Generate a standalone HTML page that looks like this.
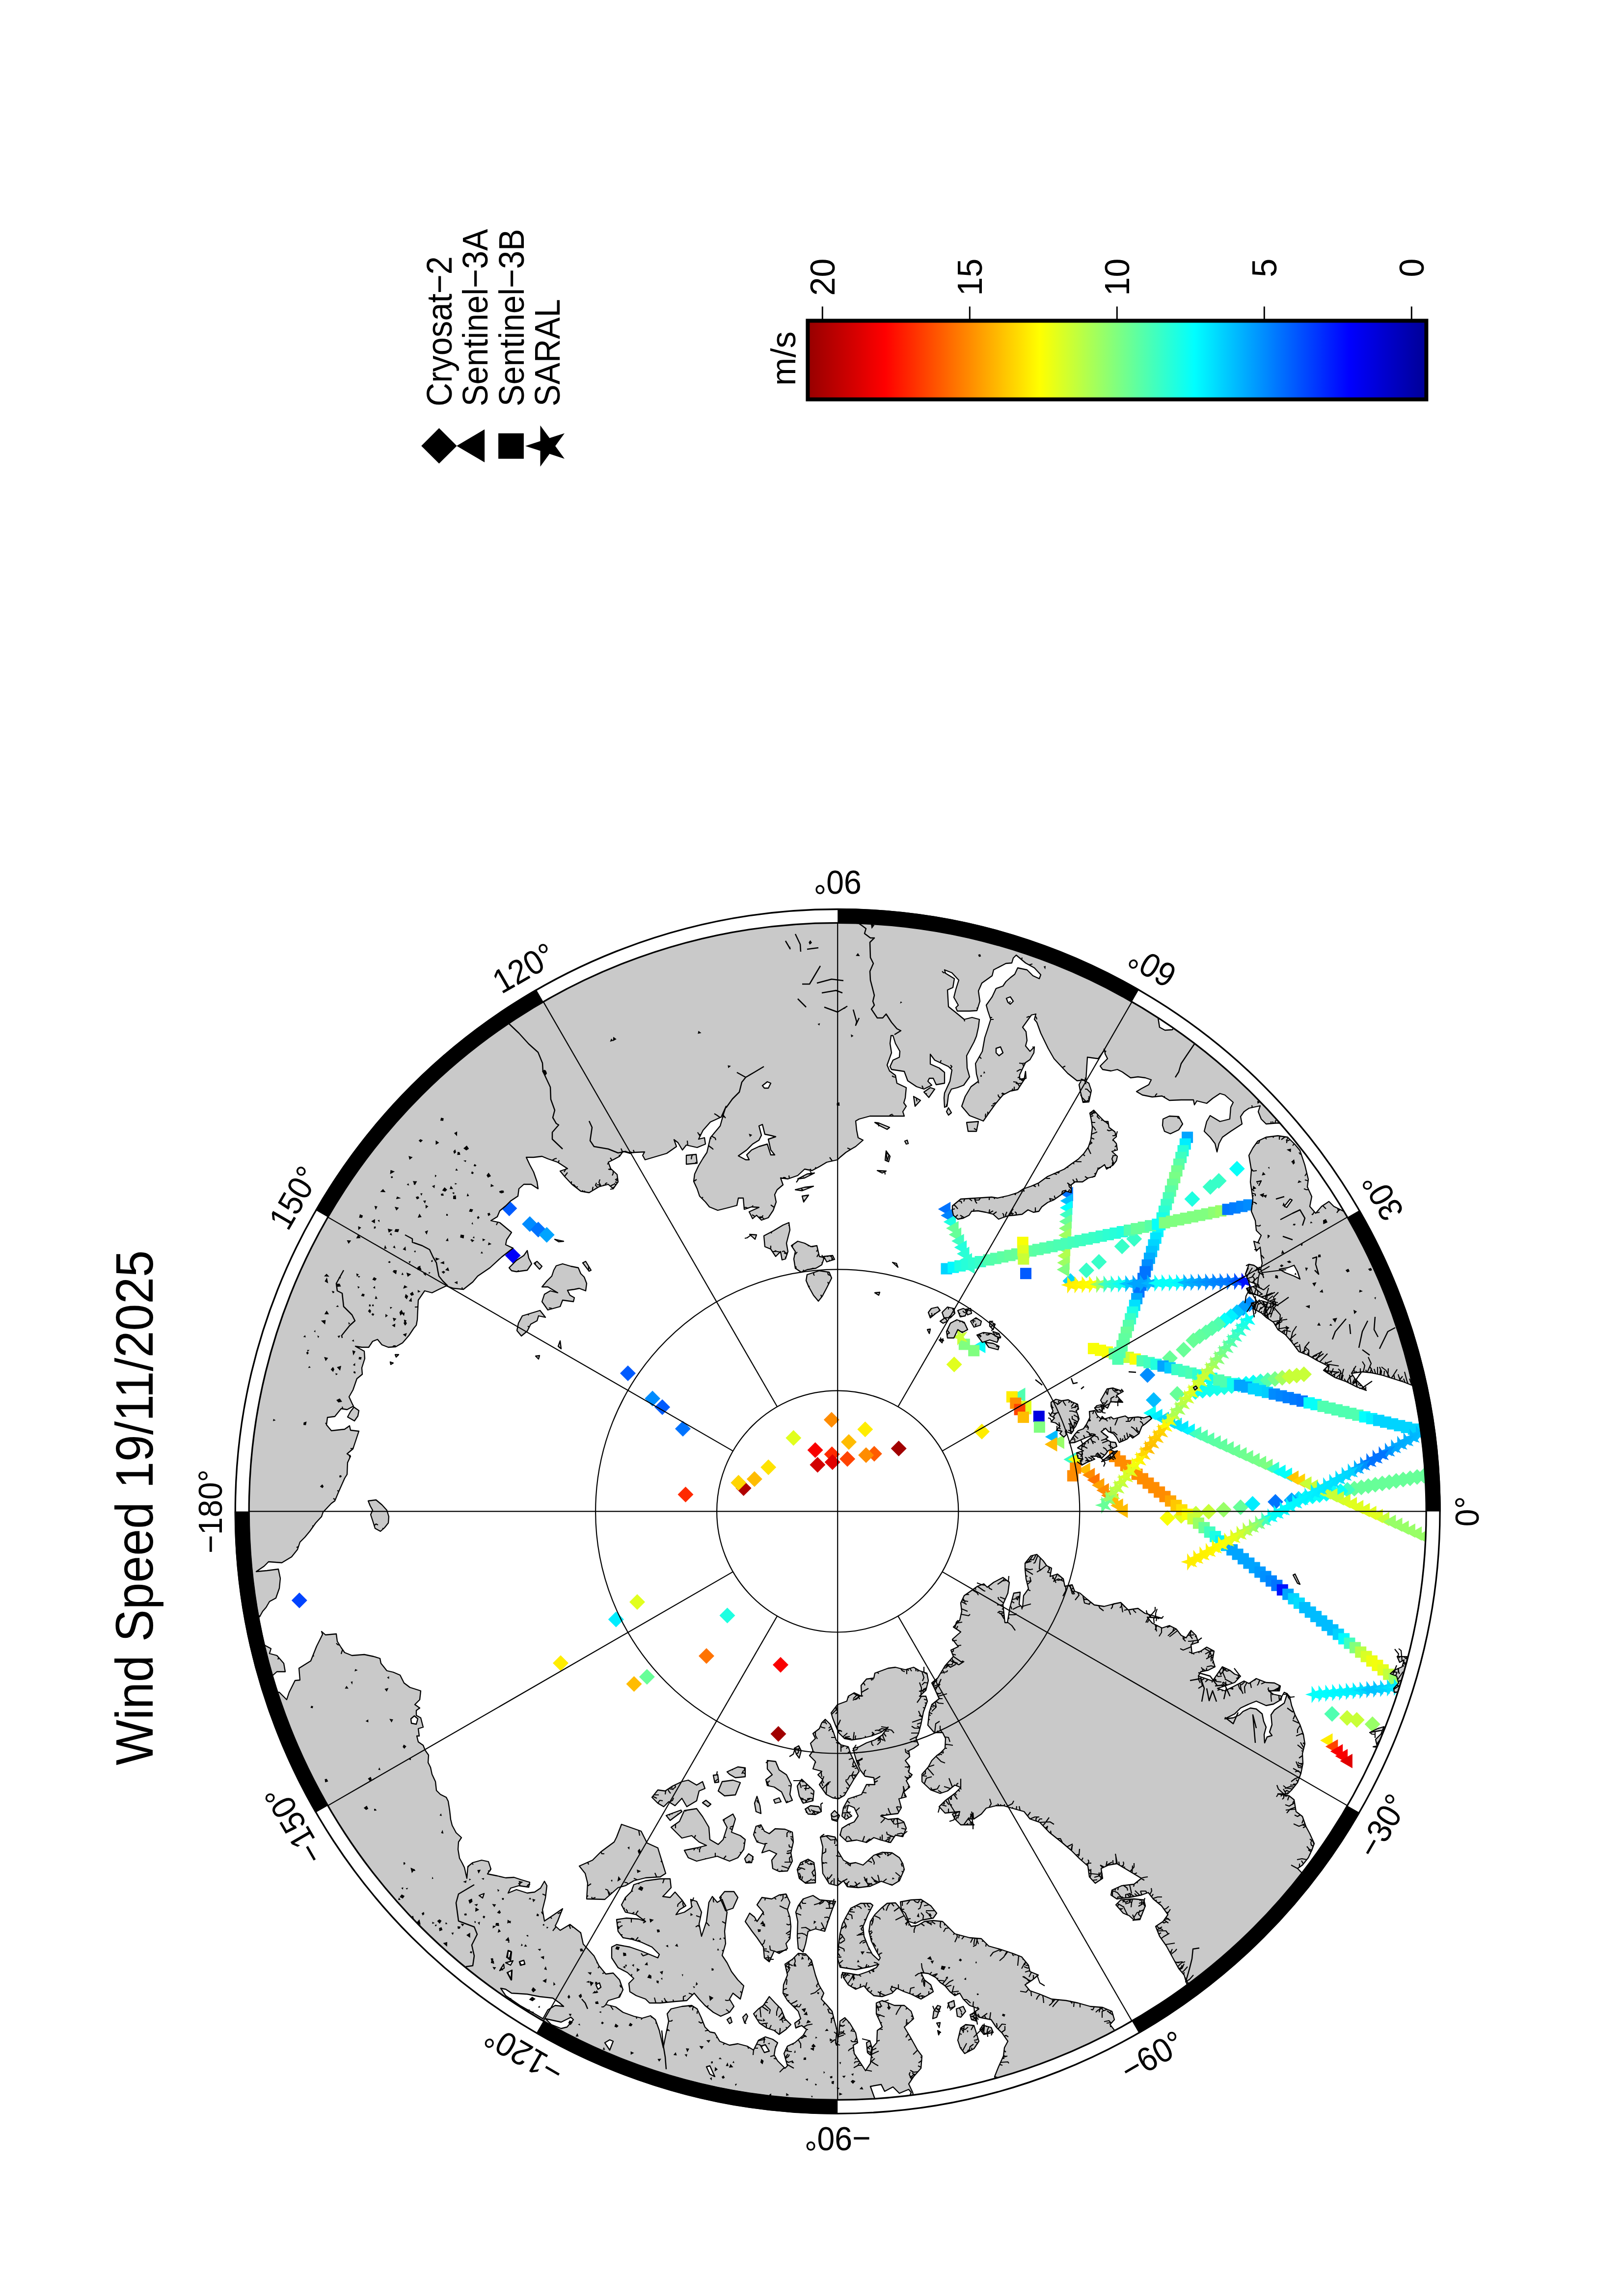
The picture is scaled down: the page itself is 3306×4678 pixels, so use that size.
<!DOCTYPE html><html><head><meta charset="utf-8"><style>html,body{margin:0;padding:0;background:#fff}svg{display:block}</style></head><body><svg width="3306" height="4678" viewBox="0 0 3306 4678"><rect width="3306" height="4678" fill="#fff"/><defs><clipPath id="mc"><circle cx="1706.2" cy="3079.4" r="1198.0"/></clipPath><linearGradient id="jet" x1="0" x2="1" y1="0" y2="0"><stop offset="0" stop-color="#960000"/><stop offset="0.125" stop-color="#ff0000"/><stop offset="0.375" stop-color="#ffff00"/><stop offset="0.625" stop-color="#00ffff"/><stop offset="0.875" stop-color="#0000ff"/><stop offset="1" stop-color="#000096"/></linearGradient></defs><g clip-path="url(#mc)"><path d="M1677.9,2892.8L1693.9,2876.8L1709.9,2892.8L1693.9,2908.8Z" fill="#ff8c00"/><path d="M1746.3,2912.3L1762.3,2896.3L1778.3,2912.3L1762.3,2928.3Z" fill="#ffed00"/><path d="M1600.3,2929.7L1616.3,2913.7L1632.3,2929.7L1616.3,2945.7Z" fill="#e1ff1e"/><path d="M1713,2937.9L1729,2921.9L1745,2937.9L1729,2953.9Z" fill="#ffbc00"/><path d="M1644.6,2954.5L1660.6,2938.5L1676.6,2954.5L1660.6,2970.5Z" fill="#f90000"/><path d="M1678.6,2963L1694.6,2947L1710.6,2963L1694.6,2979Z" fill="#ff2a00"/><path d="M1814.7,2951.2L1830.7,2935.2L1846.7,2951.2L1830.7,2967.2Z" fill="#a10000"/><path d="M1764.8,2961.9L1780.8,2945.9L1796.8,2961.9L1780.8,2977.9Z" fill="#ff5b00"/><path d="M1748.1,2964.8L1764.1,2948.8L1780.1,2964.8L1764.1,2980.8Z" fill="#ff8c00"/><path d="M1710.1,2972.6L1726.1,2956.6L1742.1,2972.6L1726.1,2988.6Z" fill="#ff4300"/><path d="M1679.7,2978.9L1695.7,2962.9L1711.7,2978.9L1695.7,2994.9Z" fill="#e10000"/><path d="M1649.4,2984.4L1665.4,2968.4L1681.4,2984.4L1665.4,3000.4Z" fill="#d20000"/><path d="M1549.2,2989.6L1565.2,2973.6L1581.2,2989.6L1565.2,3005.6Z" fill="#ffe300"/><path d="M1520.8,3013.6L1536.8,2997.6L1552.8,3013.6L1536.8,3029.6Z" fill="#ffbc00"/><path d="M1498.6,3032.1L1514.6,3016.1L1530.6,3032.1L1514.6,3048.1Z" fill="#b00000"/><path d="M1488.3,3021L1504.3,3005L1520.3,3021L1504.3,3037Z" fill="#ffd500"/><path d="M1380.5,3045L1396.5,3029L1412.5,3045L1396.5,3061Z" fill="#ff2a00"/><path d="M1465.5,3291.5L1481.5,3275.5L1497.5,3291.5L1481.5,3307.5Z" fill="#1effe1"/><path d="M1423,3374L1439,3358L1455,3374L1439,3390Z" fill="#ff7300"/><path d="M1927.6,2780L1943.6,2764L1959.6,2780L1943.6,2796Z" fill="#e1ff1e"/><path d="M1375,2911L1391,2895L1407,2911L1391,2927Z" fill="#0073ff"/><path d="M1984,2916.8L2000,2900.8L2016,2916.8L2000,2932.8Z" fill="#ffed00"/><path d="M1021.3,2461.9L1037.3,2445.9L1053.3,2461.9L1037.3,2477.9Z" fill="#005bff"/><path d="M1063.2,2494L1079.2,2478L1095.2,2494L1079.2,2510Z" fill="#008cff"/><path d="M1080.4,2505.3L1096.4,2489.3L1112.4,2505.3L1096.4,2521.3Z" fill="#0073ff"/><path d="M1097.7,2516.1L1113.7,2500.1L1129.7,2516.1L1113.7,2532.1Z" fill="#00a4ff"/><path d="M1028.7,2558L1044.7,2542L1060.7,2558L1044.7,2574Z" fill="#0000f9"/><path d="M1263,2798L1279,2782L1295,2798L1279,2814Z" fill="#005bff"/><path d="M593.8,3260.8L609.8,3244.8L625.8,3260.8L609.8,3276.8Z" fill="#0043ff"/><path d="M1238.8,3299.5L1254.8,3283.5L1270.8,3299.5L1254.8,3315.5Z" fill="#00edff"/><path d="M1126,3388.5L1142,3372.5L1158,3388.5L1142,3404.5Z" fill="#ffed00"/><path d="M1282,3264L1298,3248L1314,3264L1298,3280Z" fill="#e1ff1e"/><path d="M1275.5,3431L1291.5,3415L1307.5,3431L1291.5,3447Z" fill="#ffbc00"/><path d="M1301.9,3416.6L1317.9,3400.6L1333.9,3416.6L1317.9,3432.6Z" fill="#67ff98"/><path d="M1313.1,2849.4L1329.1,2833.4L1345.1,2849.4L1329.1,2865.4Z" fill="#008cff"/><path d="M1333.1,2867L1349.1,2851L1365.1,2867L1349.1,2883Z" fill="#005bff"/><path d="M1574,3392L1590,3376L1606,3392L1590,3408Z" fill="#f90000"/><path d="M1569.5,3532.8L1585.5,3516.8L1601.5,3532.8L1585.5,3548.8Z" fill="#a10000"/><path d="M2884.8,3006.7L2900.8,2990.7L2916.8,3006.7L2900.8,3022.7Z" fill="#67ff98"/><path d="M2870.6,3009.3L2886.6,2993.3L2902.6,3009.3L2886.6,3025.3Z" fill="#67ff98"/><path d="M2856.4,3012.0L2872.4,2996.0L2888.4,3012.0L2872.4,3028.0Z" fill="#67ff98"/><path d="M2842.2,3014.6L2858.2,2998.6L2874.2,3014.6L2858.2,3030.6Z" fill="#67ff98"/><path d="M2828.0,3017.2L2844.0,3001.2L2860.0,3017.2L2844.0,3033.2Z" fill="#67ff98"/><path d="M2813.8,3019.9L2829.8,3003.9L2845.8,3019.9L2829.8,3035.9Z" fill="#67ff98"/><path d="M2799.6,3022.5L2815.6,3006.5L2831.6,3022.5L2815.6,3038.5Z" fill="#67ff98"/><path d="M2785.4,3025.1L2801.4,3009.1L2817.4,3025.1L2801.4,3041.1Z" fill="#67ff98"/><path d="M2771.2,3027.8L2787.2,3011.8L2803.2,3027.8L2787.2,3043.8Z" fill="#67ff98"/><path d="M2757.0,3030.4L2773.0,3014.4L2789.0,3030.4L2773.0,3046.4Z" fill="#67ff98"/><path d="M2742.8,3033.0L2758.8,3017.0L2774.8,3033.0L2758.8,3049.0Z" fill="#67ff98"/><path d="M2728.6,3035.6L2744.6,3019.6L2760.6,3035.6L2744.6,3051.6Z" fill="#3fffc0"/><path d="M2714.4,3038.3L2730.4,3022.3L2746.4,3038.3L2730.4,3054.3Z" fill="#06fff9"/><path d="M2700.2,3040.9L2716.2,3024.9L2732.2,3040.9L2716.2,3056.9Z" fill="#06fff9"/><path d="M2686.0,3043.5L2702.0,3027.5L2718.0,3043.5L2702.0,3059.5Z" fill="#06fff9"/><path d="M2671.8,3046.2L2687.8,3030.2L2703.8,3046.2L2687.8,3062.2Z" fill="#06fff9"/><path d="M2657.6,3048.8L2673.6,3032.8L2689.6,3048.8L2673.6,3064.8Z" fill="#06fff9"/><path d="M2643.4,3051.4L2659.4,3035.4L2675.4,3051.4L2659.4,3067.4Z" fill="#06fff9"/><path d="M2629.2,3054.1L2645.2,3038.1L2661.2,3054.1L2645.2,3070.1Z" fill="#00d7ff"/><path d="M2615.0,3056.7L2631.0,3040.7L2647.0,3056.7L2631.0,3072.7Z" fill="#00a4ff"/><path d="M2362,3093L2378,3077L2394,3093L2378,3109Z" fill="#f9ff06"/><path d="M2390,3088.5L2406,3072.5L2422,3088.5L2406,3104.5Z" fill="#e1ff1e"/><path d="M2420,3084L2436,3068L2452,3084L2436,3100Z" fill="#c8ff37"/><path d="M2446,3080L2462,3064L2478,3080L2462,3096Z" fill="#c8ff37"/><path d="M2476.5,3076L2492.5,3060L2508.5,3076L2492.5,3092Z" fill="#98ff67"/><path d="M2511,3071L2527,3055L2543,3071L2527,3087Z" fill="#67ff98"/><path d="M2535.5,3064L2551.5,3048L2567.5,3064L2551.5,3080Z" fill="#00edff"/><path d="M2582,3060L2598,3044L2614,3060L2598,3076Z" fill="#0073ff"/><path d="M2529.0,2657.0L2545.0,2641.0L2561.0,2657.0L2545.0,2673.0Z" fill="#008cff"/><path d="M2516.3,2665.2L2532.3,2649.2L2548.3,2665.2L2532.3,2681.2Z" fill="#009eff"/><path d="M2503.7,2673.4L2519.7,2657.4L2535.7,2673.4L2519.7,2689.4Z" fill="#00c7ff"/><path d="M2491.0,2681.7L2507.0,2665.7L2523.0,2681.7L2507.0,2697.7Z" fill="#00f2ff"/><path d="M2478.3,2689.9L2494.3,2673.9L2510.3,2689.9L2494.3,2705.9Z" fill="#05fffa"/><path d="M2465.7,2698.1L2481.7,2682.1L2497.7,2698.1L2481.7,2714.1Z" fill="#4fffb0"/><path d="M2453.0,2706.3L2469.0,2690.3L2485.0,2706.3L2469.0,2722.3Z" fill="#55ffaa"/><path d="M2440.3,2714.6L2456.3,2698.6L2472.3,2714.6L2456.3,2730.6Z" fill="#5bffa4"/><path d="M2427.7,2722.8L2443.7,2706.8L2459.7,2722.8L2443.7,2738.8Z" fill="#61ff9e"/><path d="M2415.0,2731.0L2431.0,2715.0L2447.0,2731.0L2431.0,2747.0Z" fill="#67ff98"/><path d="M2395,2750L2411,2734L2427,2750L2411,2766Z" fill="#67ff98"/><path d="M2367,2767L2383,2751L2399,2767L2383,2783Z" fill="#67ff98"/><path d="M2321.4,2801.5L2337.4,2785.5L2353.4,2801.5L2337.4,2817.5Z" fill="#008cff"/><path d="M2419.0,2836.0L2435.0,2820.0L2451.0,2836.0L2435.0,2852.0Z" fill="#06fff9"/><path d="M2433.7,2833.6L2449.7,2817.6L2465.7,2833.6L2449.7,2849.6Z" fill="#0bfff4"/><path d="M2448.5,2831.2L2464.5,2815.2L2480.5,2831.2L2464.5,2847.2Z" fill="#11ffee"/><path d="M2463.2,2828.8L2479.2,2812.8L2495.2,2828.8L2479.2,2844.8Z" fill="#16ffe9"/><path d="M2477.9,2826.4L2493.9,2810.4L2509.9,2826.4L2493.9,2842.4Z" fill="#1cffe3"/><path d="M2492.7,2824.0L2508.7,2808.0L2524.7,2824.0L2508.7,2840.0Z" fill="#19ffe6"/><path d="M2507.4,2821.6L2523.4,2805.6L2539.4,2821.6L2523.4,2837.6Z" fill="#0efff1"/><path d="M2522.1,2819.2L2538.1,2803.2L2554.1,2819.2L2538.1,2835.2Z" fill="#06fff9"/><path d="M2536.9,2816.8L2552.9,2800.8L2568.9,2816.8L2552.9,2832.8Z" fill="#06fff9"/><path d="M2551.6,2814.4L2567.6,2798.4L2583.6,2814.4L2567.6,2830.4Z" fill="#2bffd4"/><path d="M2566.3,2812.0L2582.3,2796.0L2598.3,2812.0L2582.3,2828.0Z" fill="#57ffa8"/><path d="M2581.1,2809.6L2597.1,2793.6L2613.1,2809.6L2597.1,2825.6Z" fill="#77ff88"/><path d="M2595.8,2807.2L2611.8,2791.2L2627.8,2807.2L2611.8,2823.2Z" fill="#a4ff5b"/><path d="M2610.5,2804.8L2626.5,2788.8L2642.5,2804.8L2626.5,2820.8Z" fill="#c8ff37"/><path d="M2625.3,2802.4L2641.3,2786.4L2657.3,2802.4L2641.3,2818.4Z" fill="#c8ff37"/><path d="M2640.0,2800.0L2656.0,2784.0L2672.0,2800.0L2656.0,2816.0Z" fill="#c8ff37"/><path d="M2382,2840L2398,2824L2414,2840L2398,2856Z" fill="#67ff98"/><path d="M2334,2852.5L2350,2836.5L2366,2852.5L2350,2868.5Z" fill="#00bcff"/><path d="M2503.7,2381.3L2519.7,2365.3L2535.7,2381.3L2519.7,2397.3Z" fill="#06fff9"/><path d="M2466.7,2405.9L2482.7,2389.9L2498.7,2405.9L2482.7,2421.9Z" fill="#37ffc8"/><path d="M2449.5,2418.3L2465.5,2402.3L2481.5,2418.3L2465.5,2434.3Z" fill="#37ffc8"/><path d="M2412.5,2442.9L2428.5,2426.9L2444.5,2442.9L2428.5,2458.9Z" fill="#1effe1"/><path d="M2294.2,2524.2L2310.2,2508.2L2326.2,2524.2L2310.2,2540.2Z" fill="#37ffc8"/><path d="M2269.6,2539.5L2285.6,2523.5L2301.6,2539.5L2285.6,2555.5Z" fill="#37ffc8"/><path d="M2222.5,2571L2238.5,2555L2254.5,2571L2238.5,2587Z" fill="#37ffc8"/><path d="M2197,2588.2L2213,2572.2L2229,2588.2L2213,2604.2Z" fill="#37ffc8"/><path d="M2164.5,2610L2180.5,2594L2196.5,2610L2180.5,2626Z" fill="#00d4ff"/><path d="M2697.4,3491.9L2713.4,3475.9L2729.4,3491.9L2713.4,3507.9Z" fill="#4fffb0"/><path d="M2728,3500.2L2744,3484.2L2760,3500.2L2744,3516.2Z" fill="#c8ff37"/><path d="M2747.7,3504.2L2763.7,3488.2L2779.7,3504.2L2763.7,3520.2Z" fill="#c8ff37"/><path d="M2779.7,3513.1L2795.7,3497.1L2811.7,3513.1L2795.7,3529.1Z" fill="#98ff67"/><path d="M2329.0,2879.0L2354.5,2864.3L2354.5,2893.7Z" fill="#06fff9"/><path d="M2342.2,2885.0L2367.7,2870.3L2367.7,2899.7Z" fill="#00eeff"/><path d="M2355.4,2891.0L2380.9,2876.3L2380.9,2905.7Z" fill="#00d7ff"/><path d="M2368.6,2897.0L2394.1,2882.3L2394.1,2911.7Z" fill="#00daff"/><path d="M2381.8,2903.0L2407.3,2888.3L2407.3,2917.7Z" fill="#00e1ff"/><path d="M2395.0,2909.0L2420.5,2894.3L2420.5,2923.7Z" fill="#00e7ff"/><path d="M2408.3,2914.9L2433.8,2900.2L2433.8,2929.6Z" fill="#00f6ff"/><path d="M2421.5,2920.9L2447.0,2906.2L2447.0,2935.6Z" fill="#44ffbb"/><path d="M2434.7,2926.9L2460.2,2912.2L2460.2,2941.6Z" fill="#53ffac"/><path d="M2447.9,2932.9L2473.4,2918.2L2473.4,2947.6Z" fill="#57ffa8"/><path d="M2461.1,2938.9L2486.6,2924.2L2486.6,2953.6Z" fill="#5cffa3"/><path d="M2474.3,2944.9L2499.8,2930.2L2499.8,2959.6Z" fill="#60ff9f"/><path d="M2487.5,2950.9L2513.0,2936.2L2513.0,2965.6Z" fill="#65ff9a"/><path d="M2500.7,2956.9L2526.2,2942.2L2526.2,2971.6Z" fill="#69ff96"/><path d="M2513.9,2962.9L2539.4,2948.2L2539.4,2977.6Z" fill="#6dff92"/><path d="M2527.1,2968.9L2552.6,2954.2L2552.6,2983.6Z" fill="#71ff8e"/><path d="M2540.4,2974.8L2565.9,2960.1L2565.9,2989.5Z" fill="#75ff8a"/><path d="M2553.6,2980.8L2579.1,2966.1L2579.1,2995.5Z" fill="#79ff86"/><path d="M2566.8,2986.8L2592.3,2972.1L2592.3,3001.5Z" fill="#7eff81"/><path d="M2580.0,2992.8L2605.5,2978.1L2605.5,3007.5Z" fill="#34ffcb"/><path d="M2593.2,2998.8L2618.7,2984.1L2618.7,3013.5Z" fill="#06fff9"/><path d="M2606.4,3004.8L2631.9,2990.1L2631.9,3019.5Z" fill="#06fff9"/><path d="M2619.6,3010.8L2645.1,2996.1L2645.1,3025.5Z" fill="#ffc500"/><path d="M2632.8,3016.8L2658.3,3002.1L2658.3,3031.5Z" fill="#ffd300"/><path d="M2646.0,3022.8L2671.5,3008.1L2671.5,3037.5Z" fill="#c8ff37"/><path d="M2659.2,3028.8L2684.7,3014.1L2684.7,3043.5Z" fill="#c8ff37"/><path d="M2672.4,3034.8L2697.9,3020.1L2697.9,3049.5Z" fill="#c8ff37"/><path d="M2685.7,3040.7L2711.2,3026.0L2711.2,3055.4Z" fill="#c8ff37"/><path d="M2698.9,3046.7L2724.4,3032.0L2724.4,3061.4Z" fill="#c8ff37"/><path d="M2712.1,3052.7L2737.6,3038.0L2737.6,3067.4Z" fill="#c8ff37"/><path d="M2725.3,3058.7L2750.8,3044.0L2750.8,3073.4Z" fill="#daff25"/><path d="M2738.5,3064.7L2764.0,3050.0L2764.0,3079.4Z" fill="#e1ff1e"/><path d="M2751.7,3070.7L2777.2,3056.0L2777.2,3085.4Z" fill="#e1ff1e"/><path d="M2764.9,3076.7L2790.4,3062.0L2790.4,3091.4Z" fill="#e1ff1e"/><path d="M2778.1,3082.7L2803.6,3068.0L2803.6,3097.4Z" fill="#e1ff1e"/><path d="M2791.3,3088.7L2816.8,3074.0L2816.8,3103.4Z" fill="#e1ff1e"/><path d="M2804.5,3094.7L2830.0,3080.0L2830.0,3109.4Z" fill="#c7ff38"/><path d="M2817.8,3100.6L2843.3,3085.9L2843.3,3115.3Z" fill="#98ff67"/><path d="M2831.0,3106.6L2856.5,3091.9L2856.5,3121.3Z" fill="#98ff67"/><path d="M2844.2,3112.6L2869.7,3097.9L2869.7,3127.3Z" fill="#98ff67"/><path d="M2857.4,3118.6L2882.9,3103.9L2882.9,3133.3Z" fill="#98ff67"/><path d="M2870.6,3124.6L2896.1,3109.9L2896.1,3139.3Z" fill="#98ff67"/><path d="M2883.8,3130.6L2909.3,3115.9L2909.3,3145.3Z" fill="#98ff67"/><path d="M2160.3,2432.7L2185.8,2418.0L2185.8,2447.4Z" fill="#0073ff"/><path d="M2159.6,2446.7L2185.1,2432.0L2185.1,2461.4Z" fill="#00bdff"/><path d="M2158.9,2460.7L2184.4,2446.0L2184.4,2475.4Z" fill="#02fffd"/><path d="M2158.2,2474.7L2183.7,2460.0L2183.7,2489.4Z" fill="#3dffc2"/><path d="M2157.5,2488.7L2183.0,2474.0L2183.0,2503.4Z" fill="#66ff99"/><path d="M2156.8,2502.7L2182.3,2488.0L2182.3,2517.4Z" fill="#87ff78"/><path d="M2156.1,2516.8L2181.6,2502.1L2181.6,2531.5Z" fill="#9fff60"/><path d="M2155.4,2530.8L2180.9,2516.1L2180.9,2545.5Z" fill="#aeff51"/><path d="M2154.7,2544.8L2180.2,2530.1L2180.2,2559.5Z" fill="#b0ff4f"/><path d="M2154.0,2558.8L2179.5,2544.1L2179.5,2573.5Z" fill="#b0ff4f"/><path d="M2153.3,2572.8L2178.8,2558.1L2178.8,2587.5Z" fill="#9dff62"/><path d="M2152.6,2586.8L2178.1,2572.1L2178.1,2601.5Z" fill="#80ff80"/><path d="M1910.7,2463.5L1936.2,2448.8L1936.2,2478.2Z" fill="#0073ff"/><path d="M1916.2,2476.5L1941.7,2461.8L1941.7,2491.2Z" fill="#0084ff"/><path d="M1921.7,2489.5L1947.2,2474.8L1947.2,2504.2Z" fill="#1cffe3"/><path d="M1927.1,2502.5L1952.6,2487.8L1952.6,2517.2Z" fill="#67ff98"/><path d="M1932.6,2515.5L1958.1,2500.8L1958.1,2530.2Z" fill="#67ff98"/><path d="M1938.1,2528.6L1963.6,2513.9L1963.6,2543.3Z" fill="#3fffc0"/><path d="M1943.6,2541.6L1969.1,2526.9L1969.1,2556.3Z" fill="#22ffdd"/><path d="M1949.0,2554.6L1974.5,2539.9L1974.5,2569.3Z" fill="#29ffd6"/><path d="M1954.5,2567.6L1980.0,2552.9L1980.0,2582.3Z" fill="#30ffcf"/><path d="M1960.0,2580.6L1985.5,2565.9L1985.5,2595.3Z" fill="#37ffc8"/><path d="M2063,2842L2088.5,2827.3L2088.5,2856.7Z" fill="#4fffb0"/><path d="M1981.8,2742.4L2007.3,2727.7L2007.3,2757.1Z" fill="#06fff9"/><path d="M2128.8,2927.4L2154.3,2912.7L2154.3,2942.1Z" fill="#00bcff"/><path d="M2142.4,2937.5L2167.9,2922.8L2167.9,2952.2Z" fill="#98ff67"/><path d="M2127.9,2942.7L2153.4,2928.0L2153.4,2957.4Z" fill="#ffbc00"/><path d="M2166.4,2973.6L2191.9,2958.9L2191.9,2988.3Z" fill="#37ffc8"/><path d="M2175.7,2973.6L2201.2,2958.9L2201.2,2988.3Z" fill="#f9ff06"/><path d="M2195.1,2994.8L2220.6,2980.1L2220.6,3009.5Z" fill="#ffbc00"/><path d="M2204.7,3005.2L2230.2,2990.5L2230.2,3019.9Z" fill="#ff8b00"/><path d="M2214.3,3015.6L2239.8,3000.9L2239.8,3030.3Z" fill="#ff7300"/><path d="M2223.9,3026.0L2249.4,3011.3L2249.4,3040.7Z" fill="#ffa200"/><path d="M2233.4,3036.4L2258.9,3021.7L2258.9,3051.1Z" fill="#ff8c00"/><path d="M2243.0,3046.8L2268.5,3032.1L2268.5,3061.5Z" fill="#ff8e00"/><path d="M2252.6,3057.2L2278.1,3042.5L2278.1,3071.9Z" fill="#ffbc00"/><path d="M2262.2,3067.6L2287.7,3052.9L2287.7,3082.3Z" fill="#ffbc00"/><path d="M2271.8,3078.0L2297.3,3063.3L2297.3,3092.7Z" fill="#ffbc00"/><path d="M2689,3546.1L2714.5,3531.4L2714.5,3560.8Z" fill="#ffed00"/><path d="M2699.8,3558.4L2725.3,3543.7L2725.3,3573.1Z" fill="#ff4300"/><path d="M2709.7,3568.3L2735.2,3553.6L2735.2,3583.0Z" fill="#f90000"/><path d="M2719.6,3578.1L2745.1,3563.4L2745.1,3592.8Z" fill="#f90000"/><path d="M2729.4,3588L2754.9,3573.3L2754.9,3602.7Z" fill="#e10000"/><rect x="2215.9" y="2736.1" width="23.0" height="23.0" fill="#f9ff06"/><rect x="2230.1" y="2739.7" width="23.0" height="23.0" fill="#f9ff06"/><rect x="2244.2" y="2743.2" width="23.0" height="23.0" fill="#f9ff06"/><rect x="2258.4" y="2746.8" width="23.0" height="23.0" fill="#67ff98"/><rect x="2272.6" y="2750.4" width="23.0" height="23.0" fill="#67ff98"/><rect x="2286.8" y="2754.0" width="23.0" height="23.0" fill="#c4ff3b"/><rect x="2300.9" y="2757.5" width="23.0" height="23.0" fill="#f9ff06"/><rect x="2315.1" y="2761.1" width="23.0" height="23.0" fill="#4dffb2"/><rect x="2329.3" y="2764.7" width="23.0" height="23.0" fill="#41ffbe"/><rect x="2343.4" y="2768.2" width="23.0" height="23.0" fill="#21ffde"/><rect x="2357.6" y="2771.8" width="23.0" height="23.0" fill="#00a4ff"/><rect x="2371.8" y="2775.4" width="23.0" height="23.0" fill="#00cbff"/><rect x="2385.9" y="2778.9" width="23.0" height="23.0" fill="#3affc5"/><rect x="2400.1" y="2782.5" width="23.0" height="23.0" fill="#42ffbd"/><rect x="2414.3" y="2786.1" width="23.0" height="23.0" fill="#4affb5"/><rect x="2428.5" y="2789.7" width="23.0" height="23.0" fill="#2effd1"/><rect x="2442.6" y="2793.2" width="23.0" height="23.0" fill="#06fff9"/><rect x="2456.8" y="2796.8" width="23.0" height="23.0" fill="#0cfff3"/><rect x="2471.0" y="2800.4" width="23.0" height="23.0" fill="#4fffb0"/><rect x="2485.1" y="2803.9" width="23.0" height="23.0" fill="#4fffb0"/><rect x="2499.3" y="2807.5" width="23.0" height="23.0" fill="#10ffef"/><rect x="2513.5" y="2811.1" width="23.0" height="23.0" fill="#00a4ff"/><rect x="2527.6" y="2814.6" width="23.0" height="23.0" fill="#00a4ff"/><rect x="2541.8" y="2818.2" width="23.0" height="23.0" fill="#00d4ff"/><rect x="2556.0" y="2821.8" width="23.0" height="23.0" fill="#00d4ff"/><rect x="2570.2" y="2825.4" width="23.0" height="23.0" fill="#00ceff"/><rect x="2584.3" y="2828.9" width="23.0" height="23.0" fill="#008bff"/><rect x="2598.5" y="2832.5" width="23.0" height="23.0" fill="#0085ff"/><rect x="2612.7" y="2836.1" width="23.0" height="23.0" fill="#007fff"/><rect x="2626.8" y="2839.6" width="23.0" height="23.0" fill="#007aff"/><rect x="2641.0" y="2843.2" width="23.0" height="23.0" fill="#0074ff"/><rect x="2655.2" y="2846.8" width="23.0" height="23.0" fill="#06fff9"/><rect x="2669.3" y="2850.3" width="23.0" height="23.0" fill="#06fff9"/><rect x="2683.5" y="2853.9" width="23.0" height="23.0" fill="#4fffb0"/><rect x="2697.7" y="2857.5" width="23.0" height="23.0" fill="#4fffb0"/><rect x="2711.9" y="2861.1" width="23.0" height="23.0" fill="#4fffb0"/><rect x="2726.0" y="2864.6" width="23.0" height="23.0" fill="#4fffb0"/><rect x="2740.2" y="2868.2" width="23.0" height="23.0" fill="#4fffb0"/><rect x="2754.4" y="2871.8" width="23.0" height="23.0" fill="#4fffb0"/><rect x="2768.5" y="2875.3" width="23.0" height="23.0" fill="#02fffd"/><rect x="2782.7" y="2878.9" width="23.0" height="23.0" fill="#00f0ff"/><rect x="2796.9" y="2882.5" width="23.0" height="23.0" fill="#00d4ff"/><rect x="2811.0" y="2886.0" width="23.0" height="23.0" fill="#00d4ff"/><rect x="2825.2" y="2889.6" width="23.0" height="23.0" fill="#00d4ff"/><rect x="2839.4" y="2893.2" width="23.0" height="23.0" fill="#00d4ff"/><rect x="2853.6" y="2896.8" width="23.0" height="23.0" fill="#00d4ff"/><rect x="2867.7" y="2900.3" width="23.0" height="23.0" fill="#00d4ff"/><rect x="2881.9" y="2903.9" width="23.0" height="23.0" fill="#00d4ff"/><rect x="2259.0" y="2956.1" width="23.0" height="23.0" fill="#ff8c00"/><rect x="2270.4" y="2965.2" width="23.0" height="23.0" fill="#ff8c00"/><rect x="2281.8" y="2974.2" width="23.0" height="23.0" fill="#ff8c00"/><rect x="2293.2" y="2983.3" width="23.0" height="23.0" fill="#ff8c00"/><rect x="2304.6" y="2992.3" width="23.0" height="23.0" fill="#ff8c00"/><rect x="2316.0" y="3001.4" width="23.0" height="23.0" fill="#ff8c00"/><rect x="2327.4" y="3010.4" width="23.0" height="23.0" fill="#ff8c00"/><rect x="2338.7" y="3019.5" width="23.0" height="23.0" fill="#ff8c00"/><rect x="2350.1" y="3028.5" width="23.0" height="23.0" fill="#ff8c00"/><rect x="2361.5" y="3037.6" width="23.0" height="23.0" fill="#ff8c00"/><rect x="2372.9" y="3046.7" width="23.0" height="23.0" fill="#ffa400"/><rect x="2384.3" y="3055.7" width="23.0" height="23.0" fill="#ffc800"/><rect x="2395.7" y="3064.8" width="23.0" height="23.0" fill="#ffe100"/><rect x="2407.1" y="3073.8" width="23.0" height="23.0" fill="#f9ff06"/><rect x="2418.5" y="3082.9" width="23.0" height="23.0" fill="#c8ff37"/><rect x="2429.9" y="3091.9" width="23.0" height="23.0" fill="#98ff67"/><rect x="2441.3" y="3101.0" width="23.0" height="23.0" fill="#67ff98"/><rect x="2452.7" y="3110.1" width="23.0" height="23.0" fill="#40ffbf"/><rect x="2464.1" y="3119.1" width="23.0" height="23.0" fill="#1affe5"/><rect x="2475.4" y="3128.2" width="23.0" height="23.0" fill="#00f2ff"/><rect x="2486.8" y="3137.2" width="23.0" height="23.0" fill="#00cbff"/><rect x="2498.2" y="3146.3" width="23.0" height="23.0" fill="#00a4ff"/><rect x="2509.6" y="3155.3" width="23.0" height="23.0" fill="#00a4ff"/><rect x="2521.0" y="3164.4" width="23.0" height="23.0" fill="#00a4ff"/><rect x="2532.4" y="3173.4" width="23.0" height="23.0" fill="#00a4ff"/><rect x="2543.8" y="3182.5" width="23.0" height="23.0" fill="#00a4ff"/><rect x="2555.2" y="3191.6" width="23.0" height="23.0" fill="#009aff"/><rect x="2566.6" y="3200.6" width="23.0" height="23.0" fill="#0090ff"/><rect x="2578.0" y="3209.7" width="23.0" height="23.0" fill="#0084ff"/><rect x="2589.4" y="3218.7" width="23.0" height="23.0" fill="#0073ff"/><rect x="2600.8" y="3227.8" width="23.0" height="23.0" fill="#0012ff"/><rect x="2612.2" y="3236.8" width="23.0" height="23.0" fill="#00a4ff"/><rect x="2623.5" y="3245.9" width="23.0" height="23.0" fill="#00d4ff"/><rect x="2634.9" y="3254.9" width="23.0" height="23.0" fill="#00ddff"/><rect x="2646.3" y="3264.0" width="23.0" height="23.0" fill="#00bcff"/><rect x="2657.7" y="3273.1" width="23.0" height="23.0" fill="#00bcff"/><rect x="2669.1" y="3282.1" width="23.0" height="23.0" fill="#00bcff"/><rect x="2680.5" y="3291.2" width="23.0" height="23.0" fill="#00bcff"/><rect x="2691.9" y="3300.2" width="23.0" height="23.0" fill="#00bcff"/><rect x="2703.3" y="3309.3" width="23.0" height="23.0" fill="#00bcff"/><rect x="2714.7" y="3318.3" width="23.0" height="23.0" fill="#00d1ff"/><rect x="2726.1" y="3327.4" width="23.0" height="23.0" fill="#00fbff"/><rect x="2737.5" y="3336.5" width="23.0" height="23.0" fill="#40ffbf"/><rect x="2748.9" y="3345.5" width="23.0" height="23.0" fill="#83ff7c"/><rect x="2760.2" y="3354.6" width="23.0" height="23.0" fill="#baff45"/><rect x="2771.6" y="3363.6" width="23.0" height="23.0" fill="#d9ff26"/><rect x="2783.0" y="3372.7" width="23.0" height="23.0" fill="#eeff11"/><rect x="2794.4" y="3381.7" width="23.0" height="23.0" fill="#f2ff0d"/><rect x="2805.8" y="3390.8" width="23.0" height="23.0" fill="#e4ff1b"/><rect x="2817.2" y="3399.8" width="23.0" height="23.0" fill="#c1ff3e"/><rect x="2828.6" y="3408.9" width="23.0" height="23.0" fill="#98ff67"/><rect x="2407.1" y="2305.7" width="23.0" height="23.0" fill="#00a4ff"/><rect x="2402.8" y="2319.4" width="23.0" height="23.0" fill="#00eeff"/><rect x="2398.5" y="2333.1" width="23.0" height="23.0" fill="#27ffd8"/><rect x="2394.2" y="2346.8" width="23.0" height="23.0" fill="#3fffc0"/><rect x="2389.9" y="2360.5" width="23.0" height="23.0" fill="#58ffa7"/><rect x="2385.6" y="2374.2" width="23.0" height="23.0" fill="#71ff8e"/><rect x="2381.4" y="2387.9" width="23.0" height="23.0" fill="#79ff86"/><rect x="2377.1" y="2401.6" width="23.0" height="23.0" fill="#6aff95"/><rect x="2372.8" y="2415.3" width="23.0" height="23.0" fill="#5affa5"/><rect x="2368.5" y="2429.0" width="23.0" height="23.0" fill="#4affb5"/><rect x="2364.2" y="2442.7" width="23.0" height="23.0" fill="#3affc5"/><rect x="2359.9" y="2456.4" width="23.0" height="23.0" fill="#2affd5"/><rect x="2355.6" y="2470.1" width="23.0" height="23.0" fill="#19ffe6"/><rect x="2351.3" y="2483.8" width="23.0" height="23.0" fill="#08fff7"/><rect x="2347.0" y="2497.5" width="23.0" height="23.0" fill="#00f6ff"/><rect x="2342.7" y="2511.2" width="23.0" height="23.0" fill="#00e5ff"/><rect x="2338.4" y="2524.9" width="23.0" height="23.0" fill="#00d5ff"/><rect x="2334.2" y="2538.5" width="23.0" height="23.0" fill="#00c4ff"/><rect x="2329.9" y="2552.2" width="23.0" height="23.0" fill="#00acff"/><rect x="2325.6" y="2565.9" width="23.0" height="23.0" fill="#008dff"/><rect x="2321.3" y="2579.6" width="23.0" height="23.0" fill="#0073ff"/><rect x="2317.0" y="2593.3" width="23.0" height="23.0" fill="#0073ff"/><rect x="2312.7" y="2607.0" width="23.0" height="23.0" fill="#0073ff"/><rect x="2308.4" y="2620.7" width="23.0" height="23.0" fill="#0073ff"/><rect x="2304.1" y="2634.4" width="23.0" height="23.0" fill="#00a7ff"/><rect x="2299.8" y="2648.1" width="23.0" height="23.0" fill="#00e0ff"/><rect x="2295.5" y="2661.8" width="23.0" height="23.0" fill="#1affe5"/><rect x="2291.2" y="2675.5" width="23.0" height="23.0" fill="#38ffc7"/><rect x="2287.0" y="2689.2" width="23.0" height="23.0" fill="#54ffab"/><rect x="2282.7" y="2702.9" width="23.0" height="23.0" fill="#66ff99"/><rect x="2278.4" y="2716.6" width="23.0" height="23.0" fill="#60ff9f"/><rect x="2274.1" y="2730.3" width="23.0" height="23.0" fill="#5affa5"/><rect x="2269.8" y="2744.0" width="23.0" height="23.0" fill="#55ffaa"/><rect x="2265.5" y="2757.7" width="23.0" height="23.0" fill="#4fffb0"/><rect x="1916.5" y="2573.5" width="23.0" height="23.0" fill="#00d4ff"/><rect x="1930.3" y="2570.6" width="23.0" height="23.0" fill="#00f9ff"/><rect x="1944.1" y="2567.7" width="23.0" height="23.0" fill="#1effe1"/><rect x="1957.9" y="2564.8" width="23.0" height="23.0" fill="#26ffd9"/><rect x="1971.7" y="2561.9" width="23.0" height="23.0" fill="#2fffd0"/><rect x="1985.5" y="2559.0" width="23.0" height="23.0" fill="#37ffc8"/><rect x="2002.5" y="2555.5" width="23.0" height="23.0" fill="#4fffb0"/><rect x="2016.8" y="2552.5" width="23.0" height="23.0" fill="#55ffaa"/><rect x="2031.1" y="2549.4" width="23.0" height="23.0" fill="#5cffa3"/><rect x="2045.5" y="2546.4" width="23.0" height="23.0" fill="#63ff9c"/><rect x="2059.8" y="2543.4" width="23.0" height="23.0" fill="#66ff99"/><rect x="2074.1" y="2540.4" width="23.0" height="23.0" fill="#62ff9d"/><rect x="2088.4" y="2537.3" width="23.0" height="23.0" fill="#5dffa2"/><rect x="2102.8" y="2534.3" width="23.0" height="23.0" fill="#59ffa6"/><rect x="2117.1" y="2531.3" width="23.0" height="23.0" fill="#54ffab"/><rect x="2131.4" y="2528.3" width="23.0" height="23.0" fill="#50ffaf"/><rect x="2145.7" y="2525.2" width="23.0" height="23.0" fill="#4cffb3"/><rect x="2160.1" y="2522.2" width="23.0" height="23.0" fill="#48ffb7"/><rect x="2174.4" y="2519.2" width="23.0" height="23.0" fill="#44ffbb"/><rect x="2188.7" y="2516.1" width="23.0" height="23.0" fill="#40ffbf"/><rect x="2203.0" y="2513.1" width="23.0" height="23.0" fill="#3dffc2"/><rect x="2217.4" y="2510.1" width="23.0" height="23.0" fill="#39ffc6"/><rect x="2231.7" y="2507.1" width="23.0" height="23.0" fill="#34ffcb"/><rect x="2246.0" y="2504.0" width="23.0" height="23.0" fill="#2dffd2"/><rect x="2260.3" y="2501.0" width="23.0" height="23.0" fill="#26ffd9"/><rect x="2274.7" y="2498.0" width="23.0" height="23.0" fill="#20ffdf"/><rect x="2289.0" y="2495.0" width="23.0" height="23.0" fill="#50ffaf"/><rect x="2303.3" y="2491.9" width="23.0" height="23.0" fill="#67ff98"/><rect x="2317.6" y="2488.9" width="23.0" height="23.0" fill="#67ff98"/><rect x="2332.0" y="2485.9" width="23.0" height="23.0" fill="#57ffa8"/><rect x="2346.3" y="2482.9" width="23.0" height="23.0" fill="#06fff9"/><rect x="2360.6" y="2479.8" width="23.0" height="23.0" fill="#80ff80"/><rect x="2374.9" y="2476.8" width="23.0" height="23.0" fill="#80ff80"/><rect x="2389.3" y="2473.8" width="23.0" height="23.0" fill="#80ff80"/><rect x="2403.6" y="2470.7" width="23.0" height="23.0" fill="#80ff80"/><rect x="2417.9" y="2467.7" width="23.0" height="23.0" fill="#80ff80"/><rect x="2432.2" y="2464.7" width="23.0" height="23.0" fill="#80ff80"/><rect x="2446.6" y="2461.7" width="23.0" height="23.0" fill="#80ff80"/><rect x="2460.9" y="2458.6" width="23.0" height="23.0" fill="#8cff73"/><rect x="2475.2" y="2455.6" width="23.0" height="23.0" fill="#98ff67"/><rect x="2489.5" y="2452.6" width="23.0" height="23.0" fill="#0076ff"/><rect x="2503.9" y="2449.6" width="23.0" height="23.0" fill="#007dff"/><rect x="2518.2" y="2446.5" width="23.0" height="23.0" fill="#0084ff"/><rect x="2532.5" y="2443.5" width="23.0" height="23.0" fill="#008cff"/><rect x="2078.0" y="2854.0" width="23.0" height="23.0" fill="#e1ff1e"/><rect x="2078.0" y="2858.5" width="23.0" height="23.0" fill="#e1ff1e"/><rect x="2071.8" y="2519.8" width="23.0" height="23.0" fill="#f9ff06"/><rect x="2072.4" y="2536.7" width="23.0" height="23.0" fill="#e1ff1e"/><rect x="2073.3" y="2553.7" width="23.0" height="23.0" fill="#c8ff37"/><rect x="2078.0" y="2583.2" width="23.0" height="23.0" fill="#005bff"/><rect x="1952.8" y="2727.5" width="23.0" height="23.0" fill="#80ff80"/><rect x="1972.2" y="2740.4" width="23.0" height="23.0" fill="#80ff80"/><rect x="2049.9" y="2834.5" width="23.0" height="23.0" fill="#ffed00"/><rect x="2057.3" y="2847.5" width="23.0" height="23.0" fill="#ff8c00"/><rect x="2065.6" y="2860.4" width="23.0" height="23.0" fill="#ff4300"/><rect x="2073.0" y="2876.1" width="23.0" height="23.0" fill="#ffbc00"/><rect x="2104.8" y="2874.3" width="23.0" height="23.0" fill="#0000e1"/><rect x="2105.9" y="2896.1" width="23.0" height="23.0" fill="#80ff80"/><rect x="2179.3" y="2979.6" width="23.0" height="23.0" fill="#ff8c00"/><rect x="2173.8" y="2995.4" width="23.0" height="23.0" fill="#ff8c00"/><polygon points="2871.2,2921.7 2884.0,2917.5 2884.0,2904.1 2891.9,2915.0 2904.7,2910.8 2896.8,2921.7 2904.7,2932.6 2891.9,2928.4 2884.0,2939.3 2884.0,2925.9" fill="#00bcff"/><polygon points="2858.6,2928.7 2871.4,2924.5 2871.4,2911.1 2879.3,2922.0 2892.1,2917.8 2884.2,2928.7 2892.1,2939.6 2879.3,2935.4 2871.4,2946.3 2871.4,2932.9" fill="#00b7ff"/><polygon points="2846.0,2935.8 2858.8,2931.6 2858.8,2918.2 2866.7,2929.1 2879.5,2924.9 2871.6,2935.8 2879.5,2946.7 2866.7,2942.5 2858.8,2953.4 2858.8,2940.0" fill="#00b1ff"/><polygon points="2833.4,2942.8 2846.2,2938.6 2846.2,2925.2 2854.1,2936.1 2866.9,2931.9 2859.0,2942.8 2866.9,2953.7 2854.1,2949.5 2846.2,2960.4 2846.2,2947.0" fill="#00acff"/><polygon points="2820.8,2949.9 2833.6,2945.7 2833.6,2932.3 2841.5,2943.2 2854.3,2939.0 2846.4,2949.9 2854.3,2960.8 2841.5,2956.6 2833.6,2967.5 2833.6,2954.1" fill="#00a6ff"/><polygon points="2808.3,2956.9 2821.1,2952.7 2821.1,2939.3 2829.0,2950.2 2841.8,2946.0 2833.9,2956.9 2841.8,2967.8 2829.0,2963.6 2821.1,2974.5 2821.1,2961.1" fill="#0092ff"/><polygon points="2795.7,2964.0 2808.5,2959.8 2808.5,2946.4 2816.4,2957.3 2829.2,2953.1 2821.3,2964.0 2829.2,2974.9 2816.4,2970.7 2808.5,2981.6 2808.5,2968.2" fill="#0073ff"/><polygon points="2783.1,2971.0 2795.9,2966.8 2795.9,2953.4 2803.8,2964.3 2816.6,2960.1 2808.7,2971.0 2816.6,2981.9 2803.8,2977.7 2795.9,2988.6 2795.9,2975.2" fill="#0073ff"/><polygon points="2770.5,2978.0 2783.3,2973.8 2783.3,2960.4 2791.2,2971.3 2804.0,2967.1 2796.1,2978.0 2804.0,2988.9 2791.2,2984.7 2783.3,2995.6 2783.3,2982.2" fill="#0073ff"/><polygon points="2757.9,2985.1 2770.7,2980.9 2770.7,2967.5 2778.6,2978.4 2791.4,2974.2 2783.5,2985.1 2791.4,2996.0 2778.6,2991.8 2770.7,3002.7 2770.7,2989.3" fill="#0090ff"/><polygon points="2745.3,2992.1 2758.1,2987.9 2758.1,2974.5 2766.0,2985.4 2778.8,2981.2 2770.9,2992.1 2778.8,3003.0 2766.0,2998.8 2758.1,3009.7 2758.1,2996.3" fill="#00b0ff"/><polygon points="2732.7,2999.2 2745.5,2995.0 2745.5,2981.6 2753.4,2992.5 2766.2,2988.3 2758.3,2999.2 2766.2,3010.1 2753.4,3005.9 2745.5,3016.8 2745.5,3003.4" fill="#00d1ff"/><polygon points="2720.1,3006.2 2732.9,3002.0 2732.9,2988.6 2740.8,2999.5 2753.6,2995.3 2745.7,3006.2 2753.6,3017.1 2740.8,3012.9 2732.9,3023.8 2732.9,3010.4" fill="#00d8ff"/><polygon points="2707.5,3013.3 2720.3,3009.1 2720.3,2995.7 2728.2,3006.6 2741.0,3002.4 2733.1,3013.3 2741.0,3024.2 2728.2,3020.0 2720.3,3030.9 2720.3,3017.5" fill="#00ddff"/><polygon points="2695.0,3020.3 2707.8,3016.1 2707.8,3002.7 2715.7,3013.6 2728.5,3009.4 2720.6,3020.3 2728.5,3031.2 2715.7,3027.0 2707.8,3037.9 2707.8,3024.5" fill="#00e1ff"/><polygon points="2682.4,3027.3 2695.2,3023.1 2695.2,3009.7 2703.1,3020.6 2715.9,3016.4 2708.0,3027.3 2715.9,3038.2 2703.1,3034.0 2695.2,3044.9 2695.2,3031.5" fill="#00e6ff"/><polygon points="2669.8,3034.4 2682.6,3030.2 2682.6,3016.8 2690.5,3027.7 2703.3,3023.5 2695.4,3034.4 2703.3,3045.3 2690.5,3041.1 2682.6,3052.0 2682.6,3038.6" fill="#00eaff"/><polygon points="2657.2,3041.4 2670.0,3037.2 2670.0,3023.8 2677.9,3034.7 2690.7,3030.5 2682.8,3041.4 2690.7,3052.3 2677.9,3048.1 2670.0,3059.0 2670.0,3045.6" fill="#00eeff"/><polygon points="2644.6,3048.5 2657.4,3044.3 2657.4,3030.9 2665.3,3041.8 2678.1,3037.6 2670.2,3048.5 2678.1,3059.4 2665.3,3055.2 2657.4,3066.1 2657.4,3052.7" fill="#00f1ff"/><polygon points="2632.0,3055.5 2644.8,3051.3 2644.8,3037.9 2652.7,3048.8 2665.5,3044.6 2657.6,3055.5 2665.5,3066.4 2652.7,3062.2 2644.8,3073.1 2644.8,3059.7" fill="#00f4ff"/><polygon points="2619.4,3062.6 2632.2,3058.4 2632.2,3045.0 2640.1,3055.9 2652.9,3051.7 2645.0,3062.6 2652.9,3073.5 2640.1,3069.3 2632.2,3080.2 2632.2,3066.8" fill="#00f8ff"/><polygon points="2606.8,3069.6 2619.6,3065.4 2619.6,3052.0 2627.5,3062.9 2640.3,3058.7 2632.4,3069.6 2640.3,3080.5 2627.5,3076.3 2619.6,3087.2 2619.6,3073.8" fill="#00fbff"/><polygon points="2594.2,3076.7 2607.0,3072.5 2607.0,3059.1 2614.9,3070.0 2627.7,3065.8 2619.8,3076.7 2627.7,3087.6 2614.9,3083.4 2607.0,3094.3 2607.0,3080.9" fill="#00feff"/><polygon points="2581.6,3083.7 2594.4,3079.5 2594.4,3066.1 2602.3,3077.0 2615.1,3072.8 2607.2,3083.7 2615.1,3094.6 2602.3,3090.4 2594.4,3101.3 2594.4,3087.9" fill="#03fffc"/><polygon points="2569.1,3090.7 2581.9,3086.5 2581.9,3073.1 2589.8,3084.0 2602.6,3079.8 2594.7,3090.7 2602.6,3101.6 2589.8,3097.4 2581.9,3108.3 2581.9,3094.9" fill="#06fff9"/><polygon points="2556.5,3097.8 2569.3,3093.6 2569.3,3080.2 2577.2,3091.1 2590.0,3086.9 2582.1,3097.8 2590.0,3108.7 2577.2,3104.5 2569.3,3115.4 2569.3,3102.0" fill="#44ffbb"/><polygon points="2543.9,3104.8 2556.7,3100.6 2556.7,3087.2 2564.6,3098.1 2577.4,3093.9 2569.5,3104.8 2577.4,3115.7 2564.6,3111.5 2556.7,3122.4 2556.7,3109.0" fill="#82ff7d"/><polygon points="2531.3,3111.9 2544.1,3107.7 2544.1,3094.3 2552.0,3105.2 2564.8,3101.0 2556.9,3111.9 2564.8,3122.8 2552.0,3118.6 2544.1,3129.5 2544.1,3116.1" fill="#9cff63"/><polygon points="2518.7,3118.9 2531.5,3114.7 2531.5,3101.3 2539.4,3112.2 2552.2,3108.0 2544.3,3118.9 2552.2,3129.8 2539.4,3125.6 2531.5,3136.5 2531.5,3123.1" fill="#b7ff48"/><polygon points="2506.1,3126.0 2518.9,3121.8 2518.9,3108.4 2526.8,3119.3 2539.6,3115.1 2531.7,3126.0 2539.6,3136.9 2526.8,3132.7 2518.9,3143.6 2518.9,3130.2" fill="#d1ff2e"/><polygon points="2493.5,3133.0 2506.3,3128.8 2506.3,3115.4 2514.2,3126.3 2527.0,3122.1 2519.1,3133.0 2527.0,3143.9 2514.2,3139.7 2506.3,3150.6 2506.3,3137.2" fill="#e5ff1a"/><polygon points="2480.9,3140.0 2493.7,3135.8 2493.7,3122.4 2501.6,3133.3 2514.4,3129.1 2506.5,3140.0 2514.4,3150.9 2501.6,3146.7 2493.7,3157.6 2493.7,3144.2" fill="#efff10"/><polygon points="2468.3,3147.1 2481.1,3142.9 2481.1,3129.5 2489.0,3140.4 2501.8,3136.2 2493.9,3147.1 2501.8,3158.0 2489.0,3153.8 2481.1,3164.7 2481.1,3151.3" fill="#faff05"/><polygon points="2455.8,3154.1 2468.6,3149.9 2468.6,3136.5 2476.5,3147.4 2489.3,3143.2 2481.4,3154.1 2489.3,3165.0 2476.5,3160.8 2468.6,3171.7 2468.6,3158.3" fill="#fffa00"/><polygon points="2443.2,3161.2 2456.0,3157.0 2456.0,3143.6 2463.9,3154.5 2476.7,3150.3 2468.8,3161.2 2476.7,3172.1 2463.9,3167.9 2456.0,3178.8 2456.0,3165.4" fill="#fff500"/><polygon points="2430.6,3168.2 2443.4,3164.0 2443.4,3150.6 2451.3,3161.5 2464.1,3157.3 2456.2,3168.2 2464.1,3179.1 2451.3,3174.9 2443.4,3185.8 2443.4,3172.4" fill="#fff200"/><polygon points="2418.0,3175.3 2430.8,3171.1 2430.8,3157.7 2438.7,3168.6 2451.5,3164.4 2443.6,3175.3 2451.5,3186.2 2438.7,3182.0 2430.8,3192.9 2430.8,3179.5" fill="#ffef00"/><polygon points="2405.4,3182.3 2418.2,3178.1 2418.2,3164.7 2426.1,3175.6 2438.9,3171.4 2431.0,3182.3 2438.9,3193.2 2426.1,3189.0 2418.2,3199.9 2418.2,3186.5" fill="#ffed00"/><polygon points="2523.7,2688.8 2536.5,2684.6 2536.5,2671.2 2544.4,2682.1 2557.2,2677.9 2549.3,2688.8 2557.2,2699.7 2544.4,2695.5 2536.5,2706.4 2536.5,2693.0" fill="#06fff9"/><polygon points="2514.8,2700.3 2527.6,2696.1 2527.6,2682.7 2535.5,2693.6 2548.3,2689.4 2540.4,2700.3 2548.3,2711.2 2535.5,2707.0 2527.6,2717.9 2527.6,2704.5" fill="#18ffe7"/><polygon points="2505.9,2711.7 2518.7,2707.5 2518.7,2694.1 2526.6,2705.0 2539.4,2700.8 2531.5,2711.7 2539.4,2722.6 2526.6,2718.4 2518.7,2729.3 2518.7,2715.9" fill="#2bffd4"/><polygon points="2497.0,2723.2 2509.8,2719.0 2509.8,2705.6 2517.7,2716.5 2530.5,2712.3 2522.6,2723.2 2530.5,2734.1 2517.7,2729.9 2509.8,2740.8 2509.8,2727.4" fill="#3dffc2"/><polygon points="2488.2,2734.6 2501.0,2730.4 2501.0,2717.0 2508.9,2727.9 2521.7,2723.7 2513.8,2734.6 2521.7,2745.5 2508.9,2741.3 2501.0,2752.2 2501.0,2738.8" fill="#50ffaf"/><polygon points="2479.3,2746.1 2492.1,2741.9 2492.1,2728.5 2500.0,2739.4 2512.8,2735.2 2504.9,2746.1 2512.8,2757.0 2500.0,2752.8 2492.1,2763.7 2492.1,2750.3" fill="#62ff9d"/><polygon points="2470.4,2757.5 2483.2,2753.3 2483.2,2739.9 2491.1,2750.8 2503.9,2746.6 2496.0,2757.5 2503.9,2768.4 2491.1,2764.2 2483.2,2775.1 2483.2,2761.7" fill="#74ff8b"/><polygon points="2461.5,2769.0 2474.3,2764.8 2474.3,2751.4 2482.2,2762.3 2495.0,2758.1 2487.1,2769.0 2495.0,2779.9 2482.2,2775.7 2474.3,2786.6 2474.3,2773.2" fill="#88ff77"/><polygon points="2452.6,2780.4 2465.4,2776.2 2465.4,2762.8 2473.3,2773.7 2486.1,2769.5 2478.2,2780.4 2486.1,2791.3 2473.3,2787.1 2465.4,2798.0 2465.4,2784.6" fill="#9eff61"/><polygon points="2443.7,2791.9 2456.5,2787.7 2456.5,2774.3 2464.4,2785.2 2477.2,2781.0 2469.3,2791.9 2477.2,2802.8 2464.4,2798.6 2456.5,2809.5 2456.5,2796.1" fill="#b4ff4b"/><polygon points="2434.9,2803.3 2447.7,2799.1 2447.7,2785.7 2455.6,2796.6 2468.4,2792.4 2460.5,2803.3 2468.4,2814.2 2455.6,2810.0 2447.7,2820.9 2447.7,2807.5" fill="#c9ff36"/><polygon points="2426.0,2814.8 2438.8,2810.6 2438.8,2797.2 2446.7,2808.1 2459.5,2803.9 2451.6,2814.8 2459.5,2825.7 2446.7,2821.5 2438.8,2832.4 2438.8,2819.0" fill="#d0ff2f"/><polygon points="2417.1,2826.2 2429.9,2822.0 2429.9,2808.6 2437.8,2819.5 2450.6,2815.3 2442.7,2826.2 2450.6,2837.1 2437.8,2832.9 2429.9,2843.8 2429.9,2830.4" fill="#d8ff27"/><polygon points="2408.2,2837.7 2421.0,2833.5 2421.0,2820.1 2428.9,2831.0 2441.7,2826.8 2433.8,2837.7 2441.7,2848.6 2428.9,2844.4 2421.0,2855.3 2421.0,2841.9" fill="#dfff20"/><polygon points="2399.3,2849.1 2412.1,2844.9 2412.1,2831.5 2420.0,2842.4 2432.8,2838.2 2424.9,2849.1 2432.8,2860.0 2420.0,2855.8 2412.1,2866.7 2412.1,2853.3" fill="#cfff30"/><polygon points="2390.4,2860.6 2403.2,2856.4 2403.2,2843.0 2411.1,2853.9 2423.9,2849.7 2416.0,2860.6 2423.9,2871.5 2411.1,2867.3 2403.2,2878.2 2403.2,2864.8" fill="#b9ff46"/><polygon points="2381.5,2872.0 2394.3,2867.8 2394.3,2854.4 2402.2,2865.3 2415.0,2861.1 2407.1,2872.0 2415.0,2882.9 2402.2,2878.7 2394.3,2889.6 2394.3,2876.2" fill="#a3ff5c"/><polygon points="2372.7,2883.5 2385.5,2879.3 2385.5,2865.9 2393.4,2876.8 2406.2,2872.6 2398.3,2883.5 2406.2,2894.4 2393.4,2890.2 2385.5,2901.1 2385.5,2887.7" fill="#aeff51"/><polygon points="2363.8,2894.9 2376.6,2890.7 2376.6,2877.3 2384.5,2888.2 2397.3,2884.0 2389.4,2894.9 2397.3,2905.8 2384.5,2901.6 2376.6,2912.5 2376.6,2899.1" fill="#daff25"/><polygon points="2354.9,2906.4 2367.7,2902.2 2367.7,2888.8 2375.6,2899.7 2388.4,2895.5 2380.5,2906.4 2388.4,2917.3 2375.6,2913.1 2367.7,2924.0 2367.7,2910.6" fill="#fff800"/><polygon points="2346.0,2917.8 2358.8,2913.6 2358.8,2900.2 2366.7,2911.1 2379.5,2906.9 2371.6,2917.8 2379.5,2928.7 2366.7,2924.5 2358.8,2935.4 2358.8,2922.0" fill="#ffd300"/><polygon points="2337.1,2929.3 2349.9,2925.1 2349.9,2911.7 2357.8,2922.6 2370.6,2918.4 2362.7,2929.3 2370.6,2940.2 2357.8,2936.0 2349.9,2946.9 2349.9,2933.5" fill="#ffcc00"/><polygon points="2328.2,2940.7 2341.0,2936.5 2341.0,2923.1 2348.9,2934.0 2361.7,2929.8 2353.8,2940.7 2361.7,2951.6 2348.9,2947.4 2341.0,2958.3 2341.0,2944.9" fill="#ffc400"/><polygon points="2319.3,2952.2 2332.1,2948.0 2332.1,2934.6 2340.0,2945.5 2352.8,2941.3 2344.9,2952.2 2352.8,2963.1 2340.0,2958.9 2332.1,2969.8 2332.1,2956.4" fill="#ffbd00"/><polygon points="2310.5,2963.6 2323.3,2959.4 2323.3,2946.0 2331.2,2956.9 2344.0,2952.7 2336.1,2963.6 2344.0,2974.5 2331.2,2970.3 2323.3,2981.2 2323.3,2967.8" fill="#ffd700"/><polygon points="2301.6,2975.1 2314.4,2970.9 2314.4,2957.5 2322.3,2968.4 2335.1,2964.2 2327.2,2975.1 2335.1,2986.0 2322.3,2981.8 2314.4,2992.7 2314.4,2979.3" fill="#fff300"/><polygon points="2292.7,2986.5 2305.5,2982.3 2305.5,2968.9 2313.4,2979.8 2326.2,2975.6 2318.3,2986.5 2326.2,2997.4 2313.4,2993.2 2305.5,3004.1 2305.5,2990.7" fill="#f4ff0b"/><polygon points="2283.8,2998.0 2296.6,2993.8 2296.6,2980.4 2304.5,2991.3 2317.3,2987.1 2309.4,2998.0 2317.3,3008.9 2304.5,3004.7 2296.6,3015.6 2296.6,3002.2" fill="#e3ff1c"/><polygon points="2274.9,3009.4 2287.7,3005.2 2287.7,2991.8 2295.6,3002.7 2308.4,2998.5 2300.5,3009.4 2308.4,3020.3 2295.6,3016.1 2287.7,3027.0 2287.7,3013.6" fill="#d6ff29"/><polygon points="2266.0,3020.9 2278.8,3016.7 2278.8,3003.3 2286.7,3014.2 2299.5,3010.0 2291.6,3020.9 2299.5,3031.8 2286.7,3027.6 2278.8,3038.5 2278.8,3025.1" fill="#c9ff36"/><polygon points="2257.2,3032.3 2270.0,3028.1 2270.0,3014.7 2277.9,3025.6 2290.7,3021.4 2282.8,3032.3 2290.7,3043.2 2277.9,3039.0 2270.0,3049.9 2270.0,3036.5" fill="#beff41"/><polygon points="2248.3,3043.8 2261.1,3039.6 2261.1,3026.2 2269.0,3037.1 2281.8,3032.9 2273.9,3043.8 2281.8,3054.7 2269.0,3050.5 2261.1,3061.4 2261.1,3048.0" fill="#b4ff4b"/><polygon points="2239.4,3055.2 2252.2,3051.0 2252.2,3037.6 2260.1,3048.5 2272.9,3044.3 2265.0,3055.2 2272.9,3066.1 2260.1,3061.9 2252.2,3072.8 2252.2,3059.4" fill="#93ff6c"/><polygon points="2230.5,3066.7 2243.3,3062.5 2243.3,3049.1 2251.2,3060.0 2264.0,3055.8 2256.1,3066.7 2264.0,3077.6 2251.2,3073.4 2243.3,3084.3 2243.3,3070.9" fill="#67ff98"/><polygon points="2161.1,2618.0 2173.9,2613.8 2173.9,2600.4 2181.8,2611.3 2194.6,2607.1 2186.7,2618.0 2194.6,2628.9 2181.8,2624.7 2173.9,2635.6 2173.9,2622.2" fill="#ffed00"/><polygon points="2175.9,2617.7 2188.7,2613.5 2188.7,2600.1 2196.6,2611.0 2209.4,2606.8 2201.5,2617.7 2209.4,2628.6 2196.6,2624.4 2188.7,2635.3 2188.7,2621.9" fill="#fff400"/><polygon points="2190.7,2617.4 2203.5,2613.2 2203.5,2599.8 2211.4,2610.7 2224.2,2606.5 2216.3,2617.4 2224.2,2628.3 2211.4,2624.1 2203.5,2635.0 2203.5,2621.6" fill="#fffa00"/><polygon points="2205.5,2617.1 2218.3,2612.9 2218.3,2599.5 2226.2,2610.4 2239.0,2606.2 2231.1,2617.1 2239.0,2628.0 2226.2,2623.8 2218.3,2634.7 2218.3,2621.3" fill="#fdff02"/><polygon points="2220.3,2616.8 2233.1,2612.6 2233.1,2599.2 2241.0,2610.1 2253.8,2605.9 2245.9,2616.8 2253.8,2627.7 2241.0,2623.5 2233.1,2634.4 2233.1,2621.0" fill="#9aff65"/><polygon points="2235.0,2616.4 2247.8,2612.2 2247.8,2598.8 2255.7,2609.7 2268.5,2605.5 2260.6,2616.4 2268.5,2627.3 2255.7,2623.1 2247.8,2634.0 2247.8,2620.6" fill="#3effc1"/><polygon points="2249.8,2616.1 2262.6,2611.9 2262.6,2598.5 2270.5,2609.4 2283.3,2605.2 2275.4,2616.1 2283.3,2627.0 2270.5,2622.8 2262.6,2633.7 2262.6,2620.3" fill="#24ffdb"/><polygon points="2264.6,2615.8 2277.4,2611.6 2277.4,2598.2 2285.3,2609.1 2298.1,2604.9 2290.2,2615.8 2298.1,2626.7 2285.3,2622.5 2277.4,2633.4 2277.4,2620.0" fill="#0bfff4"/><polygon points="2279.4,2615.5 2292.2,2611.3 2292.2,2597.9 2300.1,2608.8 2312.9,2604.6 2305.0,2615.5 2312.9,2626.4 2300.1,2622.2 2292.2,2633.1 2292.2,2619.7" fill="#00c4ff"/><polygon points="2294.2,2615.2 2307.0,2611.0 2307.0,2597.6 2314.9,2608.5 2327.7,2604.3 2319.8,2615.2 2327.7,2626.1 2314.9,2621.9 2307.0,2632.8 2307.0,2619.4" fill="#00a4ff"/><polygon points="2309.0,2614.9 2321.8,2610.7 2321.8,2597.3 2329.7,2608.2 2342.5,2604.0 2334.6,2614.9 2342.5,2625.8 2329.7,2621.6 2321.8,2632.5 2321.8,2619.1" fill="#00a4ff"/><polygon points="2323.8,2614.6 2336.6,2610.4 2336.6,2597.0 2344.5,2607.9 2357.3,2603.7 2349.4,2614.6 2357.3,2625.5 2344.5,2621.3 2336.6,2632.2 2336.6,2618.8" fill="#00b4ff"/><polygon points="2338.6,2614.2 2351.4,2610.0 2351.4,2596.6 2359.3,2607.5 2372.1,2603.3 2364.2,2614.2 2372.1,2625.1 2359.3,2620.9 2351.4,2631.8 2351.4,2618.4" fill="#06fff9"/><polygon points="2353.3,2613.9 2366.1,2609.7 2366.1,2596.3 2374.0,2607.2 2386.8,2603.0 2378.9,2613.9 2386.8,2624.8 2374.0,2620.6 2366.1,2631.5 2366.1,2618.1" fill="#06fff9"/><polygon points="2368.1,2613.6 2380.9,2609.4 2380.9,2596.0 2388.8,2606.9 2401.6,2602.7 2393.7,2613.6 2401.6,2624.5 2388.8,2620.3 2380.9,2631.2 2380.9,2617.8" fill="#06fff9"/><polygon points="2382.9,2613.3 2395.7,2609.1 2395.7,2595.7 2403.6,2606.6 2416.4,2602.4 2408.5,2613.3 2416.4,2624.2 2403.6,2620.0 2395.7,2630.9 2395.7,2617.5" fill="#00f9ff"/><polygon points="2397.7,2613.0 2410.5,2608.8 2410.5,2595.4 2418.4,2606.3 2431.2,2602.1 2423.3,2613.0 2431.2,2623.9 2418.4,2619.7 2410.5,2630.6 2410.5,2617.2" fill="#00b7ff"/><polygon points="2412.5,2612.7 2425.3,2608.5 2425.3,2595.1 2433.2,2606.0 2446.0,2601.8 2438.1,2612.7 2446.0,2623.6 2433.2,2619.4 2425.3,2630.3 2425.3,2616.9" fill="#00a9ff"/><polygon points="2427.3,2612.4 2440.1,2608.2 2440.1,2594.8 2448.0,2605.7 2460.8,2601.5 2452.9,2612.4 2460.8,2623.3 2448.0,2619.1 2440.1,2630.0 2440.1,2616.6" fill="#009cff"/><polygon points="2442.1,2612.1 2454.9,2607.9 2454.9,2594.5 2462.8,2605.4 2475.6,2601.2 2467.7,2612.1 2475.6,2623.0 2462.8,2618.8 2454.9,2629.7 2454.9,2616.3" fill="#008eff"/><polygon points="2456.8,2611.8 2469.6,2607.6 2469.6,2594.2 2477.5,2605.1 2490.3,2600.9 2482.4,2611.8 2490.3,2622.7 2477.5,2618.5 2469.6,2629.4 2469.6,2616.0" fill="#0085ff"/><polygon points="2471.6,2611.4 2484.4,2607.2 2484.4,2593.8 2492.3,2604.7 2505.1,2600.5 2497.2,2611.4 2505.1,2622.3 2492.3,2618.1 2484.4,2629.0 2484.4,2615.6" fill="#007eff"/><polygon points="2486.4,2611.1 2499.2,2606.9 2499.2,2593.5 2507.1,2604.4 2519.9,2600.2 2512.0,2611.1 2519.9,2622.0 2507.1,2617.8 2499.2,2628.7 2499.2,2615.3" fill="#0076ff"/><polygon points="2501.2,2610.8 2514.0,2606.6 2514.0,2593.2 2521.9,2604.1 2534.7,2599.9 2526.8,2610.8 2534.7,2621.7 2521.9,2617.5 2514.0,2628.4 2514.0,2615.0" fill="#0051ff"/><polygon points="2516.0,2610.5 2528.8,2606.3 2528.8,2592.9 2536.7,2603.8 2549.5,2599.6 2541.6,2610.5 2549.5,2621.4 2536.7,2617.2 2528.8,2628.1 2528.8,2614.7" fill="#0012ff"/><polygon points="2658.9,3452.4 2671.7,3448.2 2671.7,3434.8 2679.6,3445.7 2692.4,3441.5 2684.5,3452.4 2692.4,3463.3 2679.6,3459.1 2671.7,3470.0 2671.7,3456.6" fill="#06fff9"/><polygon points="2672.9,3451.2 2685.7,3447.0 2685.7,3433.6 2693.6,3444.5 2706.4,3440.3 2698.5,3451.2 2706.4,3462.1 2693.6,3457.9 2685.7,3468.8 2685.7,3455.4" fill="#02fffd"/><polygon points="2686.8,3449.9 2699.6,3445.7 2699.6,3432.3 2707.5,3443.2 2720.3,3439.0 2712.4,3449.9 2720.3,3460.8 2707.5,3456.6 2699.6,3467.5 2699.6,3454.1" fill="#00fdff"/><polygon points="2700.8,3448.7 2713.6,3444.5 2713.6,3431.1 2721.5,3442.0 2734.3,3437.8 2726.4,3448.7 2734.3,3459.6 2721.5,3455.4 2713.6,3466.3 2713.6,3452.9" fill="#00f9ff"/><polygon points="2714.8,3447.5 2727.6,3443.3 2727.6,3429.9 2735.5,3440.8 2748.3,3436.6 2740.4,3447.5 2748.3,3458.4 2735.5,3454.2 2727.6,3465.1 2727.6,3451.7" fill="#00f5ff"/><polygon points="2728.7,3446.2 2741.5,3442.0 2741.5,3428.6 2749.4,3439.5 2762.2,3435.3 2754.3,3446.2 2762.2,3457.1 2749.4,3452.9 2741.5,3463.8 2741.5,3450.4" fill="#00f1ff"/><polygon points="2742.7,3445.0 2755.5,3440.8 2755.5,3427.4 2763.4,3438.3 2776.2,3434.1 2768.3,3445.0 2776.2,3455.9 2763.4,3451.7 2755.5,3462.6 2755.5,3449.2" fill="#00edff"/><polygon points="2756.7,3443.8 2769.5,3439.6 2769.5,3426.2 2777.4,3437.1 2790.2,3432.9 2782.3,3443.8 2790.2,3454.7 2777.4,3450.5 2769.5,3461.4 2769.5,3448.0" fill="#00d9ff"/><polygon points="2770.6,3442.5 2783.4,3438.3 2783.4,3424.9 2791.3,3435.8 2804.1,3431.6 2796.2,3442.5 2804.1,3453.4 2791.3,3449.2 2783.4,3460.1 2783.4,3446.7" fill="#00c4ff"/><polygon points="2784.6,3441.3 2797.4,3437.1 2797.4,3423.7 2805.3,3434.6 2818.1,3430.4 2810.2,3441.3 2818.1,3452.2 2805.3,3448.0 2797.4,3458.9 2797.4,3445.5" fill="#00c4ff"/><polygon points="2798.6,3440.1 2811.4,3435.9 2811.4,3422.5 2819.3,3433.4 2832.1,3429.2 2824.2,3440.1 2832.1,3451.0 2819.3,3446.8 2811.4,3457.7 2811.4,3444.3" fill="#00d2ff"/><polygon points="2812.5,3438.8 2825.3,3434.6 2825.3,3421.2 2833.2,3432.1 2846.0,3427.9 2838.1,3438.8 2846.0,3449.7 2833.2,3445.5 2825.3,3456.4 2825.3,3443.0" fill="#00dfff"/><polygon points="2826.5,3437.6 2839.3,3433.4 2839.3,3420.0 2847.2,3430.9 2860.0,3426.7 2852.1,3437.6 2860.0,3448.5 2847.2,3444.3 2839.3,3455.2 2839.3,3441.8" fill="#00edff"/><polygon points="1937.2,2723.9 1950.0,2719.7 1950.0,2706.3 1957.9,2717.2 1970.7,2713.0 1962.8,2723.9 1970.7,2734.8 1957.9,2730.6 1950.0,2741.5 1950.0,2728.1" fill="#c8ff37"/></g><g clip-path="url(#mc)"><path d="M2897,2824 2875,2822 2860,2816 2838,2809 2816,2802 2794,2797 2775,2795 2753,2798 2760,2809 2771,2820 2783,2833 2764,2826 2742,2815 2720,2807 2705,2798 2696,2792 2705,2783 2683,2772 2664,2761 2646,2754 2643,2750 2631,2734 2618,2719 2603,2709 2594,2694 2579,2684 2569,2675 2554,2667 2549,2655 2569,2650 2603,2660 2574,2645 2559,2638 2544,2635 2539,2625 2564,2618 2544,2611 2537,2596 2544,2576 2554,2578 2569,2588 2574,2603 2568,2586 2571,2574 2569,2561 2567,2541 2559,2549 2554,2529 2562,2532 2569,2517 2559,2507 2557,2487 2549,2468 2552,2443 2547,2408 2549,2384 2544,2354 2552,2339 2562,2325 2579,2317 2603,2314 2623,2317 2638,2332 2648,2344 2658,2374 2665,2403 2663,2418 2672,2438 2668,2458 2680,2472 2692,2458 2707,2448 2717,2458 2737,2468 2766,2443 2643,2270 2613,2290 2603,2288 2579,2290 2569,2280 2563,2265 2567,2253 2544,2258 2534,2265 2527,2275 2530,2290 2507,2305 2490,2317 2483,2330 2479,2347 2475,2330 2465,2317 2453,2305 2458,2285 2465,2273 2485,2285 2505,2280 2507,2256 2512,2246 2495,2231 2485,2228 2470,2238 2458,2248 2438,2243 2433,2251 2431,2241 2406,2241 2382,2242 2367,2233 2347,2235 2327,2231 2315,2224 2325,2218 2340,2210 2345,2200 2333,2196 2318,2194 2303,2196 2286,2184 2276,2179 2263,2182 2246,2179 2241,2172 2256,2157 2251,2147 2250,2139 2237,2157 2215,2154 2212,2200 2194,2202 2175,2187 2147,2157 2135,2136 2120,2105 2112,2083 2107,2077 2110,2066 2101,2068 2083,2093 2090,2102 2092,2120 2089,2131 2098,2142 2107,2133 2106,2145 2098,2159 2089,2165 2083,2177 2077,2190 2077,2199 2090,2197 2089,2183 2086,2200 2073,2220 2058,2223 2043,2231 2027,2250 2012,2271 2003,2284 1993,2280 1975,2273 1959,2254 1966,2234 1978,2214 1993,2203 1989,2188 1987,2167 2001,2142 2006,2114 2012,2096 2018,2077 2012,2059 2009,2048 2021,2031 2029,2014 2043,2009 2049,2000 2058,1992 2067,1985 2073,1972 2092,1976 2104,1988 2117,1994 2120,1986 2107,1972 2089,1962 2070,1946 2064,1952 2061,1962 2049,1963 2024,1976 2021,1988 2000,2003 1993,2019 1996,2040 1990,2059 1975,2060 1950,2060 1947,2053 1952,2048 1943,2032 1947,2016 1953,1997 1939,1982 1924,1976 1926,1983 1944,1994 1941,2012 1930,2017 1932,2051 1947,2063 1964,2077 1980,2073 1995,2077 1993,2093 1989,2111 1984,2123 1969,2151 1970,2176 1975,2194 1963,2211 1950,2216 1938,2219 1932,2231 1929,2254 1924,2256 1923,2237 1924,2227 1935,2203 1939,2180 1932,2173 1904,2160 1895,2148 1895,2168 1913,2176 1924,2185 1924,2207 1907,2210 1901,2197 1893,2197 1890,2203 1898,2211 1882,2219 1867,2214 1849,2202 1842,2183 1816,2179 1813,2173 1819,2160 1832,2154 1833,2142 1824,2126 1819,2110 1815,2110 1813,2126 1816,2145 1807,2170 1812,2182 1824,2191 1827,2207 1846,2216 1844,2237 1841,2247 1846,2254 1839,2265 1842,2274 1796,2274 1772,2274 1750,2280 1743,2284 1745,2303 1748,2318 1758,2323 1743,2336 1736,2340 1723,2348 1711,2358 1706,2363 1684,2368 1669,2377 1654,2385 1639,2382 1625,2395 1605,2402 1590,2400 1595,2414 1583,2424 1578,2434 1581,2449 1575,2466 1565,2481 1551,2486 1541,2476 1533,2483 1526,2469 1546,2460 1531,2459 1516,2464 1514,2441 1504,2441 1501,2456 1482,2461 1462,2466 1445,2459 1437,2449 1425,2437 1420,2422 1413,2407 1415,2392 1423,2375 1432,2360 1440,2348 1447,2318 1467,2294 1474,2269 1479,2254 1469,2276 1447,2286 1432,2303 1423,2321 1435,2318 1437,2331 1420,2338 1398,2333 1390,2343 1381,2328 1373,2322 1378,2336 1358,2350 1314,2363 1309,2354 1313,2347 1292,2348 1284,2349 1284,2350 1269,2346 1262,2356 1249,2363 1239,2368 1244,2381 1257,2393 1259,2408 1249,2422 1239,2413 1220,2418 1200,2430 1183,2427 1165,2413 1151,2398 1141,2386 1156,2381 1136,2368 1116,2361 1104,2356 1087,2358 1072,2358 1079,2373 1087,2388 1094,2408 1096,2422 1082,2413 1067,2413 1057,2422 1055,2437 1040,2447 1030,2457 1018,2467 1013,2479 1000,2487 1018,2491 1030,2501 1042,2511 1032,2526 1030,2536 1045,2543 1022,2561 998,2583 973,2600 963,2612 944,2627 924,2625 909,2620 894,2627 880,2634 865,2630 852,2649 850,2689 848,2700 843,2706 833,2721 820,2736 806,2744 791,2745 778,2740 769,2729 759,2733 751,2745 737,2745 724,2743 742,2753 743,2768 737,2787 738,2800 727,2809 719,2832 711,2846 717,2859 720,2865 707,2872 695,2870 682,2886 667,2888 665,2903 675,2915 702,2912 712,2905 714,2914 731,2916 719,2952 707,2962 714,2967 708,2980 707,3004 702,3012 690,3039 682,3058 675,3063 658,3081 655,3090 643,3103 631,3120 621,3132 611,3142 606,3157 594,3172 574,3184 547,3182 538,3191 522,3202 544,3200 567,3197 571,3216 569,3236 562,3256 549,3263 542,3275 535,3283 529,3294 437,3311 422,3199 416,3087 420,2974 435,2863 458,2753 491,2645 534,2541 585,2441 645,2346 713,2256 789,2172 871,2096 960,2027 1055,1966 1154,1913 1258,1870 1365,1835 1475,1810 1586,1795 1699,1789 1811,1794 1923,1808 2033,1831 2140,1865 2245,1907 2345,1959 2440,2018 2530,2086 2613,2162 2690,2245 2759,2333 2820,2428 2872,2528 2916,2631 2950,2738 2967,2809ZM559,3448 569,3448 584,3463 589,3448 601,3424 611,3423 609,3399 633,3384 645,3354 657,3330 655,3324 663,3331 685,3329 687,3344 695,3357 702,3367 717,3373 742,3371 761,3375 774,3379 776,3389 788,3404 801,3407 815,3413 823,3429 835,3438 857,3445 855,3463 845,3473 855,3480 848,3485 848,3495 857,3500 862,3519 852,3522 854,3537 849,3537 852,3549 862,3556 866,3566 873,3576 872,3591 877,3601 880,3615 887,3630 889,3648 897,3656 909,3662 913,3670 916,3689 918,3707 921,3719 929,3734 940,3744 934,3753 933,3768 936,3786 941,3795 946,3805 951,3827 953,3803 963,3795 981,3790 995,3793 1000,3808 993,3818 1013,3822 1030,3826 1047,3825 1062,3830 1079,3835 1077,3845 1057,3842 1040,3847 1035,3857 1052,3850 1074,3857 1089,3855 1101,3847 1109,3833 1114,3842 1111,3867 1105,3891 1109,3914 1124,3904 1146,3889 1141,3901 1136,3914 1131,3924 1141,3933 1161,3921 1183,3938 1188,3961 1210,3985 1220,4005 1234,4022 1249,4020 1262,4034 1269,4054 1262,4069 1239,4076 1234,4084 1254,4089 1269,4100 1291,4108 1308,4112 1325,4107 1335,4115 1343,4137 1351,4172 1357,4142 1362,4118 1359,4103 1367,4093 1389,4088 1409,4086 1420,4093 1428,4110 1436,4130 1446,4140 1456,4142 1466,4159 1486,4167 1503,4164 1522,4169 1535,4177 1545,4157 1559,4150 1574,4155 1584,4162 1579,4174 1577,4187 1584,4199 1599,4214 1604,4209 1597,4184 1604,4169 1619,4162 1636,4147 1643,4135 1633,4127 1621,4132 1619,4122 1631,4113 1626,4098 1616,4088 1604,4076 1595,4061 1596,4044 1604,4024 1599,4002 1614,3992 1626,3980 1641,3981 1653,3994 1661,4024 1668,4044 1678,4061 1673,4073 1685,4086 1695,4098 1700,4118 1705,4137 1702,4162 1704,4167 1709,4142 1711,4118 1721,4111 1731,4122 1743,4142 1747,4162 1738,4167 1740,4184 1748,4196 1758,4211 1763,4219 1773,4204 1775,4189 1777,4172 1786,4162 1787,4137 1797,4130 1792,4118 1785,4103 1785,4081 1797,4076 1822,4086 1842,4086 1856,4098 1861,4113 1851,4122 1842,4130 1854,4150 1869,4177 1878,4189 1876,4214 1861,4231 1851,4246 1859,4263 1866,4290 1875,4358 1763,4368 1651,4368 1538,4358 1428,4339 1319,4310 1213,4271 1111,4224 1014,4168 921,4103 835,4031 756,3951 683,3865 619,3773 562,3676 515,3574 478,3474ZM2445,4075 2418,4044 2412,4024 2402,4012 2400,4009 2389,3989 2376,3965 2362,3945 2354,3925 2369,3915 2379,3901 2366,3883 2349,3869 2339,3856 2325,3861 2300,3866 2275,3869 2263,3861 2265,3851 2285,3842 2310,3839 2325,3827 2300,3812 2275,3797 2258,3800 2243,3807 2246,3827 2231,3837 2219,3824 2216,3802 2199,3787 2182,3770 2162,3753 2137,3733 2118,3713 2098,3706 2086,3691 2061,3684 2044,3679 2029,3679 2009,3684 1999,3696 1984,3706 1972,3706 1984,3718 1957,3718 1945,3706 1940,3696 1955,3691 1925,3694 1913,3681 1925,3669 1945,3654 1957,3642 1945,3637 1930,3649 1915,3654 1896,3647 1878,3630 1878,3615 1891,3600 1898,3587 1908,3577 1915,3572 1925,3562 1926,3542 1920,3530 1903,3530 1890,3515 1893,3488 1898,3473 1913,3461 1903,3439 1898,3429 1910,3419 1925,3394 1942,3375 1937,3362 1952,3355 1940,3340 1957,3325 1942,3315 1955,3301 1959,3283 1957,3266 1964,3251 1977,3242 1991,3232 2004,3227 2011,3234 2024,3224 2043,3214 2056,3224 2053,3246 2043,3269 2047,3306 2052,3306 2057,3276 2065,3246 2078,3244 2076,3269 2083,3275 2085,3251 2095,3237 2090,3217 2088,3197 2088,3185 2100,3170 2112,3167 2125,3180 2132,3190 2142,3195 2139,3212 2154,3207 2166,3217 2169,3232 2184,3229 2189,3242 2200,3246 2214,3258 2229,3270 2249,3273 2268,3268 2283,3265 2298,3280 2318,3277 2332,3287 2367,3297 2337,3295 2347,3307 2367,3317 2382,3312 2396,3319 2406,3332 2416,3337 2426,3322 2436,3332 2441,3346 2426,3351 2428,3369 2446,3364 2458,3356 2473,3364 2470,3381 2475,3396 2461,3403 2446,3406 2441,3415 2456,3420 2470,3425 2490,3396 2505,3403 2515,3411 2527,3415 2515,3428 2495,3435 2480,3440 2495,3445 2515,3435 2534,3425 2544,3430 2559,3420 2579,3428 2596,3429 2608,3435 2606,3445 2584,3445 2594,3452 2608,3455 2618,3460 2621,3450 2627,3457 2631,3475 2638,3494 2648,3514 2655,3534 2658,3553 2653,3573 2654,3593 2650,3613 2643,3632 2631,3647 2623,3655 2603,3655 2626,3659 2636,3667 2640,3691 2653,3701 2660,3721 2668,3736 2677,3756 2672,3770 2665,3785 2653,3800 2643,3807 2653,3817 2682,3839 2724,3872 2651,3958 2571,4037 2484,4108 2475,4115ZM1037,2583 1052,2568 1067,2558 1074,2548 1077,2563 1083,2575 1074,2588 1052,2591 1042,2589ZM1088,2574 1094,2570 1104,2580 1099,2586ZM1133,2579 1146,2575 1163,2580 1178,2583 1183,2595 1190,2602 1195,2615 1193,2630 1180,2625 1170,2627 1156,2629 1161,2639 1170,2644 1168,2652 1146,2649 1141,2662 1116,2669 1104,2652 1109,2637 1121,2630 1136,2634 1116,2622 1104,2622 1114,2610 1124,2600 1128,2588ZM1187,2573 1193,2570 1204,2588 1200,2590ZM1130,2525 1148,2529 1138,2530ZM721,2867 731,2874 729,2885 722,2895 708,2887 714,2876ZM750,3058 766,3056 778,3066 788,3077 792,3090 791,3103 783,3113 775,3120 764,3114 759,3098 755,3086 759,3077 754,3068ZM1064,2681 1100,2670 1111,2684 1097,2681 1094,2691 1081,2698 1074,2712 1062,2722 1053,2711 1056,2696ZM805,2760 812,2760 807,2765ZM795,2775 801,2777 796,2780ZM1141,2732 1143,2748 1137,2743ZM1091,2763 1099,2762 1097,2769ZM539,3352 552,3359 549,3369 564,3373 578,3389 581,3406 564,3406 555,3414 530,3414 515,3352ZM1180,3802 1207,3790 1224,3773 1251,3753 1256,3743 1266,3717 1306,3731 1318,3755 1340,3765 1356,3817 1345,3824 1315,3826 1291,3832 1274,3842 1259,3846 1232,3870 1195,3869 1197,3837 1192,3817ZM1291,3840 1315,3832 1345,3828 1365,3828 1367,3846 1355,3859 1350,3864 1365,3866 1375,3855 1389,3871 1397,3883 1384,3891 1377,3901 1394,3896 1409,3886 1407,3870 1419,3874 1429,3896 1424,3920 1429,3945 1439,3915 1444,3876 1451,3864 1461,3876 1471,3870 1481,3896 1476,3935 1478,3960 1471,3984 1481,3999 1490,4017 1503,4034 1515,4046 1508,4073 1493,4061 1486,4073 1495,4088 1486,4100 1468,4108 1453,4100 1436,4086 1424,4073 1414,4061 1399,4076 1375,4078 1345,4081 1323,4081 1315,4073 1296,4066 1283,4058 1281,4041 1291,4031 1278,4019 1259,4009 1246,3989 1246,3967 1256,3962 1283,3967 1306,3975 1323,3982 1340,3989 1343,3982 1328,3967 1306,3957 1286,3951 1269,3948 1259,3935 1256,3911 1276,3908 1301,3910 1315,3915 1296,3901 1274,3896 1266,3881 1274,3866 1286,3854ZM1367,3723 1384,3711 1394,3689 1419,3685 1431,3701 1444,3723 1446,3748 1463,3758 1473,3748 1481,3723 1473,3708 1493,3696 1498,3706 1490,3733 1508,3740 1518,3748 1515,3768 1503,3785 1486,3792 1473,3787 1461,3782 1439,3787 1419,3792 1402,3785 1394,3770 1419,3765 1439,3760 1424,3753 1409,3740 1389,3745 1377,3733ZM1328,3662 1340,3647 1355,3649 1370,3639 1389,3630 1402,3627 1419,3637 1431,3630 1436,3644 1424,3649 1419,3669 1399,3681 1389,3664 1375,3679 1362,3671 1352,3681 1340,3674ZM1357,3699 1387,3688 1389,3691 1365,3709ZM1535,3738 1540,3721 1550,3718 1557,3731 1567,3736 1579,3726 1599,3727 1614,3733 1616,3753 1611,3775 1614,3792 1604,3812 1587,3813 1574,3807 1572,3790 1582,3777 1567,3770 1552,3775 1559,3758 1542,3753ZM1624,3809 1631,3795 1646,3788 1658,3795 1661,3817 1661,3836 1641,3837 1628,3827ZM1518,3915 1527,3898 1537,3906 1542,3915 1555,3896 1542,3881 1552,3866 1572,3869 1587,3861 1601,3859 1609,3876 1604,3891 1609,3906 1611,3925 1609,3950 1601,3960 1604,3970 1587,3980 1577,3975 1567,3997 1557,3989 1555,3967 1542,3948 1532,3935ZM1626,3883 1636,3869 1656,3862 1670,3871 1702,3874 1695,3891 1688,3911 1680,3935 1661,3930 1646,3935 1641,3960 1636,3977 1626,3970 1624,3945 1625,3915 1621,3896ZM1535,4103 1545,4093 1555,4086 1567,4068 1579,4081 1591,4093 1599,4113 1611,4125 1601,4135 1587,4145 1577,4137 1562,4132 1547,4122ZM1517,3787 1525,3777 1534,3783 1531,3795 1520,3795ZM1463,3649 1471,3630 1493,3627 1508,3632 1498,3657 1476,3659ZM1481,3610 1503,3600 1518,3602 1518,3620 1498,3622 1486,3615ZM1453,3617 1462,3616 1464,3631 1456,3632ZM1537,3674 1542,3660 1548,3679 1550,3695 1540,3691ZM1576,3667 1587,3663 1591,3671 1579,3674ZM1624,3639 1633,3625 1651,3642 1658,3649 1656,3669 1636,3674 1628,3659ZM1640,3686 1651,3679 1668,3681 1673,3691 1661,3697 1646,3696ZM1693,3696 1700,3689 1710,3699 1705,3711 1695,3708ZM1466,3866 1476,3854 1495,3854 1503,3866 1493,3888 1478,3893 1473,3881ZM1481,4115 1488,4110 1491,4120 1486,4123ZM1513,4110 1520,4103 1523,4108 1517,4122ZM1723,3906 1733,3888 1753,3878 1773,3878 1778,3882 1768,3901 1758,3925 1760,3945 1768,3965 1777,3982 1790,3994 1793,3989 1785,3975 1775,3955 1770,3935 1773,3915 1782,3901 1795,3888 1807,3878 1824,3877 1832,3886 1842,3903 1849,3915 1856,3925 1869,3923 1883,3915 1901,3913 1920,3915 1933,3928 1945,3940 1975,3948 1999,3950 2014,3965 2039,3972 2063,3980 2081,3987 2095,4004 2098,4017 2115,4024 2103,4034 2088,4044 2098,4056 2118,4063 2142,4073 2172,4076 2196,4081 2221,4088 2246,4090 2265,4098 2270,4115 2261,4125 2269,4135 2292,4177 2167,4241 2039,4277 2026,4231 2034,4211 2044,4189 2046,4172 2053,4159 2041,4142 2029,4130 2019,4115 1994,4110 1984,4100 1994,4093 1975,4086 1962,4073 1955,4061 1945,4066 1935,4058 1925,4046 1915,4039 1906,4029 1891,4021 1876,4019 1883,4034 1896,4044 1901,4058 1888,4066 1876,4073 1856,4063 1842,4058 1827,4051 1817,4061 1797,4068 1780,4066 1768,4056 1760,4046 1743,4053 1728,4044 1718,4029 1716,4019 1731,4021 1748,4024 1768,4017 1785,4009 1790,4002 1773,4007 1743,4013 1711,4008 1706,3989 1708,3965 1711,3940 1716,3920ZM1834,3875 1856,3871 1876,3870 1896,3883 1908,3898 1901,3908 1878,3912 1864,3919 1851,3915 1844,3898 1836,3891ZM1951,4157 1957,4132 1967,4125 1984,4127 1994,4159 1984,4174 1965,4184 1956,4172ZM1996,4135 2002,4126 2019,4131 2023,4141 2004,4145ZM1948,4093 1962,4088 1967,4098 1957,4110 1950,4108ZM1976,4105 1987,4099 1989,4118 1979,4115ZM1931,4081 1943,4076 1945,4088 1935,4092ZM1910,4086 1916,4088 1908,4110 1900,4113 1902,4098ZM1908,4122 1915,4121 1913,4131ZM1910,4137 1915,4140 1912,4146ZM1765,4162 1772,4158 1776,4172 1773,4187 1767,4182ZM1706,3770 1718,3790 1731,3797 1743,3795 1758,3800 1780,3780 1797,3774 1817,3775 1832,3785 1839,3797 1842,3809 1832,3832 1817,3841 1795,3833 1773,3843 1748,3846 1726,3844 1718,3832 1706,3842 1689,3838 1676,3817 1674,3787 1676,3763 1671,3743 1686,3740 1701,3743 1706,3753ZM2273,3881 2283,3871 2310,3869 2330,3871 2333,3883 2322,3911 2310,3912 2300,3903 2288,3898ZM1681,3503 1691,3513 1698,3530 1703,3545 1713,3555 1728,3559 1733,3574 1740,3589 1750,3609 1740,3624 1730,3641 1720,3658 1708,3665 1696,3663 1683,3656 1669,3636 1676,3626 1666,3616 1674,3609 1656,3604 1661,3589 1649,3577 1656,3567 1651,3552 1661,3542 1656,3532 1669,3522 1674,3510ZM1693,3490 1706,3473 1725,3466 1728,3456 1740,3449 1755,3456 1754,3434 1765,3421 1780,3419 1782,3409 1809,3399 1824,3397 1844,3402 1861,3397 1873,3404 1888,3409 1891,3424 1886,3444 1873,3456 1886,3456 1889,3466 1881,3488 1876,3513 1871,3532 1866,3542 1871,3555 1861,3562 1851,3567 1853,3579 1844,3587 1853,3599 1851,3611 1858,3616 1846,3628 1853,3641 1841,3651 1846,3661 1831,3665 1836,3683 1829,3695 1812,3697 1794,3700 1809,3707 1829,3705 1841,3712 1846,3725 1839,3742 1824,3739 1814,3754 1794,3749 1780,3744 1765,3754 1745,3749 1725,3752 1711,3739 1715,3725 1728,3717 1740,3712 1748,3700 1740,3683 1728,3678 1725,3690 1735,3700 1723,3707 1715,3700 1718,3683 1728,3665 1740,3661 1755,3656 1765,3636 1782,3636 1780,3622 1762,3619 1752,3606 1745,3589 1740,3572 1738,3562 1750,3559 1765,3551 1782,3545 1797,3535 1809,3519 1794,3530 1775,3537 1755,3542 1735,3545 1720,3542 1708,3530 1701,3513 1696,3500ZM1563,3587 1580,3589 1587,3606 1602,3616 1612,3636 1609,3656 1614,3668 1602,3673 1592,3651 1577,3641 1563,3638 1560,3626 1573,3616 1563,3604ZM1618,3562 1627,3557 1632,3567 1628,3582 1622,3574ZM1431,3673 1438,3668 1448,3676 1442,3681ZM2634,3209 2638,3207 2648,3228 2643,3226ZM2846,3375 2851,3387 2860,3382 2856,3396 2840,3403 2832,3410 2845,3415 2849,3429 2839,3440 2840,3448 2880,3445 2889,3376ZM2790,3530 2806,3522 2819,3518 2813,3533 2802,3544 2805,3557 2797,3559 2840,3563 2850,3519ZM1969,2287 1993,2285 1989,2305 1972,2305ZM1928,2265 1932,2257 1938,2267 1932,2272ZM1882,2225 1895,2216 1904,2219 1892,2236ZM1861,2234 1875,2242 1864,2254ZM2198,2210 2204,2199 2218,2207 2223,2222 2218,2245 2206,2246 2201,2225ZM1843,2325 1848,2323 1850,2330 1846,2331ZM1805,2345 1813,2356 1810,2367 1803,2364ZM1782,2287 1790,2288 1812,2297 1807,2301 1793,2294ZM1398,2354 1418,2352 1420,2370 1398,2372ZM1556,2518 1575,2508 1595,2496 1607,2491 1609,2506 1602,2533 1605,2550 1600,2565 1593,2567 1590,2550 1580,2560 1570,2545 1558,2540ZM1612,2538 1625,2529 1639,2533 1652,2540 1664,2538 1669,2560 1679,2562 1674,2577 1662,2584 1644,2587 1632,2592 1620,2584 1617,2565 1620,2550ZM1644,2597 1669,2589 1689,2592 1694,2604 1684,2624 1675,2641 1667,2651 1657,2639 1647,2621 1642,2609ZM1678,2560 1696,2558 1700,2566 1684,2571ZM1527,2515 1541,2516 1538,2525ZM1805,2348 1811,2353 1807,2365ZM1634,2437 1647,2435 1637,2449ZM1818,2572 1826,2574 1829,2582ZM1782,2634 1792,2633 1790,2639ZM1625,2402 1644,2392 1659,2390 1639,2400ZM1620,2424 1639,2419 1657,2417 1634,2426ZM1787,2385 1805,2386 1797,2390ZM2369,2280 2382,2274 2401,2275 2409,2290 2401,2302 2384,2310 2372,2305 2368,2293ZM2431,2827 2436,2824 2439,2828 2434,2832ZM2141,2857 2151,2851 2163,2854 2176,2852 2183,2856 2195,2861 2197,2871 2192,2874 2196,2884 2198,2891 2191,2906 2187,2911 2178,2891 2187,2914 2182,2921 2170,2916 2172,2923 2167,2928 2159,2921 2163,2916 2152,2914 2159,2906 2150,2899 2141,2897 2148,2889 2139,2884 2145,2875 2141,2865ZM2219,2876 2230,2874 2235,2884 2243,2891 2245,2886 2250,2891 2263,2887 2268,2891 2292,2885 2298,2889 2318,2887 2330,2889 2342,2885 2346,2890 2333,2901 2326,2906 2320,2921 2307,2930 2302,2925 2296,2932 2280,2939 2274,2928 2268,2921 2258,2917 2252,2910 2243,2917 2257,2928 2252,2932 2263,2938 2272,2939 2275,2947 2257,2956 2252,2963 2244,2971 2233,2967 2222,2967 2230,2973 2213,2980 2204,2985 2200,2976 2206,2973 2196,2971 2193,2960 2207,2956 2195,2950 2202,2945 2231,2923 2215,2928 2189,2939 2178,2940 2183,2932 2189,2923 2196,2915 2207,2911 2213,2902 2220,2888ZM2242,2853 2255,2830 2267,2828 2288,2835 2274,2843 2287,2857 2262,2856 2256,2869 2248,2864ZM2230,2869 2234,2864 2243,2862 2249,2867 2243,2877 2235,2877ZM2244,2978 2268,2958 2276,2956 2261,2973ZM1891,2674 1897,2666 1910,2663 1915,2670 1906,2676 1895,2685ZM1919,2674 1930,2663 1943,2666 1945,2676 1936,2685 1923,2685ZM1915,2692 1925,2685 1930,2692 1921,2696ZM1951,2670 1962,2666 1971,2670 1966,2681 1956,2683ZM1966,2668 1977,2666 1979,2676 1971,2679ZM1936,2696 1949,2689 1964,2694 1971,2709 1960,2715 1951,2709 1943,2726 1930,2726 1928,2713ZM1977,2692 1988,2685 1999,2692 1997,2700 1984,2704ZM1990,2720 2003,2715 2020,2717 2035,2726 2031,2735 2016,2730 2001,2735ZM2007,2735 2023,2737 2035,2743 2033,2750 2014,2745ZM2016,2692 2027,2698 2023,2709 2016,2702ZM2023,2713 2035,2717 2038,2726 2027,2722ZM1889,2709 1895,2708 1893,2717ZM1913,2730 1921,2728 1919,2736ZM1940,2457 1957,2443 1989,2441 2020,2439 2032,2441 2054,2436 2073,2430 2085,2422 2100,2417 2116,2410 2134,2397 2150,2390 2168,2382 2183,2371 2196,2362 2208,2350 2217,2337 2222,2322 2225,2297 2223,2282 2220,2268 2228,2262 2239,2274 2250,2285 2257,2285 2259,2297 2271,2306 2274,2316 2267,2322 2274,2330 2276,2343 2265,2346 2276,2356 2274,2365 2267,2374 2254,2382 2250,2373 2236,2383 2230,2397 2217,2400 2205,2408 2190,2408 2182,2414 2182,2430 2171,2427 2159,2436 2146,2445 2134,2450 2122,2459 2116,2468 2105,2470 2094,2465 2082,2474 2066,2476 2054,2477 2045,2480 2034,2484 2023,2474 2008,2470 1992,2467 1979,2468 1974,2476 1962,2482 1951,2484 1942,2476 1940,2467Z" fill="#c9c9c9" fill-rule="nonzero" stroke="#000" stroke-width="2.3" stroke-linejoin="round"/><path d="M1035,3974 1041,3976 1038,3990 1032,3988ZM1030,3999 1045,3995 1040,4004ZM1058,3997 1067,3994 1069,4001 1062,4004ZM1018,4015 1026,4002 1027,4010ZM1033,4019 1042,4015 1041,4034ZM976,3862 986,3858 983,3867ZM837,3502 844,3496 851,3502 848,3513 838,3511ZM1020,4051 1030,4053 1042,4061 1074,4063 1099,4068 1126,4071 1140,4081 1148,4088 1131,4086 1116,4095 1106,4113 1089,4103 1059,4086 1030,4066ZM1111,4113 1143,4120 1163,4110 1168,4115 1155,4130 1143,4133 1123,4125ZM1035,3975 1042,3977 1040,3994 1034,3989ZM1058,3997 1067,3994 1069,4002 1060,4004ZM1034,4019 1043,4014 1042,4034ZM1214,4044 1221,4040 1224,4049 1218,4053ZM1232,4162 1242,4156 1249,4159 1242,4177ZM1439,4211 1446,4209 1456,4231 1446,4226ZM1550,4169 1559,4166 1567,4179 1557,4182ZM1773,4251 1795,4247 1802,4261 1819,4252 1832,4265 1851,4257 1856,4263 1846,4290 1787,4290ZM2622,3451 2616,3470 2596,3484 2589,3494 2591,3514 2586,3529 2591,3536 2581,3539 2576,3551 2575,3534 2579,3519 2574,3507 2571,3492 2559,3482 2547,3480 2532,3487 2525,3494 2512,3500 2495,3502 2515,3492 2527,3480 2544,3472 2559,3466 2579,3475 2594,3472 2606,3465 2616,3448ZM2050,2034 2058,2031 2064,2040 2058,2046 2053,2042ZM2029,2136 2038,2133 2043,2145 2035,2151 2029,2145ZM1546,2294 1553,2291 1558,2311 1568,2313 1580,2316 1565,2321 1570,2343 1578,2353 1570,2353 1563,2331 1546,2336 1531,2343 1521,2353 1526,2363 1519,2363 1504,2355 1521,2343 1533,2331 1546,2323 1551,2313ZM1553,2212 1563,2204 1570,2207 1565,2217 1557,2217ZM2359,2074 2362,2093 2373,2099 2388,2098 2392,2093 2382,2086 2369,2079ZM2606,2586 2623,2583 2636,2578 2643,2591 2648,2606 2636,2600 2618,2593ZM2616,2458 2628,2443 2632,2445 2621,2460Z" fill="#fff" stroke="#000" stroke-width="2.4" stroke-linejoin="round"/><path d="M1037,2086 1057,2105 1077,2127 1096,2144 1105,2166 1106,2183 1121,2215 1122,2240 1130,2262 1126,2277 1133,2289 1138,2292 1125,2307 1125,2321 1146,2341M1200,2284 1206,2297 1202,2324 1210,2336 1239,2341 1259,2349 1274,2346 1284,2350M825,2516 840,2524 840,2531 860,2538 875,2546 882,2561 889,2573 892,2590 894,2600 902,2610 912,2620M700,2588 685,2615 687,2630 697,2635 700,2662 717,2679 723,2691 712,2701 696,2721 697,2726M966,3840 934,3859 929,3877 934,3914 966,3926 972,3941 961,3963 966,3985 963,4005 949,4007M1348,4137 1351,4167 1355,4191 1357,4216M1185,4073 1192,4081 1197,4093M2424,3424 2446,3420 2453,3440 2448,3467M2458,3440 2463,3465 2470,3445 2478,3467M2475,3435 2495,3433 2505,3455 2498,3440 2493,3462M2441,3408 2465,3415 2480,3435M2559,3521 2552,3494 2557,3551M2495,3499 2512,3512 2522,3489M2415,4039 2423,4011 2428,3991 2430,3971 2443,3969M1750,1882 1756,1886 1764,1892 1761,1902 1773,1911 1781,1911 1772,1920 1773,1951 1779,1963 1772,1979 1773,1997 1781,2028 1778,2040 1781,2048 1775,2056 1787,2074 1798,2074 1805,2066 1816,2083 1827,2096 1835,2100 1822,2108M1479,2257 1492,2239 1506,2225 1511,2205 1519,2195 1536,2185 1556,2173M1519,2195 1501,2185M1600,1917 1610,1934M1620,1903 1630,1924 1631,1939M1671,1968 1649,2005 1634,2005M1625,2035 1642,2052M1664,2003 1694,1995 1718,1998M1674,2023 1703,2018 1716,2023M1679,2052 1706,2062 1726,2050M1738,2057 1745,2082 1743,2089 1750,2074M1644,1934 1667,1931M2608,2485 2633,2472 2648,2465 2658,2482 2653,2497M2599,2443 2616,2438M2673,2564 2682,2561 2680,2576 2686,2596 2678,2588M2433,2127 2416,2152 2406,2167 2401,2184 2394,2195M2613,2519 2633,2526M2559,2408 2569,2406 2564,2416M2714,2729 2720,2713 2742,2687M2749,2698 2751,2718M2768,2746 2775,2713 2786,2691M2801,2683 2799,2709 2807,2724M2810,2748 2827,2713 2842,2705M2775,2750 2790,2761M2182,2808 2186,2819 2195,2817M2202,2830 2208,2825M2299,2795 2314,2796M2109,2811 2123,2822" fill="none" stroke="#000" stroke-width="2.5" stroke-linejoin="round"/><path d="M2874,2822 2875,2820 2871,2809M2868,2819 2866,2814 2861,2795M2862,2817 2859,2809M2856,2815 2856,2812M2853,2814 2849,2804 2848,2800M2850,2813 2857,2804M2841,2810 2839,2800M2834,2808 2837,2804 2846,2790M2831,2807 2823,2792 2814,2785M2829,2806 2827,2802 2828,2788M2819,2803 2820,2793M2813,2801 2814,2794 2810,2785M2811,2801 2812,2791M2806,2800 2806,2785M2802,2799 2799,2789M2797,2798 2791,2785M2791,2797 2794,2788M2785,2796 2793,2778 2787,2765M2784,2796 2782,2791M2777,2795 2780,2782 2775,2774M2771,2795 2771,2788M2764,2796 2761,2794M2759,2797 2758,2791 2758,2787M2753,2798 2762,2783M2756,2802 2748,2807M2760,2808 2755,2818M2762,2811 2761,2812M2765,2813 2757,2819M2769,2817 2767,2822M2774,2823 2769,2823M2778,2828 2774,2829 2769,2829M2780,2832 2782,2830 2782,2825M2773,2829 2792,2816 2795,2814M2765,2826 2761,2814 2770,2799M2763,2825 2764,2818 2763,2813M2755,2821 2773,2796M2752,2820 2749,2801M2746,2817 2746,2814M2744,2815 2749,2806M2741,2814 2738,2809M2733,2812 2736,2801M2731,2811 2737,2789M2728,2810 2731,2794 2726,2789M2721,2808 2733,2797M2718,2806 2719,2799 2728,2795M2712,2803 2720,2799M2711,2802 2712,2798 2716,2788M2707,2799 2713,2794 2720,2796M2705,2798 2707,2782 2699,2775M2696,2792 2728,2796M2699,2789 2702,2795 2706,2795M2704,2784 2708,2786M2703,2782 2708,2780 2727,2783M2697,2779 2707,2775 2713,2773M2694,2778 2694,2776M2688,2775 2704,2758M2683,2772 2683,2767 2696,2758M2681,2771 2682,2769 2692,2753M2679,2770 2687,2763M2675,2767 2675,2763 2693,2754M2671,2765 2679,2763 2683,2761M2666,2762 2666,2751 2659,2745M2664,2761 2664,2756M2656,2757 2658,2745 2667,2734M2651,2756 2661,2750M2648,2754 2649,2753 2647,2739M2642,2749 2642,2747M2638,2744 2646,2743M2636,2741 2638,2738 2644,2735M2634,2739 2638,2739M2631,2735 2632,2730M2629,2731 2633,2714 2641,2702M2627,2729 2640,2718M2620,2721 2622,2709M2615,2717 2617,2712M2611,2714 2617,2710 2629,2713M2605,2710 2608,2679 2595,2664M2602,2708 2618,2705 2621,2707M2599,2702 2603,2690M2598,2700 2607,2691 2612,2684M2596,2698 2602,2698 2612,2692M2592,2693 2622,2688M2584,2688 2578,2663M2579,2685 2588,2672 2590,2664M2576,2682 2583,2678 2592,2675M2575,2681 2583,2651M2571,2677 2579,2674 2585,2663M2568,2674 2571,2672M2564,2672 2569,2663M2559,2670 2562,2658 2571,2654M2556,2668 2558,2657 2557,2641M2553,2663 2557,2661M2552,2663 2556,2656M2550,2656 2557,2657 2566,2648M2552,2654 2540,2673M2553,2654 2558,2674 2556,2677M2561,2652 2565,2657M2562,2652 2552,2666 2555,2684M2565,2651 2573,2659 2581,2657M2572,2651 2575,2661 2568,2667M2574,2651 2578,2670 2577,2683M2580,2653 2578,2654M2582,2654 2579,2659 2574,2674M2587,2655 2589,2659 2580,2672M2593,2657 2593,2667 2596,2670M2597,2658 2588,2664 2580,2663M2600,2659 2594,2666 2588,2684M2602,2659 2611,2653 2625,2643M2599,2658 2594,2643 2604,2633M2593,2655 2594,2650M2589,2653 2592,2652 2603,2654M2586,2651 2599,2646M2582,2649 2593,2640M2580,2648 2582,2637M2577,2647 2584,2624M2570,2643 2592,2634M2569,2642 2585,2639 2597,2633M2564,2640 2572,2636M2562,2639 2562,2631 2558,2625M2555,2637 2559,2624 2555,2613M2554,2637 2554,2635M2545,2635 2547,2633 2545,2620M2544,2634 2547,2625 2543,2609M2542,2625 2542,2631 2561,2639M2547,2623 2538,2641 2536,2655M2548,2623 2553,2640 2560,2651M2552,2621 2571,2637M2558,2620 2574,2628 2586,2618M2563,2618 2566,2624 2570,2625M2562,2617 2563,2604 2567,2590M2554,2614 2555,2605 2551,2600M2551,2613 2561,2603 2564,2604M2543,2608 2546,2608M2541,2605 2550,2602 2556,2594M2540,2602 2542,2597 2551,2583M2537,2596 2543,2583M2544,2576 2538,2579M2560,2582 2560,2586 2557,2590M2566,2586 2563,2587 2559,2588M2572,2597 2563,2592 2565,2581M2571,2595 2574,2597M2570,2593 2601,2589 2620,2587M2569,2589 2574,2587 2586,2580M2568,2557 2571,2559 2575,2564M2562,2546 2560,2546 2555,2546M2562,2531 2566,2534M2564,2527 2565,2528M2559,2505 2560,2506M2558,2497 2565,2498 2568,2496M2551,2453 2553,2453M2551,2449 2556,2450 2560,2453M2551,2437 2554,2436M2550,2431 2557,2433 2557,2437M2549,2422 2555,2427M2549,2384 2551,2382M2549,2383 2553,2386 2560,2385M2558,2330 2564,2329 2566,2324M2562,2325 2562,2326M2577,2318 2580,2321M2595,2315 2593,2318M2608,2315 2606,2317 2606,2322M2618,2316 2610,2322M2624,2318 2620,2324M2628,2322 2621,2325 2621,2329M2636,2331 2633,2334M2650,2352 2648,2351 2646,2348M2662,2390 2660,2393 2658,2396M2665,2406 2662,2405 2658,2404M2665,2424 2661,2424 2656,2422M2677,2469 2675,2473 2672,2475M2677,2469 2675,2473 2673,2475M2681,2471 2688,2470M2694,2456 2701,2463M2725,2462 2726,2467M2730,2464 2726,2467 2723,2471M2597,2288 2599,2282M2594,2289 2592,2285M2589,2289 2589,2285M2551,2257 2550,2252M2370,2235 2373,2234M2353,2234 2354,2231 2357,2228M2251,2144 2253,2141M2250,2139 2248,2137M2212,2199 2210,2196M2204,2201 2202,2198M2164,2175 2166,2174 2170,2172M2109,2071 2111,2073 2112,2077M2098,2072 2096,2071 2091,2073M2107,2134 2103,2133M2088,2166 2081,2167M2085,2172 2083,2167 2076,2166M2081,2180 2078,2179 2071,2183M2077,2194 2073,2196M2082,2198 2083,2200 2088,2199M2085,2202 2081,2201 2078,2197M2082,2207 2072,2208 2069,2207M2077,2214 2071,2205 2064,2204M2065,2222 2066,2219 2066,2214M2061,2223 2063,2218M2047,2229 2041,2227M2045,2230 2040,2228M2038,2237 2034,2234 2033,2230M2029,2248 2027,2247 2022,2250M2025,2253 2019,2253M2012,2270 2012,2265M2008,2277 2007,2274 2008,2269M1992,2204 1994,2207M1995,2153 1999,2157M2018,2077 2020,2077 2024,2077M2017,2073 2021,2073M2096,1966 2103,1964M2081,1955 2082,1951M2076,1951 2076,1950M1991,2056 1990,2053M1925,1982 1922,1982 1919,1979M1964,2077 1965,2081M1927,2255 1928,2253 1929,2249M1936,2177 1939,2173 1936,2170M1915,2165 1916,2163 1917,2160M1880,2218 1880,2216 1878,2212M1825,2195 1820,2194 1817,2192M1818,2274 1819,2271M1812,2274 1813,2272 1818,2270M1733,2342 1726,2339M1695,2365 1690,2358M1668,2378 1667,2377M1660,2382 1662,2378M1649,2384 1652,2382M1608,2401 1607,2395M1601,2401 1599,2399 1595,2399M1577,2460 1570,2455M1557,2484 1552,2480 1548,2482M1545,2480 1553,2479 1554,2476M1537,2480 1537,2478 1532,2475M1532,2459 1534,2456M1516,2460 1519,2460 1524,2462M1430,2441 1432,2439M1413,2405 1415,2406 1419,2403M1443,2334 1451,2340 1453,2342M1447,2319 1449,2320M1450,2315 1457,2319 1458,2323M1472,2276 1475,2275M1473,2272 1478,2278M1467,2277 1460,2272 1455,2269M1427,2312 1424,2311M1426,2315 1421,2307M1401,2334 1400,2324M1292,2348 1290,2343M1280,2349 1283,2347 1287,2348M1273,2347 1274,2345M1268,2347 1265,2340M1262,2355 1261,2353M1254,2361 1254,2359M1246,2365 1246,2363 1243,2359M1240,2370 1237,2372M1244,2380 1242,2382M1247,2383 1242,2383 1239,2382M1249,2385 1249,2391 1247,2395M1258,2401 1253,2404M1258,2404 1255,2406M1257,2410 1253,2408M1255,2414 1253,2413 1251,2411M1250,2422 1243,2423M1247,2420 1248,2420 1252,2419M1243,2417 1248,2414 1251,2413M1232,2414 1234,2411 1237,2410M1229,2415 1230,2414M1224,2416 1220,2409 1222,2403M1224,2417 1220,2414 1216,2414M1217,2419 1213,2415 1215,2410M1207,2426 1207,2422 1208,2418M1192,2429 1190,2426M1186,2428 1187,2425M1172,2419 1177,2418M1172,2418 1172,2417 1168,2413M1164,2412 1164,2407M1150,2397 1156,2389M1153,2381 1149,2388M1137,2369 1139,2364M1125,2364 1130,2361 1134,2360M1014,2491 1013,2492 1011,2496M942,2627 941,2623M852,2662 849,2663 845,2663M800,2744 802,2742 806,2742M697,2871 698,2869 697,2866M665,2902 663,2899M707,2908 707,2910M720,2950 717,2952 714,2951M713,2970 712,2967 713,2964M690,3038 687,3037M683,3056 682,3055 679,3053M638,3109 636,3109M608,3151 604,3153M530,3292 526,3293 523,3294M638,3372 639,3375M692,3352 688,3351 685,3348M698,3361 696,3366 695,3370M953,3804 955,3803M962,3797 964,3799M1000,3807 998,3812 994,3812M1073,3844 1076,3840 1080,3839M1058,3842 1059,3840 1056,3837M1112,3862 1105,3859M1107,3900 1105,3899 1103,3895M1121,3906 1124,3909M1143,3896 1136,3899M1133,3925 1130,3929 1126,3934M1158,3922 1162,3927M1162,3922 1160,3924 1162,3930M1167,3926 1165,3927M1183,3938 1181,3938M1217,3999 1215,3999M1221,4006 1218,4010M1232,4019 1227,4021M1267,4049 1264,4048 1263,4044M1260,4070 1264,4062M1235,4084 1229,4089 1225,4089M1243,4086 1249,4095M1296,4109 1297,4113M1308,4112 1306,4115M1328,4109 1327,4111M1337,4120 1336,4123M1358,4137 1361,4137M1359,4134 1364,4138M1362,4118 1367,4118 1370,4116M1411,4087 1405,4089 1402,4086M1413,4088 1411,4092 1411,4096M1422,4098 1420,4099 1420,4103M1432,4120 1428,4122 1423,4119M1444,4137 1440,4137 1436,4138M1461,4151 1459,4152M1476,4163 1473,4166M1523,4170 1525,4174M1528,4173 1528,4174M1535,4177 1534,4187M1537,4173 1544,4173M1541,4165 1547,4166 1553,4170M1544,4158 1559,4155M1554,4152 1558,4155M1557,4151 1557,4156 1556,4163M1584,4162 1583,4163M1581,4169 1579,4170M1577,4188 1569,4190M1582,4195 1576,4194M1598,4213 1595,4215 1588,4222M1603,4206 1617,4214M1601,4199 1606,4202 1615,4199M1600,4194 1606,4190 1608,4186M1600,4192 1605,4185M1600,4178 1610,4180 1613,4180M1603,4172 1605,4179M1614,4164 1616,4166M1626,4156 1631,4164 1631,4173M1630,4152 1633,4153 1641,4147M1637,4146 1643,4150M1643,4135 1646,4135M1637,4130 1644,4126 1655,4124M1621,4132 1624,4130 1629,4128M1627,4116 1629,4121 1626,4125M1619,4091 1620,4089 1625,4084M1616,4087 1628,4089 1632,4083M1611,4083 1619,4079 1624,4076M1606,4078 1607,4075M1599,4068 1606,4064M1595,4061 1606,4065M1596,4054 1603,4051M1601,4032 1603,4034 1602,4044M1603,4021 1608,4013 1605,4008M1602,4015 1604,4012M1600,4007 1605,4007 1610,4010M1600,4006 1605,4001 1615,4005M1607,3996 1607,4011M1614,3991 1614,3994M1618,3987 1620,3996 1617,4005M1626,3980 1628,3985M1643,3983 1639,3984 1633,3983M1647,3987 1647,3994M1653,3994 1652,3998 1648,4002M1655,4001 1646,4006M1656,4004 1649,4003M1667,4040 1663,4046 1665,4049M1672,4050 1660,4060 1651,4063M1675,4069 1673,4068M1680,4080 1677,4086M1692,4094 1688,4093M1696,4103 1689,4101 1686,4093M1698,4108 1694,4114 1693,4122M1699,4112 1692,4113M1700,4117 1698,4116M1704,4133 1703,4134M1704,4144 1699,4140M1704,4146 1703,4146M1703,4157 1700,4156 1692,4162M1705,4165 1711,4167M1706,4159 1708,4159M1708,4150 1719,4146M1709,4145 1717,4142 1719,4137M1709,4141 1715,4140 1722,4145M1710,4128 1716,4128 1721,4126M1710,4125 1718,4129M1723,4114 1716,4121M1729,4121 1728,4122M1737,4133 1733,4139M1741,4139 1735,4138M1745,4152 1741,4159M1746,4160 1736,4160 1733,4157M1739,4171 1730,4176 1728,4179M1739,4176 1738,4179M1745,4192 1741,4196M1750,4200 1742,4201 1740,4204M1752,4203 1750,4204 1747,4209M1756,4208 1748,4208 1739,4213M1763,4218 1766,4218 1776,4220M1773,4202 1782,4194M1773,4199 1782,4205 1789,4209M1775,4190 1778,4193M1775,4186 1783,4182 1790,4179M1777,4177 1785,4173M1786,4159 1792,4157M1792,4134 1798,4135M1794,4123 1796,4120M1788,4109 1790,4107 1794,4105M1785,4103 1802,4109M1785,4091 1797,4087M1785,4086 1788,4088 1790,4097M1785,4083 1786,4083M1791,4078 1795,4087 1792,4091M1796,4076 1800,4078 1810,4075M1809,4080 1811,4092M1836,4086 1829,4097 1825,4105M1848,4091 1845,4094M1860,4110 1856,4107M1858,4116 1858,4112M1851,4123 1848,4121M1846,4127 1847,4114M1850,4144 1845,4151M1856,4154 1850,4157M1869,4177 1860,4186M1878,4192 1875,4191M1878,4198 1871,4203M1876,4212 1870,4209M1870,4221 1861,4222 1854,4218M1864,4227 1862,4226 1855,4232M1863,4229 1860,4225 1858,4223M1860,4232 1853,4232M1857,4237 1852,4226 1854,4222M2418,4043 2420,4040 2414,4031M2416,4037 2423,4033 2431,4024M2414,4031 2415,4029M2411,4024 2412,4018M2407,4019 2412,4015 2419,4007M2403,4013 2408,4010 2412,4001M2401,4011 2406,4009 2408,4004M2399,4007 2407,3999 2414,3997M2393,3998 2399,3998 2409,3997M2393,3997 2399,3999 2403,3999M2385,3982 2394,3975 2397,3971M2383,3979 2387,3977M2382,3977 2385,3977 2388,3971M2374,3962 2393,3959M2365,3950 2370,3946 2382,3939M2360,3941 2365,3938M2357,3934 2375,3934 2380,3941M2357,3932 2367,3926M2356,3924 2360,3928 2369,3932M2368,3916 2371,3918 2377,3915M2371,3912 2380,3918M2372,3911 2381,3909M2375,3907 2384,3913M2378,3899 2384,3890M2376,3897 2379,3896M2371,3890 2375,3889 2381,3884M2359,3877 2365,3875M2354,3873 2356,3871M2349,3868 2358,3865 2367,3865M2346,3864 2349,3859M2342,3860 2346,3853 2345,3847M2336,3857 2334,3853 2323,3853M2326,3861 2323,3853M2322,3862 2312,3852M2317,3863 2311,3858M2309,3864 2309,3863 2303,3859M2304,3865 2302,3861 2300,3857M2302,3866 2297,3860M2293,3867 2293,3860 2303,3858M2289,3867 2287,3866M2286,3868 2276,3856 2271,3854M2276,3869 2277,3865 2287,3865M2266,3863 2266,3856 2267,3851M2265,3854 2272,3853M2270,3849 2273,3851M2278,3845 2277,3851M2288,3841 2296,3847 2297,3852M2301,3840 2305,3858M2309,3839 2310,3841 2309,3844M2316,3834 2317,3837M2324,3827 2331,3831M2324,3827 2331,3825 2338,3824M2310,3818 2316,3816M2306,3816 2307,3801M2302,3813 2310,3804 2310,3796M2290,3806 2291,3803M2287,3804 2289,3797 2288,3793M2284,3802 2287,3801M2280,3800 2279,3793M2276,3798 2272,3777M2272,3798 2274,3796 2273,3783M2268,3798 2267,3795 2267,3790M2256,3801 2256,3799 2265,3794M2253,3802 2255,3792M2249,3804 2241,3800M2245,3806 2245,3804 2241,3800M2244,3813 2239,3822 2229,3825M2245,3818 2243,3821M2245,3827 2238,3821 2239,3815M2242,3829 2245,3817M2225,3831 2235,3830M2220,3826 2222,3820 2222,3808M2218,3817 2237,3819M2217,3808 2221,3812M2215,3801 2218,3792 2216,3789M2212,3798 2219,3796 2223,3796M2203,3791 2206,3785M2195,3783 2198,3780 2199,3767M2191,3780 2198,3778M2182,3770 2183,3763 2185,3759M2181,3769 2183,3769 2184,3761M2173,3763 2175,3762 2185,3757M2166,3756 2166,3755M2154,3746 2160,3746 2164,3754M2141,3736 2140,3730M2132,3728 2134,3720M2129,3725 2133,3722M2124,3720 2130,3713 2137,3703M2118,3713 2139,3712 2147,3717M2114,3712 2118,3706 2123,3706M2111,3711 2110,3706 2113,3702M2098,3706 2108,3702 2117,3702M2093,3700 2099,3692M2078,3689 2076,3680M2070,3687 2071,3680M2063,3684 2062,3682M2050,3681 2062,3675 2065,3669M2046,3680 2046,3676M2039,3679 2038,3676M2035,3679 2032,3675M2029,3679 2030,3677M2015,3682 2019,3675 2016,3665M1985,3706 1982,3703 1979,3691M1983,3706 1982,3693M1976,3706 1978,3697M1979,3713 1975,3715M1984,3718 1982,3719 1982,3727M1982,3718 1979,3697 1976,3696M1978,3718 1979,3714M1968,3718 1972,3715M1963,3718 1974,3703M1947,3708 1949,3702M1942,3701 1955,3698M1948,3693 1943,3708 1934,3711M1955,3691 1952,3701 1951,3705M1945,3692 1935,3676M1932,3693 1932,3685M1914,3680 1914,3682 1911,3693M1917,3677 1928,3680M1922,3673 1923,3677M1923,3671 1924,3675M1926,3668 1933,3677M1931,3664 1935,3676 1939,3678M1934,3662 1937,3667M1938,3660 1938,3663M1938,3659 1938,3667M1943,3656 1950,3666M1946,3654 1948,3658M1952,3647 1955,3650M1956,3643 1958,3646M1957,3642 1957,3624M1949,3638 1949,3635 1952,3633M1940,3641 1933,3623M1936,3644 1923,3640M1918,3653 1916,3651 1911,3648M1900,3648 1911,3644M1899,3648 1896,3642M1896,3647 1909,3645 1914,3637M1883,3634 1887,3623 1898,3620M1878,3618 1880,3618 1888,3619M1885,3607 1885,3614 1880,3616M1889,3602 1902,3617M1891,3600 1903,3596M1906,3578 1917,3589 1925,3592M1911,3574 1913,3577M1913,3574 1919,3575M1917,3570 1918,3571 1922,3572M1920,3567 1922,3571M1925,3562 1929,3562M1925,3555 1928,3554 1941,3556M1925,3539 1932,3540 1935,3549M1919,3530 1915,3523 1915,3516M1909,3530 1910,3526M1904,3530 1906,3512 1914,3507M1892,3503 1894,3504M1892,3494 1896,3495M1893,3489 1899,3492M1895,3482 1898,3482M1896,3477 1902,3478M1898,3473 1906,3477M1905,3467 1907,3478 1898,3487M1906,3466 1912,3470 1922,3471M1912,3459 1915,3461 1920,3461M1911,3456 1918,3454 1929,3451M1909,3452 1913,3451M1907,3449 1913,3451 1918,3449M1905,3444 1913,3430 1917,3421M1903,3440 1913,3434 1915,3431M1902,3436 1909,3433M1899,3432 1906,3425M1904,3424 1902,3434M1908,3420 1908,3426M1916,3409 1929,3406 1930,3403M1920,3403 1924,3410M1922,3399 1927,3398 1933,3392M1924,3395 1930,3394M1928,3391 1936,3397 1947,3391M1928,3391 1939,3392 1943,3383M1935,3383 1953,3392 1964,3385M1939,3378 1941,3385 1951,3389M1942,3375 1958,3386 1962,3384M1940,3370 1947,3372M1939,3366 1942,3364 1942,3360M1951,3353 1958,3352M1942,3343 1949,3342M1940,3340 1941,3344M1948,3319 1951,3313M1945,3317 1948,3305 1952,3301M1949,3307 1960,3305M1958,3289 1973,3292 1976,3289M1959,3278 1971,3283M1958,3263 1964,3266 1969,3269M1961,3259 1962,3261 1972,3263M1962,3257 1966,3265M1968,3249 1971,3249M1969,3248 1974,3249M1980,3239 1990,3245 1993,3250M1986,3235 1988,3239M1991,3232 2004,3241 2007,3242M2003,3227 2006,3230M2007,3230 2000,3229 1990,3225M2014,3232 2015,3236 2021,3239M2046,3217 2042,3221 2032,3228M2050,3220 2043,3221M2056,3224 2054,3222 2055,3211M2048,3259 2045,3257 2037,3254M2044,3266 2034,3258 2033,3254M2043,3270 2031,3270M2044,3273 2042,3272M2044,3277 2041,3279M2045,3285 2036,3283 2032,3286M2045,3286 2038,3288 2035,3286M2046,3293 2039,3289M2046,3299 2045,3298 2039,3288M2052,3305 2061,3312 2068,3322M2053,3299 2056,3296M2054,3290 2068,3290 2070,3287M2058,3272 2060,3275 2061,3279M2061,3263 2066,3266M2062,3259 2070,3257 2074,3260M2077,3252 2069,3255M2077,3254 2071,3258M2079,3272 2073,3274 2063,3279M2081,3274 2082,3279M2083,3273 2089,3271 2100,3268M2094,3239 2099,3241M2093,3228 2100,3222 2098,3213M2091,3222 2101,3221M2089,3210 2093,3212M2088,3198 2104,3208M2088,3196 2098,3198 2104,3197M2088,3185 2101,3181M2090,3182 2098,3181M2094,3177 2096,3178M2104,3169 2101,3174 2095,3182M2111,3167 2105,3178 2099,3178M2114,3169 2108,3184 2105,3185M2119,3174 2117,3196 2120,3200M2132,3189 2122,3197 2112,3203M2136,3192 2138,3197 2134,3203M2139,3193 2136,3197M2140,3205 2133,3203M2144,3211 2145,3213 2151,3225M2145,3210 2145,3213 2144,3217M2154,3207 2146,3223M2157,3210 2157,3212M2165,3216 2161,3219 2154,3220M2167,3222 2156,3217 2148,3221M2171,3231 2171,3241 2165,3252M2179,3230 2181,3237 2189,3248M2180,3230 2184,3247 2187,3248M2184,3229 2177,3232M2186,3235 2181,3241M2188,3241 2187,3246M2195,3244 2198,3250 2190,3260M2206,3252 2209,3266 2220,3269M2215,3259 2210,3259 2208,3257M2223,3265 2218,3267M2238,3271 2240,3276 2248,3282M2266,3268 2266,3274 2263,3278M2270,3267 2267,3270M2284,3266 2285,3273 2287,3285M2286,3268 2284,3273 2281,3276M2290,3272 2290,3274M2297,3279 2290,3281M2299,3280 2303,3290M2309,3279 2309,3281 2314,3286M2354,3293 2350,3298 2351,3307M2357,3294 2355,3303M2359,3295 2360,3299M2366,3297 2370,3293M2354,3296 2354,3287 2357,3278M2345,3295 2336,3286 2335,3281M2341,3295 2353,3281 2353,3274M2339,3296 2334,3306M2341,3299 2337,3306M2353,3310 2354,3314 2356,3324M2358,3312 2356,3313 2353,3321M2366,3316 2366,3326 2361,3334M2384,3313 2377,3316M2391,3317 2389,3324 2383,3329M2395,3319 2379,3333M2399,3322 2382,3335M2410,3334 2410,3339 2415,3344M2414,3335 2411,3340M2420,3332 2432,3331M2426,3322 2424,3332 2429,3339M2437,3335 2434,3334M2439,3342 2425,3344 2420,3344M2439,3347 2441,3342 2448,3337M2427,3351 2431,3344M2427,3355 2410,3362 2404,3359M2428,3368 2422,3366M2431,3368 2432,3371M2441,3365 2443,3368M2445,3364 2448,3366M2454,3359 2465,3365 2468,3377M2467,3361 2466,3364 2461,3376M2473,3364 2466,3364 2455,3370M2472,3371 2457,3380M2471,3376 2467,3378 2467,3385M2472,3384 2470,3389M2474,3396 2467,3394 2458,3396M2457,3404 2458,3398M2455,3404 2450,3400M2450,3405 2450,3402 2447,3397M2442,3416 2441,3421 2445,3429M2446,3417 2449,3435 2441,3440M2453,3420 2445,3425M2459,3421 2458,3424M2461,3422 2455,3427M2469,3425 2469,3428M2472,3422 2478,3426 2488,3427M2474,3420 2478,3424M2479,3413 2481,3416 2489,3415M2484,3405 2487,3413M2492,3397 2491,3408 2496,3420M2494,3398 2491,3402M2498,3400 2493,3403 2486,3412M2505,3403 2499,3405 2488,3397M2523,3414 2521,3421M2527,3416 2514,3399M2522,3420 2518,3419M2510,3429 2495,3421M2500,3433 2491,3427M2496,3435 2497,3426M2492,3436 2488,3432M2489,3437 2492,3432 2490,3428M2485,3442 2480,3444M2489,3443 2490,3446M2505,3440 2509,3441 2512,3442M2509,3438 2512,3441M2522,3432 2525,3440 2529,3445M2526,3430 2528,3442 2532,3451M2536,3426 2531,3431 2528,3433M2540,3428 2535,3437 2536,3450M2547,3428 2547,3430 2549,3439M2559,3420 2555,3424M2566,3423 2563,3431 2561,3434M2578,3427 2569,3431M2606,3434 2604,3443 2601,3444M2608,3437 2595,3444M2607,3440 2588,3446M2586,3445 2583,3442 2584,3438M2589,3449 2589,3457 2590,3467M2593,3452 2591,3453M2605,3454 2606,3464M2611,3456 2609,3465M2620,3454 2629,3458 2637,3457M2623,3452 2614,3452M2625,3455 2624,3458 2629,3464M2635,3487 2633,3488 2622,3480M2638,3494 2634,3503M2646,3511 2633,3505M2648,3516 2643,3524 2643,3531M2655,3534 2652,3532 2640,3537M2657,3551 2656,3552M2658,3554 2654,3551M2656,3561 2655,3560 2649,3550M2655,3565 2643,3555M2654,3568 2651,3567M2653,3577 2646,3582M2654,3593 2646,3593 2644,3590M2653,3596 2649,3595M2653,3600 2642,3595M2652,3602 2645,3601 2640,3589M2650,3612 2634,3603M2650,3614 2645,3608 2638,3610M2648,3620 2638,3624 2630,3630M2644,3630 2640,3626M2641,3635 2634,3635M2640,3636 2633,3637 2628,3637M2635,3641 2628,3640 2617,3644M2632,3645 2620,3643 2614,3638M2627,3651 2621,3648 2617,3651M2624,3654 2622,3652M2620,3655 2614,3645M2615,3655 2604,3645 2601,3637M2604,3655 2600,3661M2612,3656 2609,3660M2615,3657 2615,3663 2612,3666M2621,3658 2617,3660M2622,3659 2620,3660M2626,3660 2624,3664 2623,3668M2636,3669 2634,3672 2633,3677M2637,3673 2626,3680 2618,3677M2639,3682 2628,3686 2621,3694M2639,3686 2628,3687 2619,3688M2648,3698 2643,3701 2637,3698M2655,3707 2652,3715M2658,3716 2646,3721 2635,3716M2660,3720 2652,3718M2660,3721 2654,3724M2674,3750 2670,3752M2676,3753 2675,3755M2677,3758 2674,3751 2668,3747M2675,3762 2671,3759 2670,3753M2673,3770 2667,3768 2662,3762M2671,3773 2665,3769M2662,3789 2652,3787 2642,3789M2655,3797 2654,3796 2651,3791M2647,3804 2647,3797M2643,3807 2630,3800M1055,2591 1056,2588M1090,2573 1091,2576M1124,2666 1121,2665 1118,2665M1188,2572 1188,2575M1199,2580 1199,2582 1199,2587M780,3116 780,3113M762,3108 766,3105 770,3107M1077,2677 1076,2680M1078,2704 1075,2702M568,3377 566,3381M1196,3795 1198,3796 1199,3799M1224,3773 1226,3777 1231,3777M1301,3729 1303,3740M1349,3794 1346,3792M1338,3825 1334,3816M1298,3830 1291,3827M1279,3838 1277,3836 1272,3835M1246,3857 1244,3856M1244,3860 1242,3859 1240,3854M1241,3862 1238,3851 1233,3849M1207,3869 1210,3867 1213,3866M1207,3869 1205,3865M1195,3865 1198,3862M1197,3842 1198,3842 1204,3838M1302,3836 1301,3839M1353,3828 1350,3837M1390,3872 1381,3880 1380,3885M1393,3886 1391,3880 1391,3873M1409,3884 1411,3884M1407,3874 1411,3872 1413,3866M1427,3906 1423,3905 1418,3903M1425,3926 1422,3923 1417,3926M1438,3918 1440,3918 1445,3924M1453,3866 1453,3873 1454,3876M1478,3919 1471,3915M1477,3950 1476,3950 1474,3948M1473,3976 1471,3973M1511,4042 1509,4042M1511,4061 1508,4057M1487,4075 1481,4076 1477,4075M1486,4100 1479,4094M1440,4089 1443,4086M1410,4065 1409,4063 1403,4061M1392,4076 1392,4068 1397,4066M1372,4078 1371,4074M1359,4079 1357,4077M1357,4080 1355,4075 1353,4071M1350,4080 1348,4076M1336,4081 1333,4070M1286,4027 1287,4022M1321,3981 1310,3985 1306,3980M1321,3964 1322,3963M1304,3957 1303,3953M1298,3955 1302,3953M1296,3954 1295,3953 1300,3947M1284,3951 1287,3949 1292,3951M1264,3942 1268,3942M1258,3930 1264,3925 1268,3923M1258,3925 1260,3926 1261,3930M1257,3919 1260,3916 1265,3916M1287,3909 1286,3910 1286,3917M1315,3915 1310,3918M1310,3911 1314,3909M1295,3901 1297,3897 1300,3893M1288,3899 1292,3896M1277,3897 1278,3894 1275,3890M1271,3890 1272,3887M1274,3866 1274,3872M1287,3852 1289,3854M1376,3717 1376,3719 1376,3725M1396,3688 1397,3691M1475,3743 1479,3744M1474,3710 1476,3708M1494,3720 1487,3723M1492,3728 1486,3725M1517,3756 1514,3755M1510,3775 1507,3774M1474,3787 1479,3781M1457,3783 1457,3775M1437,3788 1437,3786M1414,3766 1415,3767 1413,3770M1421,3765 1422,3768M1428,3763 1425,3768 1425,3774M1414,3745 1417,3739M1329,3660 1334,3662 1338,3664M1331,3657 1342,3657M1356,3648 1356,3649 1355,3656M1361,3645 1362,3649 1366,3654M1363,3644 1366,3645 1372,3646M1368,3640 1369,3644M1375,3637 1376,3641 1371,3645M1363,3672 1370,3668 1372,3663M1340,3674 1344,3668 1350,3669M1364,3696 1364,3699M1367,3695 1370,3696M1381,3698 1381,3695M1537,3732 1540,3735M1543,3720 1548,3724M1549,3718 1548,3724M1555,3727 1551,3727M1607,3731 1603,3735 1603,3743M1610,3732 1609,3735M1615,3743 1610,3742M1616,3753 1611,3745M1614,3764 1608,3763 1607,3758M1612,3770 1603,3772M1611,3775 1602,3776M1611,3775 1604,3777M1612,3781 1608,3786 1609,3793M1613,3794 1598,3794M1608,3804 1607,3802M1607,3807 1592,3802M1594,3813 1592,3810M1582,3811 1585,3808M1557,3757 1559,3756 1563,3756M1543,3753 1544,3750M1626,3805 1633,3806 1640,3809M1628,3800 1637,3798M1634,3794 1635,3798M1639,3791 1647,3798 1654,3799M1643,3790 1643,3791 1640,3796M1650,3790 1644,3793M1659,3799 1650,3796M1660,3808 1654,3815 1657,3821M1661,3820 1656,3823M1661,3832 1658,3830 1653,3831M1646,3836 1644,3834M1640,3836 1650,3831 1653,3828M1633,3830 1635,3823M1629,3828 1631,3823 1628,3816M1627,3823 1632,3825M1624,3811 1633,3806M1540,3911 1537,3914M1554,3896 1556,3902M1559,3867 1558,3872M1577,3866 1581,3870M1590,3861 1591,3863M1595,3860 1595,3868 1591,3874M1601,3859 1603,3862 1602,3865M1604,3865 1603,3865 1598,3867M1604,3890 1598,3888 1588,3883M1609,3905 1605,3904M1611,3920 1606,3922 1602,3920M1610,3934 1601,3940M1610,3941 1604,3942M1609,3946 1606,3948M1589,3978 1586,3977M1582,3977 1597,3974 1603,3973M1576,3975 1569,3973 1568,3964M1570,3989 1559,3989M1565,3995 1570,3992 1576,3992M1563,3994 1566,3991 1564,3984M1555,3974 1564,3976 1567,3978M1555,3972 1557,3971 1562,3971M1552,3963 1556,3959 1558,3952M1627,3882 1632,3886M1629,3879 1632,3890M1633,3873 1635,3878 1642,3878M1635,3870 1637,3871M1676,3872 1668,3878 1658,3881M1679,3872 1676,3876 1669,3880M1683,3872 1690,3879 1700,3877M1690,3873 1688,3881M1692,3873 1689,3880 1690,3889M1698,3883 1696,3878 1699,3869M1697,3887 1693,3888 1682,3888M1689,3908 1685,3906 1679,3907M1686,3917 1685,3916 1690,3908M1681,3933 1673,3917M1671,3933 1675,3929 1679,3929M1662,3931 1662,3925M1651,3933 1641,3927 1632,3928M1644,3945 1638,3940M1637,3974 1636,3971M1624,3949 1630,3948M1624,3940 1634,3939 1638,3941M1622,3898 1632,3902M1548,4090 1549,4100 1550,4110M1552,4088 1565,4097M1556,4083 1569,4095 1567,4103M1559,4080 1564,4080M1586,4087 1582,4099 1582,4107M1594,4100 1586,4110M1597,4107 1592,4113 1595,4121M1598,4111 1588,4116M1602,4116 1596,4116M1603,4133 1601,4130M1588,4144 1589,4136 1589,4132M1578,4138 1580,4135M1566,4134 1568,4132 1571,4126M1561,4132 1561,4125 1559,4122M1550,4124 1555,4123 1564,4122M1542,4115 1553,4117M1540,4112 1541,4105M1533,3783 1534,3790M1522,3795 1526,3792 1529,3793M1491,3605 1493,3606M1516,3602 1517,3608M1518,3607 1514,3608 1511,3614M1518,3614 1512,3611M1462,3616 1460,3615 1461,3609M1456,3630 1462,3625M1545,3668 1541,3669M1547,3674 1545,3673 1542,3670M1629,3632 1632,3643M1631,3628 1637,3631M1636,3627 1627,3628 1616,3628M1643,3635 1642,3639 1641,3648M1646,3637 1633,3639M1650,3641 1647,3644 1638,3644M1658,3651 1657,3650M1657,3656 1651,3653M1656,3665 1650,3664 1644,3665M1654,3670 1656,3664M1644,3672 1640,3667 1631,3666M1641,3673 1642,3669 1650,3665M1637,3674 1633,3670M1630,3663 1637,3665M1641,3686 1643,3694M1645,3682 1651,3692M1651,3679 1651,3680M1673,3691 1672,3676 1676,3673M1668,3694 1656,3689M1661,3697 1658,3692 1652,3687M1653,3697 1659,3691 1669,3692M1709,3698 1703,3700M1707,3707 1702,3708 1693,3706M1693,3698 1698,3702 1706,3699M1468,3870 1469,3866 1468,3863M1516,4121 1520,4123M1727,3899 1735,3902 1736,3910M1731,3893 1732,3895 1741,3896M1731,3892 1737,3890M1741,3884 1742,3888M1744,3883 1751,3885 1755,3889M1759,3878 1762,3883 1763,3886M1766,3878 1769,3884 1772,3886M1774,3890 1768,3891M1764,3910 1760,3912M1758,3925 1756,3923 1751,3925M1758,3925 1754,3930 1757,3934M1759,3936 1757,3938 1748,3942M1760,3941 1753,3942 1745,3943M1763,3953 1756,3955 1751,3960M1764,3956 1757,3959M1770,3970 1769,3972M1776,3979 1774,3979 1765,3978M1790,3984 1793,3980 1797,3979M1787,3978 1788,3970M1777,3959 1779,3959 1784,3966M1775,3954 1776,3951 1775,3948M1773,3946 1776,3945M1772,3942 1777,3936M1770,3936 1776,3934M1775,3912 1778,3916 1775,3923M1778,3907 1779,3910 1778,3915M1781,3903 1792,3908 1793,3911M1798,3886 1801,3892M1813,3878 1809,3883 1805,3893M1816,3878 1821,3884M1832,3886 1821,3894M1842,3903 1832,3908 1824,3912M1846,3910 1844,3911M1849,3915 1844,3920M1850,3917 1848,3917 1846,3923M1854,3922 1850,3922M1865,3924 1862,3932 1862,3938M1876,3919 1883,3924M1887,3915 1891,3918 1898,3918M1888,3915 1890,3916 1898,3922M1898,3913 1899,3916 1905,3920M1916,3915 1915,3925 1917,3928M1924,3919 1924,3923M1933,3928 1926,3929 1922,3936M1944,3939 1942,3942M1949,3941 1950,3946 1945,3957M1954,3942 1953,3949M1964,3945 1959,3951M1982,3948 1977,3958M1986,3949 1984,3958 1984,3963M1989,3949 1993,3961M1991,3949 1988,3963 1982,3966M2004,3955 2000,3955M2009,3960 2008,3966M2038,3972 2023,3978 2017,3986M2041,3973 2036,3976M2051,3976 2045,3987 2036,3995M2053,3976 2047,3984M2062,3979 2063,3983 2065,3985M2068,3982 2067,3984M2075,3985 2073,4005M2084,3991 2084,3993M2089,3997 2087,4004M2091,3999 2087,4000 2081,4011M2096,4005 2089,4004M2096,4009 2093,4010 2086,4007M2098,4015 2088,4018M2102,4018 2100,4020 2096,4028M2110,4022 2110,4023M2112,4023 2118,4040 2128,4046M2105,4032 2105,4024M2100,4036 2095,4034 2085,4027M2097,4038 2092,4032 2083,4027M2093,4040 2091,4040M2095,4053 2090,4059 2078,4057M2100,4057 2101,4067M2118,4064 2114,4068 2111,4074M2124,4066 2125,4071 2126,4081M2146,4073 2143,4078M2149,4074 2140,4084 2137,4086M2157,4074 2148,4084 2144,4089M2180,4077 2184,4082M2188,4079 2187,4089M2200,4082 2200,4090M2229,4089 2226,4095 2222,4094M2241,4090 2239,4100M2243,4090 2247,4096M2246,4091 2236,4096 2232,4100M2255,4094 2245,4098 2245,4111M2263,4097 2261,4103M2268,4106 2265,4104 2255,4097M2264,4121 2254,4122M2263,4122 2259,4117 2249,4119M2264,4129 2261,4129M2026,4231 2030,4232 2031,4245M2036,4206 2042,4208M2038,4202 2053,4201 2055,4204M2041,4194 2046,4194M2043,4192 2052,4189M2044,4188 2049,4190M2045,4178 2049,4181M2046,4149 2049,4147 2054,4150M2040,4141 2047,4136 2047,4128M2033,4134 2041,4124 2049,4125M2030,4131 2031,4128 2030,4122M2016,4114 2018,4100M2009,4113 2007,4110 2005,4106M1999,4111 2011,4102M1995,4110 1995,4109 1992,4103M1985,4101 1984,4088M1987,4098 1989,4113 1991,4125M1993,4092 1991,4089M1983,4089 1982,4086 1983,4078M1963,4074 1969,4074 1977,4081M1951,4063 1951,4060M1948,4064 1943,4062M1943,4064 1945,4062M1939,4061 1943,4046M1937,4059 1953,4057M1927,4048 1938,4045M1925,4046 1934,4038 1942,4034M1920,4042 1928,4032M1912,4035 1916,4035 1923,4036M1909,4032 1911,4030M1901,4027 1906,4025 1909,4021M1898,4025 1907,4022 1910,4022M1893,4023 1896,4020 1898,4018M1882,4020 1878,4009 1877,4000M1877,4020 1871,4021 1864,4026M1879,4025 1876,4026M1881,4029 1878,4035 1878,4039M1883,4034 1881,4036 1882,4046M1884,4034 1883,4048M1899,4053 1897,4053 1894,4051M1892,4064 1892,4057M1884,4068 1878,4066M1880,4071 1877,4066M1872,4071 1871,4065M1868,4069 1878,4066M1864,4067 1869,4066 1876,4061M1858,4064 1861,4062M1853,4062 1855,4051 1863,4049M1839,4057 1841,4054M1830,4053 1830,4043M1826,4051 1815,4047M1819,4059 1814,4053 1818,4046M1804,4066 1793,4061 1788,4058M1798,4068 1799,4066M1793,4068 1792,4060 1795,4057M1773,4060 1776,4055M1767,4056 1768,4051 1772,4049M1763,4049 1765,4042 1766,4039M1752,4049 1753,4042M1745,4052 1737,4049M1741,4052 1742,4049M1732,4047 1734,4046 1737,4041M1727,4042 1736,4028 1738,4023M1718,4026 1722,4023 1731,4025M1717,4019 1714,4024 1714,4031M1723,4020 1719,4024M1728,4021 1719,4030M1737,4022 1741,4032M1741,4023 1737,4026 1739,4035M1749,4023 1754,4027M1770,4016 1773,4021M1774,4014 1781,4017M1780,4011 1779,4015 1778,4018M1788,4002 1787,4000 1780,3998M1769,4007 1769,4004M1766,4008 1766,4006M1763,4009 1766,4002M1757,4010 1755,4009 1747,4005M1753,4011 1753,4009M1726,4010 1724,4008M1713,4008 1712,4003M1709,4001 1710,4000 1717,3994M1706,3987 1711,3988 1714,3987M1707,3980 1709,3982 1711,3986M1708,3973 1711,3972M1708,3966 1719,3971 1720,3976M1709,3958 1712,3959 1721,3953M1710,3952 1716,3946 1714,3941M1711,3940 1715,3943 1721,3952M1714,3929 1715,3929 1723,3923M1719,3914 1724,3925 1722,3929M1722,3907 1726,3911 1729,3911M1838,3874 1838,3883M1853,3872 1852,3874 1847,3880M1861,3871 1865,3875 1871,3877M1873,3870 1872,3874 1869,3877M1879,3872 1874,3888 1870,3890M1882,3874 1875,3876M1892,3881 1882,3883M1904,3893 1894,3893 1886,3893M1898,3909 1892,3900 1886,3895M1880,3911 1881,3903 1876,3897M1861,3919 1865,3915M1849,3910 1855,3909M1836,3891 1838,3890 1842,3890M1954,4147 1955,4146M1955,4143 1956,4144 1959,4145M1957,4132 1962,4139M1958,4132 1966,4135 1972,4130M1964,4128 1962,4142M1966,4126 1980,4126M1983,4127 1978,4136M1989,4143 1989,4145M1992,4153 1990,4156 1984,4157M1992,4163 1985,4160M1980,4177 1979,4172M1974,4180 1976,4170 1983,4165M1970,4181 1973,4176M1961,4178 1969,4163M1957,4173 1959,4172M1996,4134 2004,4138M1999,4130 2001,4131M2006,4128 1991,4143 1983,4151M2009,4129 2009,4130M2014,4130 2011,4137 2012,4150M2022,4140 2019,4147M2020,4142 2021,4135M2012,4143 2010,4139M2007,4144 2004,4141 2005,4130M2004,4144 2011,4142 2018,4137M2001,4141 2005,4123M1954,4091 1959,4100M1960,4107 1958,4101M1984,4101 1989,4109 1993,4115M1987,4099 1979,4105M1989,4113 1979,4108M1988,4117 1986,4112 1982,4107M1979,4115 1985,4113 1988,4111M1976,4108 1983,4108 1985,4105M1933,4080 1930,4092M1937,4078 1940,4079M1945,4088 1935,4096M1915,4093 1908,4094M1912,4100 1904,4097 1900,4087M1906,4090 1915,4099M1910,4141 1917,4141M1772,4158 1760,4155 1756,4154M1776,4171 1770,4169M1766,4179 1774,4182M1766,4174 1775,4166M1766,4170 1772,4175M1714,3783 1703,3781M1726,3795 1722,3797M1727,3795 1727,3798 1733,3802M1733,3797 1731,3802M1767,3791 1773,3793 1776,3795M1776,3784 1781,3795 1780,3799M1784,3778 1791,3783 1793,3785M1787,3777 1789,3779 1798,3777M1801,3774 1805,3779M1807,3774 1809,3778 1809,3782M1817,3775 1814,3778 1807,3781M1838,3795 1836,3798 1838,3803M1841,3809 1840,3810M1839,3815 1837,3812M1835,3824 1824,3815M1830,3832 1832,3824M1817,3840 1811,3839M1799,3834 1806,3828M1791,3834 1790,3827 1788,3820M1790,3835 1780,3830 1775,3824M1786,3836 1780,3832M1777,3840 1774,3838 1766,3837M1770,3843 1764,3832 1760,3824M1767,3843 1769,3841 1776,3837M1746,3846 1744,3837 1741,3834M1740,3846 1739,3843 1731,3842M1738,3845 1752,3836M1726,3844 1726,3838M1721,3837 1725,3838 1730,3833M1719,3832 1726,3828M1714,3835 1707,3831 1707,3826M1707,3841 1706,3836M1699,3840 1699,3834 1699,3827M1694,3839 1692,3836 1696,3831M1687,3834 1687,3831M1685,3831 1686,3824M1684,3830 1689,3827 1695,3819M1675,3797 1682,3795 1685,3796M1675,3795 1678,3795M1675,3777 1682,3773 1682,3766M1672,3743 1673,3741 1679,3737M1683,3741 1692,3749 1701,3748M1702,3745 1701,3747 1700,3757M1706,3759 1701,3760M2276,3878 2290,3886M2286,3871 2293,3876 2298,3873M2291,3870 2287,3876M2300,3870 2300,3873 2305,3877M2304,3869 2300,3877 2292,3879M2307,3869 2305,3877 2304,3886M2323,3870 2322,3873M2326,3871 2325,3880M2330,3875 2320,3878M2331,3877 2319,3884M2333,3885 2329,3879 2332,3867M2330,3891 2316,3897 2309,3908M2324,3905 2319,3900 2322,3892M2323,3909 2318,3910 2307,3913M2311,3911 2311,3910 2307,3901M2297,3902 2288,3884M2282,3891 2287,3888M2281,3890 2283,3888M2276,3885 2278,3881 2277,3877M1693,3517 1688,3521M1695,3522 1690,3524 1688,3527M1696,3526 1696,3529M1702,3540 1693,3540M1711,3553 1707,3552 1703,3550M1713,3555 1713,3562 1713,3569M1720,3557 1714,3560M1727,3559 1724,3563M1731,3569 1727,3571M1737,3582 1729,3585M1739,3588 1737,3595 1740,3601M1744,3597 1739,3600 1735,3599M1747,3602 1741,3603M1745,3616 1731,3618 1726,3627M1742,3620 1740,3617 1735,3616M1739,3626 1735,3617 1739,3609M1731,3640 1723,3629 1724,3625M1728,3645 1727,3644 1724,3642M1724,3652 1718,3653M1715,3661 1711,3658M1710,3664 1707,3663M1701,3664 1701,3660M1683,3655 1684,3638 1689,3633M1675,3645 1687,3632 1692,3630M1673,3630 1676,3639M1675,3627 1678,3633M1675,3625 1677,3623 1678,3619M1673,3609 1673,3614 1674,3620M1661,3591 1662,3592M1655,3569 1659,3569M1661,3529 1661,3536 1665,3543M1671,3516 1673,3519 1681,3521M1675,3509 1682,3510 1684,3513M1678,3505 1682,3508M1703,3477 1706,3488 1702,3492M1728,3457 1729,3459M1738,3450 1748,3455 1751,3462M1747,3452 1738,3461M1750,3454 1746,3461 1742,3463M1753,3455 1742,3462 1737,3464M1755,3456 1758,3455M1755,3448 1762,3444 1769,3440M1757,3430 1760,3430 1762,3434M1774,3420 1776,3424M1778,3419 1778,3423M1787,3407 1790,3410M1835,3400 1838,3404 1843,3406M1847,3401 1847,3406 1847,3411M1848,3400 1851,3404M1853,3399 1857,3405M1865,3399 1866,3405M1869,3402 1870,3406M1878,3406 1882,3418 1879,3425M1888,3411 1882,3407 1882,3396M1890,3429 1883,3428 1878,3433M1887,3439 1881,3442 1880,3448M1886,3442 1883,3443 1872,3446M1876,3453 1877,3439 1873,3428M1877,3456 1873,3462 1868,3469M1888,3464 1882,3462M1887,3471 1884,3469M1886,3475 1884,3474M1884,3480 1880,3479M1879,3496 1876,3497 1872,3495M1878,3499 1876,3497 1871,3486M1878,3502 1858,3509M1876,3510 1868,3513M1874,3520 1868,3517M1873,3521 1863,3521 1857,3517M1871,3531 1856,3531M1868,3538 1853,3545M1867,3545 1865,3546M1869,3549 1855,3548M1851,3569 1847,3567M1853,3575 1845,3570 1844,3563M1852,3597 1850,3600 1848,3602M1853,3600 1843,3600M1852,3609 1849,3608M1857,3615 1855,3621 1845,3622M1853,3622 1852,3616M1849,3625 1843,3619M1853,3640 1849,3641M1851,3643 1851,3639M1843,3649 1840,3640M1845,3661 1842,3657M1836,3664 1841,3648 1840,3639M1836,3683 1835,3682 1827,3681M1831,3692 1829,3688 1826,3681M1815,3697 1812,3692 1809,3684M1807,3698 1806,3695M1795,3700 1796,3698 1800,3698M1802,3704 1801,3707 1794,3714M1815,3707 1822,3717M1822,3706 1819,3713M1827,3705 1829,3716 1829,3724M1830,3705 1828,3708M1842,3713 1831,3715 1823,3717M1845,3727 1836,3725M1841,3737 1836,3735 1827,3737M1836,3741 1848,3731M1825,3740 1826,3738M1822,3743 1817,3741 1807,3745M1821,3743 1807,3737 1806,3732M1815,3753 1811,3754 1804,3751M1809,3753 1812,3748M1803,3751 1808,3748 1814,3745M1797,3750 1797,3742 1797,3738M1793,3749 1793,3742M1763,3754 1771,3747 1775,3749M1757,3752 1761,3741M1735,3750 1732,3746 1728,3741M1722,3749 1726,3741M1711,3737 1713,3739M1729,3717 1731,3719M1743,3690 1751,3683M1728,3693 1724,3694M1729,3704 1725,3697M1719,3704 1721,3702 1722,3695M1716,3694 1733,3692M1718,3684 1724,3683M1719,3681 1727,3679M1726,3669 1731,3674M1739,3661 1740,3664M1743,3659 1745,3662M1757,3652 1765,3653M1770,3636 1770,3640M1781,3632 1784,3629M1781,3631 1783,3631 1788,3628M1780,3626 1785,3624 1793,3619M1760,3616 1761,3609 1764,3606M1747,3594 1749,3588 1757,3584M1745,3589 1752,3585 1757,3582M1744,3587 1748,3587 1751,3597M1740,3570 1746,3572M1738,3564 1744,3555M1748,3560 1745,3565 1736,3567M1775,3547 1776,3554 1779,3557M1785,3542 1789,3543 1792,3538M1789,3540 1800,3546M1790,3539 1791,3545 1788,3547M1793,3537 1793,3549 1787,3555M1798,3533 1799,3539 1803,3548M1800,3531 1805,3538M1803,3527 1811,3527M1806,3523 1816,3525 1821,3531M1807,3520 1795,3518M1803,3523 1796,3522 1790,3525M1797,3528 1787,3525 1782,3526M1780,3535 1780,3532 1776,3529M1776,3537 1779,3530M1764,3540 1762,3537M1743,3544 1742,3540 1743,3536M1738,3544 1740,3529M1721,3542 1722,3539 1731,3538M1719,3541 1726,3541 1734,3543M1717,3539 1726,3531M1707,3528 1712,3526 1715,3528M1706,3525 1713,3526M1703,3519 1708,3513 1712,3504M1694,3493 1703,3484 1703,3478M1566,3587 1560,3592M1582,3595 1581,3595M1612,3639 1606,3638M1603,3673 1604,3669M1566,3639 1562,3629M1562,3634 1568,3628M1620,3561 1616,3574 1608,3579M1627,3557 1629,3564M1622,3574 1626,3571 1627,3562M1618,3562 1627,3564M2847,3376 2849,3370 2841,3360M2856,3384 2854,3363 2849,3359M2859,3386 2865,3390M2858,3389 2867,3393M2857,3393 2860,3395M2849,3399 2848,3406 2851,3410M2846,3400 2848,3401 2850,3410M2842,3402 2840,3408M2837,3406 2845,3407M2836,3407 2844,3407M2837,3412 2845,3393M2843,3414 2846,3407M2847,3422 2858,3406M2848,3427 2852,3424 2858,3426M2845,3434 2848,3434M2839,3442 2842,3440 2852,3433M2878,3376 2873,3390M2873,3376 2871,3386M2865,3375 2866,3382 2875,3387M2860,3375 2864,3380M2848,3375 2851,3378M2808,3522 2808,3520M2819,3519 2822,3527M2817,3524 2826,3534M2813,3532 2823,3537 2830,3543M2804,3554 2810,3546M2848,3519 2848,3532M2842,3520 2843,3524 2841,3533M2801,3528 2801,3541M2791,3530 2794,3533 2802,3534M1989,2302 1987,2301 1984,2299M1886,2229 1888,2228M1867,2238 1867,2241 1868,2244M1863,2250 1865,2251M2210,2202 2211,2206 2212,2209M2222,2227 2214,2219 2210,2219M2220,2237 2217,2234M2219,2241 2217,2237M2213,2245 2204,2236 2201,2230M2206,2244 2213,2244 2218,2241M1789,2288 1790,2295M1411,2352 1409,2356 1408,2362M1420,2368 1416,2369M1572,2510 1571,2513M1607,2491 1607,2493M1608,2496 1606,2497M1604,2552 1601,2554 1597,2553M1603,2556 1597,2549 1593,2550M1601,2561 1599,2562M1589,2551 1583,2550 1578,2548M1573,2550 1576,2550 1580,2550M1569,2545 1570,2542 1570,2538M1615,2536 1614,2540M1646,2537 1647,2539M1655,2539 1656,2541M1666,2546 1663,2550M1668,2556 1666,2557 1664,2561M1678,2565 1677,2562 1674,2557M1675,2574 1674,2572M1658,2585 1656,2584 1651,2586M1636,2590 1637,2587M1622,2586 1621,2580M1619,2556 1624,2551M1619,2553 1622,2555M1658,2593 1657,2596 1659,2599M1692,2599 1687,2597 1686,2593M1688,2616 1686,2612M1674,2643 1672,2638M1647,2623 1649,2620M1686,2559 1686,2561M1697,2567 1694,2561 1691,2559M1695,2567 1694,2564M1690,2569 1689,2567M1530,2516 1522,2522 1517,2523M1646,2435 1645,2437 1644,2439M1636,2446 1639,2445M1627,2401 1625,2405 1622,2409M1636,2397 1637,2398M1654,2392 1650,2386M1636,2425 1632,2422M1802,2386 1803,2393M2403,2279 2398,2277M2146,2854 2148,2857 2156,2861M2158,2853 2156,2856 2158,2860M2163,2854 2157,2860 2153,2862M2166,2854 2166,2856 2171,2864M2179,2853 2177,2858M2184,2857 2181,2858M2188,2858 2182,2866M2194,2861 2190,2865 2190,2869M2196,2865 2182,2869M2197,2869 2194,2870M2194,2878 2184,2875 2178,2875M2197,2894 2195,2887 2187,2883M2195,2897 2184,2891 2184,2885M2194,2901 2192,2900 2187,2897M2192,2903 2191,2897M2186,2909 2188,2904 2189,2897M2184,2905 2186,2905M2182,2901 2176,2901M2184,2907 2182,2908 2181,2913M2186,2910 2184,2909M2184,2917 2182,2916 2176,2914M2184,2917 2184,2916M2181,2921 2180,2907 2179,2900M2171,2917 2173,2913M2153,2914 2153,2905M2153,2913 2155,2913M2157,2908 2160,2912M2159,2906 2157,2898M2146,2898 2146,2897M2143,2897 2139,2890 2135,2889M2146,2888 2147,2884 2153,2878M2140,2884 2139,2882 2136,2878M2142,2878 2148,2880 2156,2878M2143,2870 2144,2868 2141,2861M2142,2868 2146,2868M2228,2874 2226,2881M2237,2886 2234,2889M2244,2889 2254,2893M2249,2891 2244,2890 2239,2896M2252,2891 2254,2893 2256,2896M2260,2888 2261,2892M2277,2889 2271,2904M2298,2889 2298,2897M2308,2888 2301,2896 2293,2896M2311,2888 2310,2895M2322,2887 2324,2890 2325,2893M2324,2888 2323,2890M2341,2885 2346,2890M2329,2904 2326,2898 2322,2896M2321,2918 2316,2914 2315,2908M2320,2921 2309,2910 2304,2907M2310,2928 2307,2926 2300,2922M2298,2929 2297,2927 2295,2919M2293,2933 2291,2929 2290,2924M2286,2936 2286,2933 2288,2931M2283,2938 2282,2930M2263,2919 2262,2907M2258,2917 2269,2918 2276,2924M2249,2912 2248,2910M2248,2921 2248,2923M2252,2932 2243,2935M2258,2935 2245,2940M2262,2937 2262,2943 2262,2951M2272,2939 2274,2943 2274,2946M2268,2951 2264,2948 2258,2944M2256,2958 2252,2952 2247,2949M2250,2965 2241,2960M2245,2970 2236,2969 2235,2965M2243,2970 2241,2965 2235,2960M2232,2967 2233,2963 2237,2960M2224,2975 2223,2972 2217,2969M2220,2977 2215,2974 2211,2977M2216,2979 2214,2971 2210,2969M2204,2985 2194,2978M2201,2978 2205,2976M2205,2973 2204,2965 2204,2957M2195,2966 2197,2967M2193,2960 2199,2962 2204,2965M2204,2957 2205,2963 2201,2968M2203,2954 2205,2941 2201,2933M2197,2952 2196,2948M2201,2945 2208,2948M2202,2945 2206,2945M2208,2940 2212,2942M2209,2940 2208,2947 2215,2951M2216,2934 2217,2941M2221,2931 2224,2935 2227,2942M2222,2930 2224,2936 2232,2939M2229,2925 2236,2928 2238,2934M2230,2923 2229,2922 2222,2921M2224,2925 2219,2920 2213,2916M2222,2926 2218,2922M2210,2930 2207,2924M2190,2939 2189,2934M2183,2932 2187,2933M2186,2928 2190,2934M2188,2924 2196,2931M2192,2919 2199,2919M2210,2907 2216,2908M2213,2903 2217,2908 2216,2913M2217,2894 2219,2895 2222,2894M2219,2891 2221,2894M2253,2834 2254,2838 2256,2842M2258,2830 2257,2834 2256,2841M2266,2828 2267,2832 2273,2837M2269,2828 2266,2830M2273,2830 2274,2834M2278,2832 2274,2834 2270,2831M2281,2833 2283,2836M2288,2835 2284,2830M2279,2840 2274,2837M2276,2846 2274,2846 2273,2848M2280,2849 2277,2856 2277,2865M2284,2854 2273,2857 2269,2856M2283,2857 2280,2851M2263,2856 2263,2849 2270,2845M2260,2860 2249,2865M2248,2863 2251,2860 2256,2853M2245,2859 2250,2858M2230,2869 2232,2871 2237,2875M2242,2862 2244,2867 2250,2871M2243,2862 2246,2878 2252,2879M2246,2865 2238,2867 2229,2868M2249,2868 2248,2866M2244,2874 2241,2873 2238,2871M2248,2976 2251,2981 2248,2988M2253,2971 2262,2971M2257,2968 2266,2972 2269,2974M2261,2964 2262,2968 2271,2970M2267,2960 2268,2964 2272,2973M2271,2961 2267,2956 2260,2954M2269,2964 2268,2962 2262,2962M2249,2977 2241,2969 2235,2962M2246,2978 2246,2975 2249,2973M1896,2668 1897,2668M1915,2670 1912,2670M1904,2678 1903,2676M1900,2681 1898,2678 1898,2675M1894,2681 1897,2681 1901,2680M1932,2664 1932,2668M1941,2665 1941,2668 1945,2669M1944,2674 1942,2674M1933,2685 1934,2682 1938,2681M1969,2675 1964,2674 1961,2671M1958,2683 1957,2680M1953,2676 1956,2676M1978,2671 1971,2669 1967,2670M1947,2690 1947,2692M1956,2691 1955,2694M1965,2696 1961,2694 1959,2691M1958,2714 1961,2713M1929,2721 1931,2717 1935,2716M1929,2710 1931,2712 1934,2716M1931,2707 1932,2708M1980,2690 1987,2692M1982,2689 1982,2692 1983,2696M1986,2686 1988,2687 1991,2686M1988,2703 1987,2699 1989,2697M1995,2718 1996,2722 1997,2725M2003,2715 2004,2718M2015,2717 2012,2720 2008,2719M2017,2717 2016,2718 2012,2720M2033,2725 2032,2727 2033,2730M1992,2722 1996,2720 1999,2723M2035,2743 2033,2744 2029,2743M2008,2735 2010,2734M2026,2698 2022,2699M2026,2700 2024,2699M2023,2709 2021,2709 2020,2712M2018,2704 2021,2701M2016,2692 2020,2692 2023,2692M2023,2713 2022,2715M2036,2718 2030,2719 2028,2716M2037,2726 2039,2723M1892,2714 1893,2715M1921,2728 1918,2732M1920,2731 1918,2730 1914,2731M1916,2733 1916,2728 1916,2725M1914,2731 1919,2730 1923,2732M1943,2455 1946,2457 1951,2463M1953,2447 1958,2448 1959,2452M1965,2443 1963,2448M1974,2442 1980,2447M1985,2442 1987,2448 1990,2452M1986,2442 1987,2445M1997,2441 1994,2445 1987,2445M2016,2439 2015,2442 2015,2445M2025,2440 2026,2443M2042,2439 2044,2440M2066,2432 2069,2434M2069,2431 2068,2435M2080,2425 2080,2428M2085,2422 2086,2428M2104,2415 2110,2418M2106,2414 2109,2418M2115,2410 2115,2412 2116,2417M2131,2400 2132,2401 2139,2401M2146,2391 2153,2393M2152,2388 2156,2390 2158,2388M2174,2378 2176,2379M2186,2369 2188,2372M2190,2366 2195,2367 2203,2367M2206,2352 2210,2355M2216,2338 2220,2347 2222,2351M2219,2332 2225,2328M2220,2327 2224,2327M2222,2318 2229,2321M2223,2311 2231,2308 2235,2306M2225,2294 2229,2298 2232,2303M2224,2286 2226,2287 2231,2287M2222,2275 2227,2273M2221,2271 2224,2271 2228,2266M2221,2267 2225,2269 2229,2264M2230,2264 2228,2267M2233,2267 2227,2268 2220,2267M2236,2271 2235,2275 2240,2280M2246,2281 2243,2283M2248,2283 2246,2283M2258,2288 2254,2288M2258,2291 2250,2284M2266,2302 2259,2304 2255,2302M2273,2311 2270,2314 2266,2314M2274,2316 2274,2312 2276,2305M2268,2324 2266,2323M2275,2333 2271,2337M2271,2345 2271,2341M2273,2354 2266,2355M2269,2372 2265,2361 2268,2354M2266,2374 2266,2368M2253,2379 2263,2379M2241,2380 2238,2379M2237,2382 2236,2379M2233,2390 2229,2392M2230,2396 2224,2399M2216,2401 2210,2397M2194,2408 2194,2405 2192,2401M2187,2410 2188,2407 2185,2403M2182,2416 2174,2410M2182,2422 2178,2418 2177,2413M2182,2426 2179,2427M2176,2428 2179,2423M2163,2432 2164,2427 2172,2425M2151,2442 2148,2439 2148,2436M2147,2444 2138,2442M2140,2447 2138,2441M2109,2469 2109,2460M2070,2475 2070,2471 2067,2469M2062,2476 2060,2468 2064,2463M2056,2477 2059,2472 2065,2473M2050,2479 2048,2476 2051,2469M2045,2480 2044,2474 2042,2472M2023,2474 2030,2469M2016,2472 2016,2471 2023,2467M2014,2472 2015,2469 2016,2464M1983,2468 1984,2463M1964,2481 1956,2476M1958,2483 1959,2480M1946,2480 1951,2475M1940,2464 1945,2463" fill="none" stroke="#000" stroke-width="2.2" stroke-linejoin="round"/><path d="M812.9,3867.3 814.9,3870.5 811.8,3870.5ZM910.4,3957.5 910.1,3965.0 903.7,3959.4ZM927.2,2412.6 927.2,2411.1 929.5,2411.9ZM1899.1,4000.1 1896.4,3995.7 1901.5,3995.1ZM2583.7,2379.1 2585.0,2378.2 2585.3,2380.3ZM805.4,2588.4 803.5,2592.1 801.8,2588.6ZM1246.4,3830.4 1247.1,3831.5 1246.2,3833.0 1245.1,3831.3ZM626.3,2751.2 629.0,2751.1 627.1,2752.8ZM1427.2,2104.5 1422.1,2105.4 1423.1,2101.3ZM2748.4,2589.9 2744.6,2591.8 2741.7,2588.1 2746.3,2585.8ZM2628.9,2346.5 2622.2,2342.4 2629.1,2340.9ZM1761.1,3830.2 1766.1,3827.1 1765.8,3835.8ZM803.9,2703.3 799.4,2700.3 804.6,2697.8ZM1755.4,4252.5 1757.6,4256.6 1752.0,4256.0ZM759.1,2660.9 758.4,2659.3 760.1,2658.2 760.8,2660.5ZM2663.4,2583.7 2660.7,2588.4 2659.4,2583.3ZM2650.1,2408.0 2644.2,2409.5 2645.9,2405.6ZM1104.8,2182.6 1109.2,2180.3 1112.5,2184.0 1107.6,2187.5ZM1473.7,4229.5 1475.6,4233.1 1472.6,4234.7 1470.6,4231.8ZM2667.5,2659.8 2667.1,2664.7 2660.8,2661.6ZM1690.8,4154.0 1695.3,4156.6 1690.9,4158.3ZM757.4,2678.3 759.0,2676.3 761.6,2677.7 759.9,2680.1ZM844.1,3809.0 845.3,3811.4 841.9,3811.3ZM2626.8,2569.0 2629.5,2571.7 2625.7,2572.8 2622.5,2570.7ZM1099.1,4087.7 1098.9,4090.2 1096.8,4089.4ZM2613.1,2456.3 2614.7,2451.5 2616.9,2455.8ZM1017.4,3892.6 1019.5,3896.7 1017.5,3898.6 1013.4,3896.8ZM674.5,2790.3 678.2,2786.0 680.4,2790.1 678.3,2794.3ZM1180.5,4123.8 1180.9,4126.0 1178.6,4124.8ZM973.1,3810.7 978.2,3810.3 975.0,3816.0ZM952.6,2432.7 954.6,2436.2 951.5,2436.8ZM726.5,2522.6 730.0,2515.7 733.6,2522.0ZM1621.4,4006.1 1617.4,4005.7 1620.0,4002.1ZM1339.6,3936.8 1338.5,3932.0 1342.4,3931.9 1343.5,3935.6ZM692.4,3010.0 691.6,3007.1 694.3,3006.3 695.3,3008.5ZM821.1,2596.8 818.5,2596.9 819.8,2593.9ZM916.7,2421.9 918.6,2417.2 922.0,2421.9ZM2689.2,2556.6 2689.8,2560.7 2685.4,2561.1 2685.8,2557.0ZM1889.7,3990.5 1895.0,3986.4 1897.6,3992.9ZM833.7,2650.7 837.7,2645.4 838.2,2651.5ZM1640.9,4092.3 1638.8,4099.3 1633.7,4093.8ZM2129.3,1968.8 2128.8,1973.3 2126.7,1969.7ZM1301.4,3776.3 1299.6,3771.2 1302.6,3767.6 1304.7,3773.0ZM1016.1,3931.2 1019.2,3934.9 1014.6,3936.9ZM1658.4,3914.1 1661.7,3915.7 1658.0,3919.1ZM690.6,2603.2 692.7,2601.3 693.5,2603.9ZM880.9,2570.0 879.4,2570.7 878.7,2569.2 880.6,2567.9ZM1549.5,3919.9 1553.8,3914.4 1556.3,3920.2ZM969.7,2374.3 968.0,2376.1 965.5,2375.2 966.8,2372.3ZM1718.5,2053.5 1720.8,2054.6 1718.0,2055.2ZM1557.6,3919.9 1558.0,3925.0 1552.3,3923.0ZM745.8,3687.0 741.8,3683.5 746.9,3679.9 749.4,3685.1ZM1836.7,2042.3 1834.3,2043.5 1835.0,2041.1ZM1554.8,4118.0 1555.1,4113.9 1557.8,4116.4ZM1465.1,4194.6 1466.7,4192.7 1468.8,4194.8ZM2610.1,2576.9 2613.6,2578.5 2610.8,2581.1 2607.9,2579.3ZM2615.2,2552.8 2610.6,2553.9 2612.4,2548.1ZM827.4,2690.6 824.0,2693.3 823.5,2689.3ZM714.1,2528.1 710.2,2533.1 707.5,2527.6ZM962.9,2494.0 961.3,2493.5 962.3,2491.5ZM2552.3,2423.2 2553.1,2417.0 2558.0,2421.1ZM1079.7,3867.0 1081.2,3869.3 1078.0,3869.1ZM1173.4,4148.9 1176.0,4144.0 1177.7,4148.6ZM1692.1,4234.0 1691.1,4231.4 1694.8,4230.4 1694.9,4233.3ZM684.6,2801.1 684.1,2798.6 686.9,2799.5ZM1109.2,4011.9 1111.5,4007.7 1113.2,4013.1ZM1297.6,4010.9 1302.4,4013.4 1297.8,4016.7ZM1213.4,4038.3 1216.4,4039.4 1215.3,4041.7 1212.6,4041.6ZM1601.9,4269.5 1602.1,4265.4 1606.1,4268.5ZM1159.6,4103.6 1163.4,4103.9 1161.6,4107.2ZM1637.3,4196.3 1637.9,4192.9 1641.4,4192.6 1641.4,4196.1ZM858.4,2434.9 857.0,2432.0 859.7,2431.9ZM754.8,3621.1 756.5,3625.1 753.4,3627.8 750.3,3623.8ZM1000.2,3990.8 1003.7,3990.3 1004.3,3993.4 1001.4,3994.6ZM1304.2,3812.4 1298.7,3815.3 1297.9,3810.0ZM1432.2,4169.8 1429.2,4174.2 1425.6,4169.3ZM750.3,2671.5 752.8,2667.9 755.3,2670.8 753.8,2674.7ZM1549.2,3931.7 1548.5,3935.3 1544.8,3935.9 1543.9,3931.5ZM2006.1,2185.8 2003.8,2186.4 2004.6,2183.6ZM851.1,2587.0 850.7,2582.7 856.0,2582.9 857.9,2587.0ZM791.9,3419.7 789.4,3418.0 792.0,3416.3ZM685.6,2661.9 687.9,2660.1 688.9,2662.2ZM895.6,3918.5 891.3,3914.0 895.1,3911.2 898.6,3913.6ZM880.9,3825.4 881.9,3827.2 880.5,3827.6ZM841.8,2407.0 848.5,2407.4 845.1,2413.6ZM1708.9,4254.8 1706.1,4257.5 1705.2,4253.6ZM770.4,2486.8 772.4,2486.0 772.5,2488.8ZM886.6,2394.4 888.5,2395.5 886.6,2397.3ZM1457.0,4212.6 1461.1,4216.2 1456.4,4219.4ZM766.5,2605.4 763.8,2608.7 759.3,2607.0 762.0,2602.9ZM766.1,3688.3 762.6,3688.7 762.6,3686.0 764.9,3686.3ZM875.8,2593.1 874.1,2594.5 873.9,2592.5ZM847.6,2439.2 851.6,2438.0 853.3,2440.9 849.5,2442.9ZM1004.4,3924.1 1009.0,3924.8 1004.2,3928.1ZM794.3,3502.9 799.9,3503.8 797.6,3508.2ZM1254.2,3970.6 1256.0,3966.1 1261.7,3967.4 1259.6,3972.6ZM1654.0,4272.5 1652.9,4270.9 1654.7,4271.0ZM1218.7,4082.3 1213.6,4082.3 1213.0,4079.1 1217.5,4078.0ZM926.7,2613.0 931.3,2611.1 931.4,2615.4ZM742.1,2637.4 740.9,2641.1 736.4,2639.9 738.4,2636.2ZM665.1,2596.0 669.4,2600.6 661.3,2600.0ZM1681.6,4137.5 1684.4,4134.3 1686.6,4137.2ZM967.0,3916.7 967.2,3914.7 968.5,3915.4 968.4,3917.1ZM793.3,2570.1 795.0,2571.4 793.2,2572.7 791.3,2571.4ZM825.1,3797.3 822.8,3798.7 822.3,3795.1 824.4,3795.2ZM843.5,2413.0 843.3,2410.7 845.5,2411.7ZM1750.4,1947.4 1744.3,1947.0 1747.5,1942.9ZM830.7,2641.0 828.4,2646.1 825.1,2642.8 826.6,2637.5ZM1760.1,3976.4 1756.6,3981.5 1754.0,3976.8ZM1616.6,4202.9 1613.1,4202.8 1614.5,4199.5ZM2573.0,2388.8 2576.8,2392.8 2571.2,2394.1ZM1710.1,4268.7 1710.1,4264.5 1714.7,4266.8ZM946.1,3899.9 949.5,3899.0 950.2,3901.8 946.9,3902.2ZM1279.0,3764.5 1281.7,3763.3 1281.5,3767.0ZM560.3,2893.7 556.8,2894.7 557.4,2891.7ZM1678.2,4221.2 1679.7,4222.4 1678.3,4223.8ZM662.2,2610.6 665.7,2604.4 667.6,2613.6ZM922.1,2430.6 924.7,2429.9 924.6,2432.4ZM1964.7,4032.4 1967.3,4030.2 1967.4,4033.3ZM923.7,2437.1 927.9,2436.1 928.4,2442.5 923.7,2442.3ZM1089.7,3870.8 1086.5,3874.4 1085.2,3869.5ZM2686.7,2695.8 2689.2,2700.4 2684.0,2700.0ZM836.5,3583.7 836.0,3585.4 834.5,3584.9 834.7,3583.4ZM680.1,2631.4 680.1,2633.6 678.2,2634.1 676.8,2630.9ZM2650.8,2537.6 2650.9,2535.2 2652.7,2534.7 2652.5,2537.1ZM869.0,2514.1 866.3,2509.5 871.0,2507.7ZM2696.0,2493.4 2695.7,2486.6 2700.5,2484.6 2703.3,2490.3ZM745.8,3506.7 749.6,3504.3 749.7,3508.4ZM763.4,2621.5 763.6,2624.7 760.8,2623.5ZM1342.7,4199.4 1340.4,4195.5 1345.8,4195.1ZM2579.9,2435.0 2578.2,2439.8 2573.7,2436.2ZM1275.1,3984.1 1270.2,3984.9 1269.7,3978.9 1274.5,3980.0ZM2801.5,2646.1 2800.2,2644.2 2802.0,2643.5ZM835.7,2636.2 840.2,2632.8 842.3,2637.6 838.4,2639.4ZM911.8,2523.7 912.8,2528.0 909.0,2527.8ZM1223.9,4098.6 1224.0,4100.5 1221.7,4099.5ZM944.9,2339.7 950.7,2334.8 954.4,2340.4 949.9,2343.2ZM1300.4,3848.9 1304.8,3843.6 1309.8,3846.4 1307.3,3852.0ZM1330.5,3911.8 1324.9,3916.4 1323.7,3910.1ZM1207.9,4060.8 1211.5,4057.0 1215.1,4060.2ZM957.7,3978.1 958.9,3976.2 961.3,3976.9 960.1,3979.2ZM1668.7,2088.5 1666.6,2086.6 1669.5,2085.7ZM790.2,3440.2 787.6,3445.5 784.5,3441.4ZM799.7,2399.0 797.7,2399.7 796.6,2398.0 798.8,2397.0ZM1653.6,4169.0 1657.0,4164.9 1660.8,4169.3 1656.6,4171.6ZM2639.8,2596.9 2637.5,2596.1 2639.3,2594.3ZM690.3,2725.2 688.5,2722.5 692.2,2721.8ZM1567.5,4268.3 1570.3,4266.3 1570.4,4270.4ZM2712.5,2700.4 2708.9,2700.0 2710.8,2698.0ZM983.4,2524.4 987.4,2525.8 983.8,2527.9ZM1348.6,4032.8 1347.0,4031.4 1348.6,4030.4ZM2047.0,4104.8 2045.6,4108.2 2041.7,4106.5 2042.9,4103.5ZM905.6,2419.9 910.0,2423.9 906.6,2427.3 901.6,2425.3ZM764.7,2502.0 762.3,2502.8 762.3,2499.7 764.7,2499.4ZM784.2,2428.3 775.7,2428.0 780.2,2423.4ZM1160.9,4068.9 1158.8,4071.5 1156.6,4068.7 1159.0,4065.1ZM729.8,2624.3 729.1,2621.4 731.8,2622.5ZM2634.5,2371.9 2633.1,2369.4 2636.3,2369.7ZM1420.8,4042.4 1418.0,4044.5 1418.5,4039.5ZM1009.5,4008.7 1007.0,4012.4 1004.3,4008.3ZM2677.3,2620.0 2674.0,2614.6 2680.5,2613.4ZM1072.6,3965.4 1068.7,3965.6 1070.4,3962.3ZM720.5,2732.8 717.8,2731.9 720.0,2730.1ZM833.1,2356.1 839.4,2358.0 834.5,2362.0ZM1288.2,4004.1 1290.9,4002.5 1290.6,4006.0ZM1179.3,4066.3 1183.4,4063.0 1184.8,4067.5 1182.1,4070.6ZM818.3,3860.5 823.3,3863.1 820.3,3867.5 815.0,3864.7ZM1500.1,4246.3 1498.5,4248.7 1498.0,4246.5ZM829.0,2622.3 822.2,2624.8 824.1,2619.5ZM804.3,2509.0 805.8,2504.8 812.3,2505.1 810.5,2509.9ZM1987.5,3999.4 1988.3,3997.1 1989.2,3999.3ZM1697.6,4245.8 1694.4,4244.7 1694.5,4241.3 1698.3,4240.6ZM867.6,2461.2 867.4,2455.8 871.5,2458.1ZM995.3,2390.3 999.2,2396.1 994.2,2398.8 991.8,2394.9ZM1618.2,4181.9 1619.4,4178.8 1620.3,4181.3ZM1407.0,3902.9 1407.1,3898.6 1410.5,3901.2ZM734.7,2501.3 730.5,2504.9 730.2,2499.3ZM2056.2,2041.2 2058.0,2040.4 2057.4,2042.3ZM1114.0,3926.4 1116.1,3926.9 1115.4,3928.1 1114.1,3928.5ZM821.8,2719.1 827.7,2717.0 826.2,2722.4ZM1111.4,2181.6 1113.5,2187.0 1110.7,2190.7 1108.6,2186.0ZM1657.2,4172.7 1657.3,4177.6 1651.6,4174.5ZM961.3,2525.6 961.4,2527.5 959.0,2526.7ZM1993.2,1945.6 1996.2,1944.8 1997.5,1948.2 1994.6,1949.0ZM729.9,2596.8 727.3,2600.1 726.5,2595.4ZM803.4,2538.8 804.7,2542.6 801.3,2541.2ZM1746.5,3997.6 1748.0,3994.2 1749.7,3997.2ZM1195.7,4038.2 1199.4,4036.5 1199.9,4039.2ZM1449.2,4233.4 1449.3,4237.2 1446.8,4234.8ZM1400.2,4179.8 1398.0,4173.9 1403.0,4174.4ZM1970.8,4140.0 1970.1,4137.3 1972.0,4138.3ZM1774.7,1883.8 1780.4,1885.3 1775.9,1891.1ZM1644.6,4238.9 1641.7,4236.5 1645.3,4235.6ZM800.9,2685.7 806.4,2687.0 802.6,2691.4ZM772.7,3602.5 774.1,3605.8 771.3,3605.3ZM1035.7,3916.4 1039.9,3914.2 1039.7,3917.9ZM790.7,2504.0 798.7,2506.1 792.2,2510.4ZM1215.4,4056.1 1217.7,4059.4 1214.3,4059.8ZM1495.0,4202.6 1493.0,4202.4 1494.2,4200.3ZM807.6,2465.4 805.0,2459.5 811.5,2461.1ZM973.7,2483.1 972.3,2480.4 974.3,2478.3 976.2,2480.8ZM976.4,3920.5 974.0,3917.7 976.8,3916.3ZM1025.8,2429.4 1021.2,2430.8 1021.9,2425.9 1025.5,2426.6ZM1130.7,4043.0 1127.9,4044.7 1128.0,4039.7ZM618.9,2723.6 621.3,2721.3 622.1,2724.0ZM1039.0,3915.3 1034.0,3918.1 1034.5,3912.3ZM841.1,3904.1 842.1,3908.3 837.7,3906.2ZM1004.9,2416.1 1000.0,2417.6 1000.4,2413.3ZM910.3,3919.7 908.0,3919.8 908.1,3917.8 909.4,3918.0ZM914.2,2588.8 908.0,2587.5 912.3,2583.1ZM1443.4,4161.2 1440.0,4157.5 1446.0,4157.2ZM1608.0,1931.2 1606.9,1929.5 1609.4,1929.7ZM1526.2,2310.8 1531.1,2312.4 1527.9,2315.4ZM831.6,2411.9 832.5,2414.5 829.7,2413.7ZM2670.4,2489.5 2672.4,2491.4 2669.5,2491.8ZM722.8,2782.2 719.9,2781.0 722.8,2778.4ZM1665.2,4061.7 1665.2,4059.6 1668.1,4059.9 1667.2,4062.5ZM961.8,3874.6 956.9,3877.8 954.9,3871.9 960.9,3869.1ZM1230.0,4172.3 1231.6,4175.8 1228.6,4175.6ZM822.7,2680.0 818.5,2675.3 823.7,2675.0ZM1036.8,4072.9 1040.8,4071.4 1040.4,4076.2ZM723.1,3404.5 724.0,3401.3 727.2,3402.9ZM1738.2,4225.1 1737.3,4228.4 1734.9,4226.3ZM691.5,2616.1 693.6,2620.7 687.0,2621.2 686.9,2616.1ZM885.2,2415.2 884.5,2419.8 881.1,2417.0ZM648.2,2724.8 647.3,2722.1 649.4,2723.0ZM902.5,3735.1 899.3,3734.3 901.3,3730.0ZM1449.0,4203.6 1449.0,4200.9 1451.4,4200.7 1451.3,4203.3ZM1656.2,4176.8 1652.6,4173.4 1658.0,4173.3ZM965.3,2519.9 965.9,2522.0 963.8,2521.7ZM1650.5,1916.7 1653.2,1920.7 1649.6,1923.7 1647.9,1920.1ZM957.9,2463.7 962.9,2464.8 961.0,2468.9 956.1,2468.1ZM1203.8,4045.6 1201.7,4037.2 1208.4,4040.1ZM1073.1,3943.4 1075.4,3943.2 1075.6,3945.0 1074.1,3944.8ZM1565.1,4163.6 1567.5,4162.8 1567.0,4164.7ZM694.2,2783.7 692.5,2791.4 687.3,2785.9ZM826.4,2692.8 828.1,2696.5 825.2,2699.9 822.7,2695.5ZM900.6,3932.0 895.5,3934.0 895.0,3928.8 898.9,3927.2ZM1075.9,4100.2 1072.9,4095.4 1078.6,4095.0ZM785.8,2678.2 789.1,2680.6 785.6,2683.1ZM729.9,2600.6 732.5,2600.7 731.1,2602.4ZM939.8,3920.1 944.5,3921.0 942.1,3923.7ZM1035.3,3957.4 1036.0,3955.6 1037.2,3957.3ZM2582.7,2516.4 2586.2,2518.1 2582.8,2522.1ZM1108.6,3922.2 1106.6,3922.9 1106.2,3921.5 1107.6,3920.6ZM1285.3,4185.5 1285.2,4180.5 1290.2,4182.8ZM1062.7,3961.4 1064.1,3963.3 1061.9,3964.2ZM797.8,2664.1 795.5,2665.8 795.2,2663.6ZM944.8,3834.0 949.6,3832.3 948.8,3835.7ZM1013.9,3850.1 1016.4,3851.4 1014.6,3853.3ZM1023.4,3870.2 1023.0,3867.7 1025.7,3867.6 1025.4,3870.3ZM1319.0,4003.7 1314.2,4002.9 1318.0,3998.8ZM928.3,2347.6 925.4,2349.9 924.1,2346.0 927.0,2343.0ZM1632.8,3991.7 1634.2,3987.0 1636.6,3991.0ZM2567.1,2434.4 2574.3,2431.7 2572.5,2438.7ZM1083.9,4099.0 1086.6,4099.6 1084.9,4100.8ZM705.9,3435.9 708.7,3439.8 703.5,3439.9ZM985.5,3827.3 984.7,3829.3 982.3,3827.6ZM1389.5,4023.3 1390.9,4023.2 1390.5,4025.2ZM686.0,2852.8 691.9,2850.1 695.9,2855.5 689.5,2856.8ZM903.4,2594.4 900.4,2591.6 903.6,2590.0 906.0,2591.8ZM851.5,2632.7 851.5,2629.1 855.3,2631.6ZM641.9,2713.5 640.3,2712.7 641.7,2711.1ZM1487.4,2172.2 1483.8,2175.1 1483.1,2171.3ZM1009.8,3922.8 1010.6,3918.7 1015.4,3918.6 1016.1,3923.5ZM1637.9,4104.4 1642.8,4099.4 1644.4,4105.2ZM896.4,3698.5 898.2,3696.0 899.1,3699.1ZM661.7,2697.4 655.1,2691.2 662.7,2690.3ZM936.0,3929.1 933.1,3929.2 932.6,3925.5 937.5,3926.0ZM1344.9,4018.0 1349.9,4016.4 1348.6,4022.0ZM723.8,2795.6 723.4,2797.8 720.6,2796.7 721.3,2794.4ZM1821.0,3827.7 1817.8,3828.5 1818.7,3825.9ZM628.1,2757.0 626.0,2759.1 624.4,2756.1 626.7,2754.4ZM1736.8,4238.4 1741.5,4240.5 1737.4,4244.9 1733.6,4241.0ZM1894.2,3898.7 1897.0,3902.8 1892.8,3903.2ZM863.0,3896.4 863.7,3899.7 861.2,3901.8 859.6,3898.5ZM1492.5,4211.5 1485.8,4212.1 1488.1,4206.4ZM844.1,2549.7 845.5,2548.5 846.4,2549.6 845.5,2551.0ZM1650.6,4119.6 1643.4,4121.9 1645.7,4116.4ZM821.4,2545.3 825.6,2540.9 826.1,2547.3ZM633.3,3479.1 634.4,3476.2 637.0,3476.8 636.5,3479.7ZM806.5,2595.2 800.6,2590.9 807.6,2588.7ZM1202.6,4022.9 1198.4,4019.0 1204.3,4019.0ZM623.8,2897.2 622.6,2903.1 618.7,2902.7 619.1,2898.6ZM1037.2,3954.5 1030.4,3953.2 1035.4,3947.8ZM630.0,2784.3 631.7,2785.9 628.8,2786.4ZM849.0,3917.6 854.0,3911.9 856.0,3920.7ZM981.4,2550.7 982.8,2553.2 980.0,2553.1ZM867.3,2593.3 866.9,2598.4 863.0,2595.0ZM1868.3,3904.5 1870.9,3899.2 1872.0,3905.6ZM2792.3,2583.9 2794.1,2587.7 2790.4,2588.8 2787.7,2585.7ZM1721.5,4229.7 1719.2,4232.9 1716.7,4230.3ZM1930.2,4030.9 1927.1,4030.9 1927.5,4028.7 1930.2,4027.9ZM752.3,2661.2 752.3,2658.3 754.1,2658.4 754.6,2661.0ZM1925.7,4007.1 1922.5,4013.2 1917.1,4011.6 1918.5,4005.8ZM994.8,2536.3 995.6,2532.3 999.8,2534.7ZM1326.3,4025.9 1326.1,4030.8 1319.4,4029.2 1322.4,4023.4ZM965.0,2527.4 961.5,2530.0 960.2,2525.8ZM733.5,2474.9 738.5,2477.0 737.1,2480.8 732.2,2480.5ZM667.6,3629.1 662.9,3630.8 662.1,3625.6 665.3,3625.0ZM1453.2,4011.9 1452.8,4014.2 1450.1,4014.4 1450.1,4010.7ZM1256.1,4130.5 1252.3,4128.9 1254.1,4124.0 1259.0,4127.7ZM1283.8,4122.2 1287.8,4124.9 1285.3,4128.0 1281.4,4126.7ZM1245.3,2117.2 1247.8,2120.2 1243.5,2121.5ZM827.7,3847.6 830.1,3847.3 828.8,3849.0ZM1000.5,3998.9 1001.7,3994.5 1005.3,3995.8 1005.9,4000.5ZM1021.6,2429.4 1018.6,2430.0 1017.5,2427.5 1020.5,2426.4ZM667.3,2767.2 663.5,2772.0 661.1,2765.6ZM2561.6,2411.8 2561.2,2410.0 2562.6,2410.3ZM998.2,2475.0 994.9,2476.8 993.7,2472.7 997.0,2471.7ZM904.3,2574.8 898.1,2573.1 904.0,2570.4ZM1991.8,4061.9 1993.2,4063.5 1991.2,4064.5 1990.2,4062.7ZM1263.9,3829.1 1258.4,3832.5 1260.1,3824.0ZM1377.7,4187.1 1372.9,4186.6 1376.2,4182.4ZM1452.6,3949.7 1454.7,3951.6 1452.7,3952.5ZM2769.2,2632.5 2769.9,2628.7 2774.4,2630.7ZM1999.3,2191.1 1999.4,2193.0 1997.8,2193.3 1997.6,2191.2ZM2602.6,2604.4 2597.9,2603.0 2598.6,2598.3 2602.6,2599.8ZM930.6,2306.2 930.4,2313.6 925.9,2309.0ZM2636.9,2369.4 2630.9,2367.3 2635.7,2363.1ZM1360.1,3963.4 1360.6,3966.6 1357.3,3964.7ZM862.9,2447.0 866.9,2446.5 865.5,2450.6ZM1931.8,4009.7 1932.8,4008.0 1934.8,4008.8 1933.5,4010.7ZM2562.1,2247.9 2561.7,2243.8 2566.0,2245.4ZM1111.8,4039.2 1106.3,4036.0 1112.8,4032.4ZM1711.7,4204.8 1710.3,4202.5 1712.5,4202.1ZM1807.7,4090.2 1811.2,4087.6 1813.7,4090.6 1810.7,4094.3ZM1705.1,2251.6 1705.0,2248.2 1709.1,2246.7 1709.7,2252.2ZM1024.2,4013.9 1020.0,4013.5 1021.6,4009.5ZM932.7,2347.7 935.8,2348.0 936.9,2352.1 932.1,2352.5ZM1734.4,2112.4 1734.0,2108.4 1737.4,2110.6ZM1096.4,3903.7 1093.3,3903.0 1094.4,3899.4 1097.1,3901.3ZM731.8,2765.3 735.9,2765.7 734.9,2769.6 731.1,2768.7ZM1380.6,3965.8 1376.0,3964.4 1378.9,3961.1ZM710.5,2697.8 710.4,2695.0 712.3,2696.7ZM1102.4,3987.6 1107.7,3986.0 1107.4,3991.2ZM2689.0,2632.1 2693.3,2628.1 2694.5,2633.1ZM938.9,2516.0 944.7,2516.9 944.0,2522.6 937.9,2520.9ZM794.6,2515.3 796.4,2512.8 797.8,2516.3ZM851.9,2480.3 854.5,2474.1 857.8,2479.4ZM856.7,2326.9 853.6,2324.1 856.3,2321.7 860.3,2323.4ZM1182.0,3971.0 1185.4,3970.6 1187.5,3974.8 1182.6,3975.3ZM968.7,3894.3 969.2,3887.4 975.0,3890.9ZM888.1,2331.4 888.1,2324.6 893.4,2328.2ZM763.3,2484.9 763.0,2491.7 757.4,2488.2ZM1225.1,4121.9 1226.7,4119.6 1229.2,4121.6 1226.9,4123.6ZM1413.8,4050.0 1412.5,4047.7 1415.0,4048.3ZM1337.9,4035.8 1341.3,4036.4 1340.8,4040.6 1338.0,4038.9ZM665.4,2671.4 669.0,2677.2 661.8,2677.1ZM1248.9,2120.4 1249.8,2113.6 1254.7,2117.1ZM786.7,2543.3 783.1,2543.6 784.5,2538.5ZM888.2,3923.8 886.5,3923.7 887.0,3922.0 888.9,3922.1ZM723.3,2753.7 719.9,2759.9 718.5,2752.2ZM2625.6,2705.3 2621.0,2709.1 2619.7,2702.1ZM1660.8,4246.2 1663.1,4246.8 1662.5,4248.3 1661.1,4248.0ZM820.9,3559.1 822.7,3555.4 826.9,3558.2 823.6,3562.1ZM809.1,2438.5 814.7,2441.0 807.7,2442.5ZM1479.3,4208.9 1481.9,4203.7 1483.3,4208.8ZM898.6,2433.2 902.2,2432.3 903.2,2435.5 899.4,2435.7ZM960.3,2390.5 961.5,2387.4 964.2,2389.2 963.0,2391.4ZM1953.8,3993.9 1956.0,3991.2 1958.6,3993.4 1956.8,3995.7ZM830.7,2600.6 828.8,2593.7 836.3,2596.5ZM1273.0,4009.8 1269.8,4007.7 1273.2,4006.2ZM843.6,3809.1 839.2,3815.1 837.1,3806.3ZM765.4,2463.6 763.6,2457.8 767.9,2458.4ZM920.4,3938.4 923.5,3938.1 922.1,3941.3ZM1395.5,4186.3 1399.2,4185.9 1398.3,4189.7ZM1086.2,4058.6 1083.2,4054.5 1086.1,4049.6 1091.1,4054.4ZM656.4,3025.2 658.6,3028.5 656.7,3031.1 652.7,3028.7ZM957.1,3938.8 957.1,3947.2 951.0,3942.8ZM2722.8,2685.7 2719.5,2693.6 2715.1,2687.3ZM902.4,2283.1 897.6,2282.6 898.8,2277.9 903.1,2278.9ZM1101.1,3971.2 1099.7,3974.0 1096.8,3971.7ZM929.6,2381.6 931.6,2384.3 928.5,2384.3ZM1551.1,4196.0 1554.9,4199.3 1553.0,4204.9 1549.5,4201.8ZM1158.3,4121.6 1160.5,4117.1 1166.0,4120.2 1162.1,4125.2ZM1468.5,3950.9 1466.0,3951.0 1467.5,3948.9ZM765.8,2641.6 768.0,2645.6 764.4,2645.8ZM1273.9,4003.6 1276.3,4003.7 1275.6,4006.1ZM855.9,2579.6 855.2,2584.0 852.0,2581.1ZM909.5,2476.2 909.6,2473.9 911.6,2474.3 911.6,2476.5ZM2638.3,2494.3 2637.4,2496.2 2634.2,2495.7 2635.4,2493.8ZM835.7,2570.1 834.6,2572.9 833.2,2570.8ZM1661.4,4152.5 1662.1,4150.3 1663.7,4151.8ZM985.4,3903.8 987.7,3905.2 985.9,3908.1 983.8,3905.7ZM1057.3,3833.2 1064.1,3834.5 1059.0,3838.2ZM883.9,3918.0 881.1,3919.1 881.1,3916.5ZM972.5,3879.8 970.9,3882.8 967.6,3880.8ZM1462.5,3970.8 1463.9,3973.2 1461.5,3973.2ZM2763.1,2672.4 2759.0,2676.4 2757.8,2669.7ZM817.9,2669.7 820.3,2675.2 815.8,2679.4 814.3,2673.8ZM894.3,2565.0 888.4,2567.6 887.7,2563.0ZM1446.5,4075.9 1445.1,4066.8 1452.4,4070.7ZM795.3,2391.1 796.1,2384.5 802.8,2387.0ZM717.1,3430.4 715.3,3427.1 717.7,3426.5ZM948.3,2366.8 945.6,2365.1 948.9,2364.7ZM1003.5,3880.0 1009.4,3880.5 1006.9,3884.6ZM820.7,3846.2 820.3,3848.7 818.4,3847.0ZM958.3,3829.3 956.4,3830.5 956.4,3828.4ZM1084.0,4069.0 1089.9,4072.8 1084.5,4076.7 1078.7,4073.8Z" fill="#000" stroke="#000" stroke-width="1.2"/></g><g fill="none" stroke="#000" stroke-width="2.2"><circle cx="1706.2" cy="3079.4" r="493.1"/><circle cx="1706.2" cy="3079.4" r="246.1"/><line x1="1706.2" y1="3079.4" x2="2904.2" y2="3079.4"/><line x1="1919.3" y1="2956.4" x2="2743.7" y2="2480.4"/><line x1="1829.2" y1="2866.3" x2="2305.2" y2="2041.9"/><line x1="1706.2" y1="3079.4" x2="1706.2" y2="1881.4"/><line x1="1583.2" y1="2866.3" x2="1107.2" y2="2041.9"/><line x1="1493.1" y1="2956.4" x2="668.7" y2="2480.4"/><line x1="1706.2" y1="3079.4" x2="508.2" y2="3079.4"/><line x1="1493.1" y1="3202.4" x2="668.7" y2="3678.4"/><line x1="1583.2" y1="3292.5" x2="1107.2" y2="4116.9"/><line x1="1706.2" y1="3079.4" x2="1706.2" y2="4277.4"/><line x1="1829.2" y1="3292.5" x2="2305.2" y2="4116.9"/><line x1="1919.3" y1="3202.4" x2="2743.7" y2="3678.4"/></g><circle cx="1706.2" cy="3079.4" r="1199.0" fill="none" stroke="#000" stroke-width="3.3"/><circle cx="1706.2" cy="3079.4" r="1226.9" fill="none" stroke="#000" stroke-width="3.3"/><path d="M2919.4,3079.4A1213.25,1213.25 0 0 0 2756.9,2472.8M2312.8,2028.7A1213.25,1213.25 0 0 0 1706.2,1866.2M1099.6,2028.7A1213.25,1213.25 0 0 0 655.5,2472.8M493.0,3079.4A1213.25,1213.25 0 0 0 655.5,3686.0M1099.6,4130.1A1213.25,1213.25 0 0 0 1706.2,4292.6M2312.8,4130.1A1213.25,1213.25 0 0 0 2756.9,3686.0" fill="none" stroke="#000" stroke-width="30.5"/><text transform="translate(3011.7,3079.4) rotate(-90) scale(1,1.07)" text-anchor="middle" font-size="64.5" font-family="Liberation Sans, sans-serif">0°</text><text transform="translate(2836.8,2426.7) rotate(-120) scale(1,1.07)" text-anchor="middle" font-size="64.5" font-family="Liberation Sans, sans-serif">30°</text><text transform="translate(2359.0,1948.8) rotate(-150) scale(1,1.07)" text-anchor="middle" font-size="64.5" font-family="Liberation Sans, sans-serif">60°</text><text transform="translate(1706.2,1773.9) rotate(-180) scale(1,1.07)" text-anchor="middle" font-size="64.5" font-family="Liberation Sans, sans-serif">90°</text><text transform="translate(1079.0,1993.0) rotate(-30) scale(1,1.07)" text-anchor="middle" font-size="64.5" font-family="Liberation Sans, sans-serif">120°</text><text transform="translate(619.8,2452.2) rotate(-60) scale(1,1.07)" text-anchor="middle" font-size="64.5" font-family="Liberation Sans, sans-serif">150°</text><text transform="translate(451.7,3079.4) rotate(-90) scale(1,1.07)" text-anchor="middle" font-size="64.5" font-family="Liberation Sans, sans-serif">−180°</text><text transform="translate(619.8,3706.7) rotate(-120) scale(1,1.07)" text-anchor="middle" font-size="64.5" font-family="Liberation Sans, sans-serif">−150°</text><text transform="translate(1079.0,4165.8) rotate(-150) scale(1,1.07)" text-anchor="middle" font-size="64.5" font-family="Liberation Sans, sans-serif">−120°</text><text transform="translate(1706.2,4333.9) rotate(-180) scale(1,1.07)" text-anchor="middle" font-size="64.5" font-family="Liberation Sans, sans-serif">−90°</text><text transform="translate(2359.0,4210.0) rotate(-30) scale(1,1.07)" text-anchor="middle" font-size="64.5" font-family="Liberation Sans, sans-serif">−60°</text><text transform="translate(2836.8,3732.2) rotate(-60) scale(1,1.07)" text-anchor="middle" font-size="64.5" font-family="Liberation Sans, sans-serif">−30°</text><text transform="translate(311,3072) rotate(-90) scale(1,1.085)" text-anchor="middle" font-size="98.5" font-family="Liberation Sans, sans-serif">Wind Speed 19/11/2025</text><path d="M894.4,872.2L930.6,908.4L894.4,944.6L858.2,908.4Z"/><path d="M930.1,908.4L987.1,874.8L987.1,942Z"/><rect x="1015.1" y="882.9" width="51.8" height="51.8"/><polygon points="1070.0,908.7 1100.5,898.8 1100.5,866.7 1119.4,892.6 1150.0,882.7 1131.1,908.7 1150.0,934.7 1119.4,924.8 1100.5,950.7 1100.5,918.6"/><text transform="translate(920.0,828) rotate(-90) scale(1,1.09)" font-size="66.7" font-family="Liberation Sans, sans-serif">Cryosat−2</text><text transform="translate(993.3,828) rotate(-90) scale(1,1.09)" font-size="66.7" font-family="Liberation Sans, sans-serif">Sentinel−3A</text><text transform="translate(1066.6,828) rotate(-90) scale(1,1.09)" font-size="66.7" font-family="Liberation Sans, sans-serif">Sentinel−3B</text><text transform="translate(1139.9,828) rotate(-90) scale(1,1.09)" font-size="66.7" font-family="Liberation Sans, sans-serif">SARAL</text><rect x="1645.4" y="653.5" width="1260" height="160.2" fill="url(#jet)" stroke="#000" stroke-width="8"/><line x1="2875.3" y1="650" x2="2875.3" y2="624.5" stroke="#000" stroke-width="3"/><text transform="translate(2899.8,526.6) rotate(-90) scale(1,1.04)" text-anchor="end" font-size="68.5" font-family="Liberation Sans, sans-serif">0</text><line x1="2575.3" y1="650" x2="2575.3" y2="624.5" stroke="#000" stroke-width="3"/><text transform="translate(2599.8,526.6) rotate(-90) scale(1,1.04)" text-anchor="end" font-size="68.5" font-family="Liberation Sans, sans-serif">5</text><line x1="2275.3" y1="650" x2="2275.3" y2="624.5" stroke="#000" stroke-width="3"/><text transform="translate(2299.8,526.6) rotate(-90) scale(1,1.04)" text-anchor="end" font-size="68.5" font-family="Liberation Sans, sans-serif">10</text><line x1="1975.3000000000002" y1="650" x2="1975.3000000000002" y2="624.5" stroke="#000" stroke-width="3"/><text transform="translate(1999.8000000000002,526.6) rotate(-90) scale(1,1.04)" text-anchor="end" font-size="68.5" font-family="Liberation Sans, sans-serif">15</text><line x1="1675.3000000000002" y1="650" x2="1675.3000000000002" y2="624.5" stroke="#000" stroke-width="3"/><text transform="translate(1699.8000000000002,526.6) rotate(-90) scale(1,1.04)" text-anchor="end" font-size="68.5" font-family="Liberation Sans, sans-serif">20</text><text transform="translate(1620,730.5) rotate(-90) scale(1,1.04)" text-anchor="middle" font-size="68.5" font-family="Liberation Sans, sans-serif">m/s</text></svg></body></html>
